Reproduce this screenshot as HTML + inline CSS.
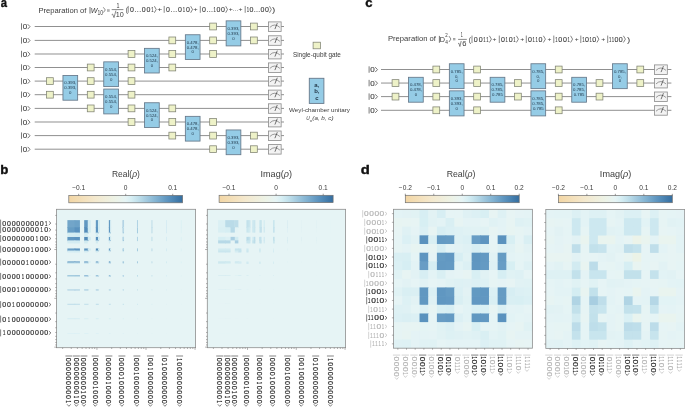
<!DOCTYPE html>
<html><head><meta charset="utf-8"><style>
html,body{margin:0;padding:0;background:#fff;}
body{width:685px;height:407px;overflow:hidden;}
svg{display:block;font-family:"Liberation Sans", sans-serif;will-change:transform;}
</style></head><body>
<svg width="685" height="407" viewBox="0 0 685 407">
<rect width="685" height="407" fill="#fff"/>
<text x="0.67" y="6.90" font-size="12.6" fill="#111" font-weight="bold" textLength="6.26" lengthAdjust="spacingAndGlyphs" stroke="#111" stroke-width="0.35">a</text>
<text x="38.47" y="12.55" font-size="7.4" fill="#3a3a3a" textLength="47.91" lengthAdjust="spacingAndGlyphs" >Preparation of</text>
<line x1="90.00" y1="7.00" x2="90.00" y2="13.60" stroke="#3a3a3a" stroke-width="0.70"/>
<text x="90.68" y="12.80" font-size="7.6" fill="#3a3a3a" font-style="italic" textLength="6.76" lengthAdjust="spacingAndGlyphs" >W</text>
<text x="97.52" y="15.40" font-size="6.3" fill="#3a3a3a" textLength="5.58" lengthAdjust="spacingAndGlyphs" >10</text>
<polyline points="103.30,7.30 105.30,9.95 103.30,12.60" fill="none" stroke="#3a3a3a" stroke-width="0.60" stroke-linejoin="miter"/>
<line x1="107.0" y1="9.9" x2="109.7" y2="9.9" stroke="#3a3a3a" stroke-width="0.55"/>
<line x1="107.0" y1="11.1" x2="109.7" y2="11.1" stroke="#3a3a3a" stroke-width="0.55"/>
<text x="116.59" y="7.80" font-size="6.9" fill="#3a3a3a" textLength="2.97" lengthAdjust="spacingAndGlyphs" >1</text>
<line x1="111.7" y1="9.6" x2="123.4" y2="9.6" stroke="#3a3a3a" stroke-width="0.6"/>
<polyline points="111.7,14.6 112.6,14.1 114.0,17.6 115.9,10.6" fill="none" stroke="#3a3a3a" stroke-width="0.6"/>
<text x="115.65" y="16.90" font-size="7.6" fill="#3a3a3a" textLength="8.03" lengthAdjust="spacingAndGlyphs" >10</text>
<text x="125.80" y="12.40" font-size="7.2" fill="#3a3a3a" textLength="2.14" lengthAdjust="spacingAndGlyphs" >(</text>
<line x1="128.20" y1="5.95" x2="128.20" y2="12.81" stroke="#3a3a3a" stroke-width="0.60"/>
<polyline points="154.40,6.19 156.20,9.48 154.40,12.77" fill="none" stroke="#3a3a3a" stroke-width="0.63" stroke-linejoin="miter"/>
<text x="129.93" y="11.90" font-size="7.0" fill="#3a3a3a"  stroke="#3a3a3a" stroke-width="0.12">0</text>
<text x="134.47" y="11.90" font-size="7.0" fill="#3a3a3a"  stroke="#3a3a3a" stroke-width="0.12">.</text>
<text x="136.85" y="11.90" font-size="7.0" fill="#3a3a3a"  stroke="#3a3a3a" stroke-width="0.12">.</text>
<text x="139.23" y="11.90" font-size="7.0" fill="#3a3a3a"  stroke="#3a3a3a" stroke-width="0.12">.</text>
<text x="141.83" y="11.90" font-size="7.0" fill="#3a3a3a"  stroke="#3a3a3a" stroke-width="0.12">0</text>
<text x="146.58" y="11.90" font-size="7.0" fill="#3a3a3a"  stroke="#3a3a3a" stroke-width="0.12">0</text>
<text transform="translate(152.45,11.90) scale(0.6,1)" x="-2.04" y="0" font-size="7.0" fill="#3a3a3a" stroke="#3a3a3a" stroke-width="0.12">1</text>
<line x1="164.20" y1="5.95" x2="164.20" y2="12.81" stroke="#3a3a3a" stroke-width="0.60"/>
<polyline points="190.70,6.19 192.50,9.48 190.70,12.77" fill="none" stroke="#3a3a3a" stroke-width="0.63" stroke-linejoin="miter"/>
<text x="165.96" y="11.90" font-size="7.0" fill="#3a3a3a"  stroke="#3a3a3a" stroke-width="0.12">0</text>
<text x="170.55" y="11.90" font-size="7.0" fill="#3a3a3a"  stroke="#3a3a3a" stroke-width="0.12">.</text>
<text x="172.95" y="11.90" font-size="7.0" fill="#3a3a3a"  stroke="#3a3a3a" stroke-width="0.12">.</text>
<text x="175.36" y="11.90" font-size="7.0" fill="#3a3a3a"  stroke="#3a3a3a" stroke-width="0.12">.</text>
<text x="178.00" y="11.90" font-size="7.0" fill="#3a3a3a"  stroke="#3a3a3a" stroke-width="0.12">0</text>
<text transform="translate(183.92,11.90) scale(0.6,1)" x="-2.04" y="0" font-size="7.0" fill="#3a3a3a" stroke="#3a3a3a" stroke-width="0.12">1</text>
<text x="185.95" y="11.90" font-size="7.0" fill="#3a3a3a"  stroke="#3a3a3a" stroke-width="0.12">0</text>
<line x1="200.30" y1="5.95" x2="200.30" y2="12.81" stroke="#3a3a3a" stroke-width="0.60"/>
<polyline points="225.70,6.19 227.50,9.48 225.70,12.77" fill="none" stroke="#3a3a3a" stroke-width="0.63" stroke-linejoin="miter"/>
<text x="201.95" y="11.90" font-size="7.0" fill="#3a3a3a"  stroke="#3a3a3a" stroke-width="0.12">0</text>
<text x="206.38" y="11.90" font-size="7.0" fill="#3a3a3a"  stroke="#3a3a3a" stroke-width="0.12">.</text>
<text x="208.68" y="11.90" font-size="7.0" fill="#3a3a3a"  stroke="#3a3a3a" stroke-width="0.12">.</text>
<text x="210.98" y="11.90" font-size="7.0" fill="#3a3a3a"  stroke="#3a3a3a" stroke-width="0.12">.</text>
<text transform="translate(214.60,11.90) scale(0.6,1)" x="-2.04" y="0" font-size="7.0" fill="#3a3a3a" stroke="#3a3a3a" stroke-width="0.12">1</text>
<text x="216.45" y="11.90" font-size="7.0" fill="#3a3a3a"  stroke="#3a3a3a" stroke-width="0.12">0</text>
<text x="221.05" y="11.90" font-size="7.0" fill="#3a3a3a"  stroke="#3a3a3a" stroke-width="0.12">0</text>
<line x1="245.20" y1="5.95" x2="245.20" y2="12.81" stroke="#3a3a3a" stroke-width="0.60"/>
<polyline points="269.50,6.19 271.30,9.48 269.50,12.77" fill="none" stroke="#3a3a3a" stroke-width="0.63" stroke-linejoin="miter"/>
<text transform="translate(247.93,11.90) scale(0.6,1)" x="-2.04" y="0" font-size="7.0" fill="#3a3a3a" stroke="#3a3a3a" stroke-width="0.12">1</text>
<text x="249.60" y="11.90" font-size="7.0" fill="#3a3a3a"  stroke="#3a3a3a" stroke-width="0.12">0</text>
<text x="253.87" y="11.90" font-size="7.0" fill="#3a3a3a"  stroke="#3a3a3a" stroke-width="0.12">.</text>
<text x="256.06" y="11.90" font-size="7.0" fill="#3a3a3a"  stroke="#3a3a3a" stroke-width="0.12">.</text>
<text x="258.25" y="11.90" font-size="7.0" fill="#3a3a3a"  stroke="#3a3a3a" stroke-width="0.12">.</text>
<text x="260.57" y="11.90" font-size="7.0" fill="#3a3a3a"  stroke="#3a3a3a" stroke-width="0.12">0</text>
<text x="264.96" y="11.90" font-size="7.0" fill="#3a3a3a"  stroke="#3a3a3a" stroke-width="0.12">0</text>
<text x="157.39" y="10.80" font-size="6.0" fill="#3a3a3a" textLength="4.93" lengthAdjust="spacingAndGlyphs" >+</text>
<text x="193.23" y="10.80" font-size="6.0" fill="#3a3a3a" textLength="4.45" lengthAdjust="spacingAndGlyphs" >+</text>
<text x="228.76" y="10.90" font-size="6.2" fill="#3a3a3a" textLength="13.78" lengthAdjust="spacingAndGlyphs" >+...+</text>
<text x="271.94" y="12.40" font-size="7.2" fill="#3a3a3a" textLength="3.27" lengthAdjust="spacingAndGlyphs" >)</text>
<line x1="34.70" y1="26.50" x2="284.00" y2="26.50" stroke="#8a8a8a" stroke-width="0.95"/>
<line x1="21.50" y1="23.31" x2="21.50" y2="29.75" stroke="#444" stroke-width="0.70"/>
<polyline points="27.70,24.19 30.00,26.64 27.70,29.09" fill="none" stroke="#444" stroke-width="0.73" stroke-linejoin="miter"/>
<text transform="translate(24.97,29.05) scale(1.15,1)" x="-1.95" y="0" font-size="7.0" fill="#444" stroke="#444" stroke-width="0.12">0</text>
<line x1="34.70" y1="40.40" x2="284.00" y2="40.40" stroke="#8a8a8a" stroke-width="0.95"/>
<line x1="21.50" y1="37.21" x2="21.50" y2="43.65" stroke="#444" stroke-width="0.70"/>
<polyline points="27.70,38.08 30.00,40.53 27.70,42.98" fill="none" stroke="#444" stroke-width="0.73" stroke-linejoin="miter"/>
<text transform="translate(24.97,42.95) scale(1.15,1)" x="-1.95" y="0" font-size="7.0" fill="#444" stroke="#444" stroke-width="0.12">0</text>
<line x1="34.70" y1="54.00" x2="284.00" y2="54.00" stroke="#8a8a8a" stroke-width="0.95"/>
<line x1="21.50" y1="50.81" x2="21.50" y2="57.25" stroke="#444" stroke-width="0.70"/>
<polyline points="27.70,51.68 30.00,54.13 27.70,56.59" fill="none" stroke="#444" stroke-width="0.73" stroke-linejoin="miter"/>
<text transform="translate(24.97,56.55) scale(1.15,1)" x="-1.95" y="0" font-size="7.0" fill="#444" stroke="#444" stroke-width="0.12">0</text>
<line x1="34.70" y1="67.50" x2="284.00" y2="67.50" stroke="#8a8a8a" stroke-width="0.95"/>
<line x1="21.50" y1="64.31" x2="21.50" y2="70.75" stroke="#444" stroke-width="0.70"/>
<polyline points="27.70,65.18 30.00,67.63 27.70,70.08" fill="none" stroke="#444" stroke-width="0.73" stroke-linejoin="miter"/>
<text transform="translate(24.97,70.05) scale(1.15,1)" x="-1.95" y="0" font-size="7.0" fill="#444" stroke="#444" stroke-width="0.12">0</text>
<line x1="34.70" y1="81.10" x2="284.00" y2="81.10" stroke="#8a8a8a" stroke-width="0.95"/>
<line x1="21.50" y1="77.91" x2="21.50" y2="84.35" stroke="#444" stroke-width="0.70"/>
<polyline points="27.70,78.78 30.00,81.23 27.70,83.68" fill="none" stroke="#444" stroke-width="0.73" stroke-linejoin="miter"/>
<text transform="translate(24.97,83.65) scale(1.15,1)" x="-1.95" y="0" font-size="7.0" fill="#444" stroke="#444" stroke-width="0.12">0</text>
<line x1="34.70" y1="94.70" x2="284.00" y2="94.70" stroke="#8a8a8a" stroke-width="0.95"/>
<line x1="21.50" y1="91.51" x2="21.50" y2="97.95" stroke="#444" stroke-width="0.70"/>
<polyline points="27.70,92.38 30.00,94.83 27.70,97.28" fill="none" stroke="#444" stroke-width="0.73" stroke-linejoin="miter"/>
<text transform="translate(24.97,97.25) scale(1.15,1)" x="-1.95" y="0" font-size="7.0" fill="#444" stroke="#444" stroke-width="0.12">0</text>
<line x1="34.70" y1="108.40" x2="284.00" y2="108.40" stroke="#8a8a8a" stroke-width="0.95"/>
<line x1="21.50" y1="105.21" x2="21.50" y2="111.65" stroke="#444" stroke-width="0.70"/>
<polyline points="27.70,106.08 30.00,108.53 27.70,110.98" fill="none" stroke="#444" stroke-width="0.73" stroke-linejoin="miter"/>
<text transform="translate(24.97,110.95) scale(1.15,1)" x="-1.95" y="0" font-size="7.0" fill="#444" stroke="#444" stroke-width="0.12">0</text>
<line x1="34.70" y1="122.00" x2="284.00" y2="122.00" stroke="#8a8a8a" stroke-width="0.95"/>
<line x1="21.50" y1="118.81" x2="21.50" y2="125.25" stroke="#444" stroke-width="0.70"/>
<polyline points="27.70,119.68 30.00,122.13 27.70,124.58" fill="none" stroke="#444" stroke-width="0.73" stroke-linejoin="miter"/>
<text transform="translate(24.97,124.55) scale(1.15,1)" x="-1.95" y="0" font-size="7.0" fill="#444" stroke="#444" stroke-width="0.12">0</text>
<line x1="34.70" y1="135.60" x2="284.00" y2="135.60" stroke="#8a8a8a" stroke-width="0.95"/>
<line x1="21.50" y1="132.41" x2="21.50" y2="138.85" stroke="#444" stroke-width="0.70"/>
<polyline points="27.70,133.29 30.00,135.74 27.70,138.19" fill="none" stroke="#444" stroke-width="0.73" stroke-linejoin="miter"/>
<text transform="translate(24.97,138.15) scale(1.15,1)" x="-1.95" y="0" font-size="7.0" fill="#444" stroke="#444" stroke-width="0.12">0</text>
<line x1="34.70" y1="149.20" x2="284.00" y2="149.20" stroke="#8a8a8a" stroke-width="0.95"/>
<line x1="21.50" y1="146.01" x2="21.50" y2="152.45" stroke="#444" stroke-width="0.70"/>
<polyline points="27.70,146.89 30.00,149.34 27.70,151.78" fill="none" stroke="#444" stroke-width="0.73" stroke-linejoin="miter"/>
<text transform="translate(24.97,151.75) scale(1.15,1)" x="-1.95" y="0" font-size="7.0" fill="#444" stroke="#444" stroke-width="0.12">0</text>
<rect x="46.50" y="77.70" width="6.80" height="6.80" fill="#eef2c8" stroke="#7f8272" stroke-width="0.75"/>
<rect x="46.50" y="91.30" width="6.80" height="6.80" fill="#eef2c8" stroke="#7f8272" stroke-width="0.75"/>
<rect x="87.30" y="64.10" width="6.80" height="6.80" fill="#eef2c8" stroke="#7f8272" stroke-width="0.75"/>
<rect x="87.30" y="77.70" width="6.80" height="6.80" fill="#eef2c8" stroke="#7f8272" stroke-width="0.75"/>
<rect x="87.30" y="91.30" width="6.80" height="6.80" fill="#eef2c8" stroke="#7f8272" stroke-width="0.75"/>
<rect x="87.30" y="105.00" width="6.80" height="6.80" fill="#eef2c8" stroke="#7f8272" stroke-width="0.75"/>
<rect x="128.10" y="50.60" width="6.80" height="6.80" fill="#eef2c8" stroke="#7f8272" stroke-width="0.75"/>
<rect x="128.10" y="64.10" width="6.80" height="6.80" fill="#eef2c8" stroke="#7f8272" stroke-width="0.75"/>
<rect x="128.10" y="77.70" width="6.80" height="6.80" fill="#eef2c8" stroke="#7f8272" stroke-width="0.75"/>
<rect x="128.10" y="91.30" width="6.80" height="6.80" fill="#eef2c8" stroke="#7f8272" stroke-width="0.75"/>
<rect x="128.10" y="105.00" width="6.80" height="6.80" fill="#eef2c8" stroke="#7f8272" stroke-width="0.75"/>
<rect x="128.10" y="118.60" width="6.80" height="6.80" fill="#eef2c8" stroke="#7f8272" stroke-width="0.75"/>
<rect x="168.90" y="37.00" width="6.80" height="6.80" fill="#eef2c8" stroke="#7f8272" stroke-width="0.75"/>
<rect x="168.90" y="50.60" width="6.80" height="6.80" fill="#eef2c8" stroke="#7f8272" stroke-width="0.75"/>
<rect x="168.90" y="64.10" width="6.80" height="6.80" fill="#eef2c8" stroke="#7f8272" stroke-width="0.75"/>
<rect x="168.90" y="105.00" width="6.80" height="6.80" fill="#eef2c8" stroke="#7f8272" stroke-width="0.75"/>
<rect x="168.90" y="118.60" width="6.80" height="6.80" fill="#eef2c8" stroke="#7f8272" stroke-width="0.75"/>
<rect x="168.90" y="132.20" width="6.80" height="6.80" fill="#eef2c8" stroke="#7f8272" stroke-width="0.75"/>
<rect x="209.70" y="23.10" width="6.80" height="6.80" fill="#eef2c8" stroke="#7f8272" stroke-width="0.75"/>
<rect x="209.70" y="37.00" width="6.80" height="6.80" fill="#eef2c8" stroke="#7f8272" stroke-width="0.75"/>
<rect x="209.70" y="50.60" width="6.80" height="6.80" fill="#eef2c8" stroke="#7f8272" stroke-width="0.75"/>
<rect x="209.70" y="118.60" width="6.80" height="6.80" fill="#eef2c8" stroke="#7f8272" stroke-width="0.75"/>
<rect x="209.70" y="132.20" width="6.80" height="6.80" fill="#eef2c8" stroke="#7f8272" stroke-width="0.75"/>
<rect x="209.70" y="145.80" width="6.80" height="6.80" fill="#eef2c8" stroke="#7f8272" stroke-width="0.75"/>
<rect x="250.50" y="23.10" width="6.80" height="6.80" fill="#eef2c8" stroke="#7f8272" stroke-width="0.75"/>
<rect x="250.50" y="37.00" width="6.80" height="6.80" fill="#eef2c8" stroke="#7f8272" stroke-width="0.75"/>
<rect x="250.50" y="132.20" width="6.80" height="6.80" fill="#eef2c8" stroke="#7f8272" stroke-width="0.75"/>
<rect x="250.50" y="145.80" width="6.80" height="6.80" fill="#eef2c8" stroke="#7f8272" stroke-width="0.75"/>
<rect x="62.95" y="75.45" width="14.70" height="24.75" fill="#95cce6" stroke="#66788a" stroke-width="0.85"/>
<text x="70.30" y="84.45" font-size="4.3" fill="#1e3447" text-anchor="middle" >0.393,</text>
<text x="70.30" y="89.30" font-size="4.3" fill="#1e3447" text-anchor="middle" >0.393,</text>
<text x="70.30" y="94.15" font-size="4.3" fill="#1e3447" text-anchor="middle" >0</text>
<rect x="103.75" y="61.85" width="14.70" height="24.75" fill="#95cce6" stroke="#66788a" stroke-width="0.85"/>
<text x="111.10" y="70.85" font-size="4.3" fill="#1e3447" text-anchor="middle" >0.554,</text>
<text x="111.10" y="75.70" font-size="4.3" fill="#1e3447" text-anchor="middle" >0.554,</text>
<text x="111.10" y="80.55" font-size="4.3" fill="#1e3447" text-anchor="middle" >0</text>
<rect x="103.75" y="89.05" width="14.70" height="24.85" fill="#95cce6" stroke="#66788a" stroke-width="0.85"/>
<text x="111.10" y="98.05" font-size="4.3" fill="#1e3447" text-anchor="middle" >0.554,</text>
<text x="111.10" y="102.90" font-size="4.3" fill="#1e3447" text-anchor="middle" >0.554,</text>
<text x="111.10" y="107.75" font-size="4.3" fill="#1e3447" text-anchor="middle" >0</text>
<rect x="144.55" y="48.35" width="14.70" height="24.65" fill="#95cce6" stroke="#66788a" stroke-width="0.85"/>
<text x="151.90" y="57.35" font-size="4.3" fill="#1e3447" text-anchor="middle" >0.524,</text>
<text x="151.90" y="62.20" font-size="4.3" fill="#1e3447" text-anchor="middle" >0.524,</text>
<text x="151.90" y="67.05" font-size="4.3" fill="#1e3447" text-anchor="middle" >0</text>
<rect x="144.55" y="102.75" width="14.70" height="24.75" fill="#95cce6" stroke="#66788a" stroke-width="0.85"/>
<text x="151.90" y="111.75" font-size="4.3" fill="#1e3447" text-anchor="middle" >0.524,</text>
<text x="151.90" y="116.60" font-size="4.3" fill="#1e3447" text-anchor="middle" >0.524,</text>
<text x="151.90" y="121.45" font-size="4.3" fill="#1e3447" text-anchor="middle" >0</text>
<rect x="185.35" y="34.75" width="14.70" height="24.75" fill="#95cce6" stroke="#66788a" stroke-width="0.85"/>
<text x="192.70" y="43.75" font-size="4.3" fill="#1e3447" text-anchor="middle" >0.478,</text>
<text x="192.70" y="48.60" font-size="4.3" fill="#1e3447" text-anchor="middle" >0.478,</text>
<text x="192.70" y="53.45" font-size="4.3" fill="#1e3447" text-anchor="middle" >0</text>
<rect x="185.35" y="116.35" width="14.70" height="24.75" fill="#95cce6" stroke="#66788a" stroke-width="0.85"/>
<text x="192.70" y="125.35" font-size="4.3" fill="#1e3447" text-anchor="middle" >0.478,</text>
<text x="192.70" y="130.20" font-size="4.3" fill="#1e3447" text-anchor="middle" >0.478,</text>
<text x="192.70" y="135.05" font-size="4.3" fill="#1e3447" text-anchor="middle" >0</text>
<rect x="226.15" y="20.85" width="14.70" height="25.05" fill="#95cce6" stroke="#66788a" stroke-width="0.85"/>
<text x="233.50" y="29.85" font-size="4.3" fill="#1e3447" text-anchor="middle" >0.393,</text>
<text x="233.50" y="34.70" font-size="4.3" fill="#1e3447" text-anchor="middle" >0.393,</text>
<text x="233.50" y="39.55" font-size="4.3" fill="#1e3447" text-anchor="middle" >0</text>
<rect x="226.15" y="129.95" width="14.70" height="24.75" fill="#95cce6" stroke="#66788a" stroke-width="0.85"/>
<text x="233.50" y="138.95" font-size="4.3" fill="#1e3447" text-anchor="middle" >0.393,</text>
<text x="233.50" y="143.80" font-size="4.3" fill="#1e3447" text-anchor="middle" >0.393,</text>
<text x="233.50" y="148.65" font-size="4.3" fill="#1e3447" text-anchor="middle" >0</text>
<rect x="268.45" y="21.90" width="12.70" height="9.50" fill="#f3f3f3" stroke="#8a8a8a" stroke-width="0.8"/>
<path d="M269.85,27.40 Q274.50,22.60 279.90,27.40" fill="none" stroke="#5a5a5a" stroke-width="0.6"/>
<path d="M274.90,29.10 L277.30,23.10" fill="none" stroke="#3a3a3a" stroke-width="0.7"/>
<rect x="268.45" y="35.80" width="12.70" height="9.50" fill="#f3f3f3" stroke="#8a8a8a" stroke-width="0.8"/>
<path d="M269.85,41.30 Q274.50,36.50 279.90,41.30" fill="none" stroke="#5a5a5a" stroke-width="0.6"/>
<path d="M274.90,43.00 L277.30,37.00" fill="none" stroke="#3a3a3a" stroke-width="0.7"/>
<rect x="268.45" y="49.40" width="12.70" height="9.50" fill="#f3f3f3" stroke="#8a8a8a" stroke-width="0.8"/>
<path d="M269.85,54.90 Q274.50,50.10 279.90,54.90" fill="none" stroke="#5a5a5a" stroke-width="0.6"/>
<path d="M274.90,56.60 L277.30,50.60" fill="none" stroke="#3a3a3a" stroke-width="0.7"/>
<rect x="268.45" y="62.90" width="12.70" height="9.50" fill="#f3f3f3" stroke="#8a8a8a" stroke-width="0.8"/>
<path d="M269.85,68.40 Q274.50,63.60 279.90,68.40" fill="none" stroke="#5a5a5a" stroke-width="0.6"/>
<path d="M274.90,70.10 L277.30,64.10" fill="none" stroke="#3a3a3a" stroke-width="0.7"/>
<rect x="268.45" y="76.50" width="12.70" height="9.50" fill="#f3f3f3" stroke="#8a8a8a" stroke-width="0.8"/>
<path d="M269.85,82.00 Q274.50,77.20 279.90,82.00" fill="none" stroke="#5a5a5a" stroke-width="0.6"/>
<path d="M274.90,83.70 L277.30,77.70" fill="none" stroke="#3a3a3a" stroke-width="0.7"/>
<rect x="268.45" y="90.10" width="12.70" height="9.50" fill="#f3f3f3" stroke="#8a8a8a" stroke-width="0.8"/>
<path d="M269.85,95.60 Q274.50,90.80 279.90,95.60" fill="none" stroke="#5a5a5a" stroke-width="0.6"/>
<path d="M274.90,97.30 L277.30,91.30" fill="none" stroke="#3a3a3a" stroke-width="0.7"/>
<rect x="268.45" y="103.80" width="12.70" height="9.50" fill="#f3f3f3" stroke="#8a8a8a" stroke-width="0.8"/>
<path d="M269.85,109.30 Q274.50,104.50 279.90,109.30" fill="none" stroke="#5a5a5a" stroke-width="0.6"/>
<path d="M274.90,111.00 L277.30,105.00" fill="none" stroke="#3a3a3a" stroke-width="0.7"/>
<rect x="268.45" y="117.40" width="12.70" height="9.50" fill="#f3f3f3" stroke="#8a8a8a" stroke-width="0.8"/>
<path d="M269.85,122.90 Q274.50,118.10 279.90,122.90" fill="none" stroke="#5a5a5a" stroke-width="0.6"/>
<path d="M274.90,124.60 L277.30,118.60" fill="none" stroke="#3a3a3a" stroke-width="0.7"/>
<rect x="268.45" y="131.00" width="12.70" height="9.50" fill="#f3f3f3" stroke="#8a8a8a" stroke-width="0.8"/>
<path d="M269.85,136.50 Q274.50,131.70 279.90,136.50" fill="none" stroke="#5a5a5a" stroke-width="0.6"/>
<path d="M274.90,138.20 L277.30,132.20" fill="none" stroke="#3a3a3a" stroke-width="0.7"/>
<rect x="268.45" y="144.60" width="12.70" height="9.50" fill="#f3f3f3" stroke="#8a8a8a" stroke-width="0.8"/>
<path d="M269.85,150.10 Q274.50,145.30 279.90,150.10" fill="none" stroke="#5a5a5a" stroke-width="0.6"/>
<path d="M274.90,151.80 L277.30,145.80" fill="none" stroke="#3a3a3a" stroke-width="0.7"/>
<rect x="313.1" y="42.2" width="7.3" height="6.6" fill="#eef2c8" stroke="#7f8272" stroke-width="0.75"/>
<text x="292.91" y="56.60" font-size="6.3" fill="#3a3a3a" textLength="47.97" lengthAdjust="spacingAndGlyphs" >Single-qubit gate</text>
<rect x="309.3" y="78.3" width="14.6" height="25.1" fill="#95cce6" stroke="#66788a" stroke-width="0.9"/>
<text x="316.80" y="86.60" font-size="6.0" fill="#24394a" text-anchor="middle" font-weight="bold" >a,</text>
<text x="316.80" y="93.40" font-size="6.0" fill="#24394a" text-anchor="middle" font-weight="bold" >b,</text>
<text x="316.80" y="100.20" font-size="6.0" fill="#24394a" text-anchor="middle" font-weight="bold" >c</text>
<text x="289.07" y="112.40" font-size="6.2" fill="#3a3a3a" textLength="60.84" lengthAdjust="spacingAndGlyphs" >Weyl-chamber unitary</text>
<text x="306.14" y="120.20" font-size="5.8" fill="#3a3a3a" font-style="italic" textLength="3.43" lengthAdjust="spacingAndGlyphs" >U</text>
<text x="309.85" y="121.50" font-size="3.6" fill="#3a3a3a" font-style="italic" textLength="2.19" lengthAdjust="spacingAndGlyphs" >w</text>
<text x="312.31" y="120.00" font-size="6.2" fill="#3a3a3a" font-style="italic" textLength="21.27" lengthAdjust="spacingAndGlyphs" >(a, b, c)</text>
<text x="365.29" y="6.80" font-size="12.6" fill="#111" font-weight="bold" textLength="7.30" lengthAdjust="spacingAndGlyphs" stroke="#111" stroke-width="0.35">c</text>
<text x="387.97" y="41.45" font-size="7.4" fill="#3a3a3a" textLength="48.02" lengthAdjust="spacingAndGlyphs" >Preparation of</text>
<line x1="439.40" y1="35.90" x2="439.40" y2="42.80" stroke="#3a3a3a" stroke-width="0.70"/>
<text x="439.70" y="42.00" font-size="7.2" fill="#3a3a3a" textLength="5.24" lengthAdjust="spacingAndGlyphs" >D</text>
<text x="445.18" y="36.90" font-size="4.6" fill="#3a3a3a" textLength="2.44" lengthAdjust="spacingAndGlyphs" >2</text>
<text x="445.29" y="43.60" font-size="4.6" fill="#3a3a3a" textLength="2.65" lengthAdjust="spacingAndGlyphs" >4</text>
<polyline points="449.00,36.10 450.90,39.05 449.00,42.00" fill="none" stroke="#3a3a3a" stroke-width="0.60" stroke-linejoin="miter"/>
<line x1="453.0" y1="38.6" x2="455.4" y2="38.6" stroke="#3a3a3a" stroke-width="0.55"/>
<line x1="453.0" y1="39.8" x2="455.4" y2="39.8" stroke="#3a3a3a" stroke-width="0.55"/>
<text x="460.82" y="36.60" font-size="7.1" fill="#3a3a3a" textLength="2.06" lengthAdjust="spacingAndGlyphs" >1</text>
<line x1="458.1" y1="39.4" x2="466.8" y2="39.4" stroke="#3a3a3a" stroke-width="0.6"/>
<polyline points="458.1,43.6 458.9,43.2 459.9,46.5 461.2,41.0" fill="none" stroke="#3a3a3a" stroke-width="0.6"/>
<text x="462.31" y="46.10" font-size="6.9" fill="#3a3a3a" textLength="4.22" lengthAdjust="spacingAndGlyphs" >6</text>
<text x="468.78" y="42.10" font-size="7.0" fill="#3a3a3a" textLength="2.26" lengthAdjust="spacingAndGlyphs" >(</text>
<line x1="472.00" y1="35.57" x2="472.00" y2="43.02" stroke="#3a3a3a" stroke-width="0.60"/>
<polyline points="489.40,35.78 491.40,39.15 489.40,42.52" fill="none" stroke="#3a3a3a" stroke-width="0.63" stroke-linejoin="miter"/>
<text x="473.78" y="41.60" font-size="7.1" fill="#3a3a3a"  stroke="#3a3a3a" stroke-width="0.12">0</text>
<text x="478.69" y="41.60" font-size="7.1" fill="#3a3a3a"  stroke="#3a3a3a" stroke-width="0.12">0</text>
<text transform="translate(484.58,41.60) scale(0.6,1)" x="-2.07" y="0" font-size="7.1" fill="#3a3a3a" stroke="#3a3a3a" stroke-width="0.12">1</text>
<text transform="translate(487.53,41.60) scale(0.6,1)" x="-2.07" y="0" font-size="7.1" fill="#3a3a3a" stroke="#3a3a3a" stroke-width="0.12">1</text>
<line x1="499.30" y1="35.57" x2="499.30" y2="43.02" stroke="#3a3a3a" stroke-width="0.60"/>
<polyline points="516.40,35.78 518.40,39.15 516.40,42.52" fill="none" stroke="#3a3a3a" stroke-width="0.63" stroke-linejoin="miter"/>
<text x="501.03" y="41.60" font-size="7.1" fill="#3a3a3a"  stroke="#3a3a3a" stroke-width="0.12">0</text>
<text transform="translate(506.86,41.60) scale(0.6,1)" x="-2.07" y="0" font-size="7.1" fill="#3a3a3a" stroke="#3a3a3a" stroke-width="0.12">1</text>
<text x="508.73" y="41.60" font-size="7.1" fill="#3a3a3a"  stroke="#3a3a3a" stroke-width="0.12">0</text>
<text transform="translate(514.56,41.60) scale(0.6,1)" x="-2.07" y="0" font-size="7.1" fill="#3a3a3a" stroke="#3a3a3a" stroke-width="0.12">1</text>
<line x1="526.30" y1="35.57" x2="526.30" y2="43.02" stroke="#3a3a3a" stroke-width="0.60"/>
<polyline points="543.40,35.78 545.40,39.15 543.40,42.52" fill="none" stroke="#3a3a3a" stroke-width="0.63" stroke-linejoin="miter"/>
<text x="528.03" y="41.60" font-size="7.1" fill="#3a3a3a"  stroke="#3a3a3a" stroke-width="0.12">0</text>
<text transform="translate(533.86,41.60) scale(0.6,1)" x="-2.07" y="0" font-size="7.1" fill="#3a3a3a" stroke="#3a3a3a" stroke-width="0.12">1</text>
<text transform="translate(536.74,41.60) scale(0.6,1)" x="-2.07" y="0" font-size="7.1" fill="#3a3a3a" stroke="#3a3a3a" stroke-width="0.12">1</text>
<text x="538.62" y="41.60" font-size="7.1" fill="#3a3a3a"  stroke="#3a3a3a" stroke-width="0.12">0</text>
<line x1="553.80" y1="35.57" x2="553.80" y2="43.02" stroke="#3a3a3a" stroke-width="0.60"/>
<polyline points="570.60,35.78 572.60,39.15 570.60,42.52" fill="none" stroke="#3a3a3a" stroke-width="0.63" stroke-linejoin="miter"/>
<text transform="translate(556.52,41.60) scale(0.6,1)" x="-2.07" y="0" font-size="7.1" fill="#3a3a3a" stroke="#3a3a3a" stroke-width="0.12">1</text>
<text x="558.32" y="41.60" font-size="7.1" fill="#3a3a3a"  stroke="#3a3a3a" stroke-width="0.12">0</text>
<text x="563.04" y="41.60" font-size="7.1" fill="#3a3a3a"  stroke="#3a3a3a" stroke-width="0.12">0</text>
<text transform="translate(568.78,41.60) scale(0.6,1)" x="-2.07" y="0" font-size="7.1" fill="#3a3a3a" stroke="#3a3a3a" stroke-width="0.12">1</text>
<line x1="580.80" y1="35.57" x2="580.80" y2="43.02" stroke="#3a3a3a" stroke-width="0.60"/>
<polyline points="596.90,35.78 598.90,39.15 596.90,42.52" fill="none" stroke="#3a3a3a" stroke-width="0.63" stroke-linejoin="miter"/>
<text transform="translate(583.45,41.60) scale(0.6,1)" x="-2.07" y="0" font-size="7.1" fill="#3a3a3a" stroke="#3a3a3a" stroke-width="0.12">1</text>
<text x="585.08" y="41.60" font-size="7.1" fill="#3a3a3a"  stroke="#3a3a3a" stroke-width="0.12">0</text>
<text transform="translate(590.65,41.60) scale(0.6,1)" x="-2.07" y="0" font-size="7.1" fill="#3a3a3a" stroke="#3a3a3a" stroke-width="0.12">1</text>
<text x="592.28" y="41.60" font-size="7.1" fill="#3a3a3a"  stroke="#3a3a3a" stroke-width="0.12">0</text>
<line x1="607.70" y1="35.57" x2="607.70" y2="43.02" stroke="#3a3a3a" stroke-width="0.60"/>
<polyline points="623.40,35.78 625.40,39.15 623.40,42.52" fill="none" stroke="#3a3a3a" stroke-width="0.63" stroke-linejoin="miter"/>
<text transform="translate(610.31,41.60) scale(0.6,1)" x="-2.07" y="0" font-size="7.1" fill="#3a3a3a" stroke="#3a3a3a" stroke-width="0.12">1</text>
<text transform="translate(612.94,41.60) scale(0.6,1)" x="-2.07" y="0" font-size="7.1" fill="#3a3a3a" stroke="#3a3a3a" stroke-width="0.12">1</text>
<text x="614.46" y="41.60" font-size="7.1" fill="#3a3a3a"  stroke="#3a3a3a" stroke-width="0.12">0</text>
<text x="618.84" y="41.60" font-size="7.1" fill="#3a3a3a"  stroke="#3a3a3a" stroke-width="0.12">0</text>
<text x="492.57" y="41.00" font-size="6.0" fill="#3a3a3a" textLength="3.97" lengthAdjust="spacingAndGlyphs" >+</text>
<text x="520.37" y="41.00" font-size="6.0" fill="#3a3a3a" textLength="3.97" lengthAdjust="spacingAndGlyphs" >+</text>
<text x="547.47" y="41.00" font-size="6.0" fill="#3a3a3a" textLength="3.97" lengthAdjust="spacingAndGlyphs" >+</text>
<text x="574.67" y="41.00" font-size="6.0" fill="#3a3a3a" textLength="3.97" lengthAdjust="spacingAndGlyphs" >+</text>
<text x="601.27" y="41.00" font-size="6.0" fill="#3a3a3a" textLength="3.97" lengthAdjust="spacingAndGlyphs" >+</text>
<text x="627.14" y="42.10" font-size="7.0" fill="#3a3a3a" textLength="3.27" lengthAdjust="spacingAndGlyphs" >)</text>
<line x1="381.00" y1="69.50" x2="671.40" y2="69.50" stroke="#8a8a8a" stroke-width="0.95"/>
<line x1="369.10" y1="66.31" x2="369.10" y2="72.75" stroke="#444" stroke-width="0.70"/>
<polyline points="375.20,67.18 377.50,69.63 375.20,72.08" fill="none" stroke="#444" stroke-width="0.73" stroke-linejoin="miter"/>
<text transform="translate(372.52,72.05) scale(1.15,1)" x="-1.95" y="0" font-size="7.0" fill="#444" stroke="#444" stroke-width="0.12">0</text>
<line x1="381.00" y1="83.05" x2="671.40" y2="83.05" stroke="#8a8a8a" stroke-width="0.95"/>
<line x1="369.10" y1="79.86" x2="369.10" y2="86.30" stroke="#444" stroke-width="0.70"/>
<polyline points="375.20,80.73 377.50,83.18 375.20,85.63" fill="none" stroke="#444" stroke-width="0.73" stroke-linejoin="miter"/>
<text transform="translate(372.52,85.60) scale(1.15,1)" x="-1.95" y="0" font-size="7.0" fill="#444" stroke="#444" stroke-width="0.12">0</text>
<line x1="381.00" y1="96.60" x2="671.40" y2="96.60" stroke="#8a8a8a" stroke-width="0.95"/>
<line x1="369.10" y1="93.41" x2="369.10" y2="99.85" stroke="#444" stroke-width="0.70"/>
<polyline points="375.20,94.28 377.50,96.73 375.20,99.18" fill="none" stroke="#444" stroke-width="0.73" stroke-linejoin="miter"/>
<text transform="translate(372.52,99.15) scale(1.15,1)" x="-1.95" y="0" font-size="7.0" fill="#444" stroke="#444" stroke-width="0.12">0</text>
<line x1="381.00" y1="110.30" x2="671.40" y2="110.30" stroke="#8a8a8a" stroke-width="0.95"/>
<line x1="369.10" y1="107.11" x2="369.10" y2="113.55" stroke="#444" stroke-width="0.70"/>
<polyline points="375.20,107.98 377.50,110.43 375.20,112.88" fill="none" stroke="#444" stroke-width="0.73" stroke-linejoin="miter"/>
<text transform="translate(372.52,112.85) scale(1.15,1)" x="-1.95" y="0" font-size="7.0" fill="#444" stroke="#444" stroke-width="0.12">0</text>
<rect x="392.10" y="79.65" width="6.80" height="6.80" fill="#eef2c8" stroke="#7f8272" stroke-width="0.75"/>
<rect x="392.10" y="93.20" width="6.80" height="6.80" fill="#eef2c8" stroke="#7f8272" stroke-width="0.75"/>
<rect x="432.90" y="66.10" width="6.80" height="6.80" fill="#eef2c8" stroke="#7f8272" stroke-width="0.75"/>
<rect x="432.90" y="79.65" width="6.80" height="6.80" fill="#eef2c8" stroke="#7f8272" stroke-width="0.75"/>
<rect x="432.90" y="93.20" width="6.80" height="6.80" fill="#eef2c8" stroke="#7f8272" stroke-width="0.75"/>
<rect x="432.90" y="106.90" width="6.80" height="6.80" fill="#eef2c8" stroke="#7f8272" stroke-width="0.75"/>
<rect x="473.70" y="66.10" width="6.80" height="6.80" fill="#eef2c8" stroke="#7f8272" stroke-width="0.75"/>
<rect x="473.70" y="79.65" width="6.80" height="6.80" fill="#eef2c8" stroke="#7f8272" stroke-width="0.75"/>
<rect x="473.70" y="93.20" width="6.80" height="6.80" fill="#eef2c8" stroke="#7f8272" stroke-width="0.75"/>
<rect x="473.70" y="106.90" width="6.80" height="6.80" fill="#eef2c8" stroke="#7f8272" stroke-width="0.75"/>
<rect x="514.50" y="79.65" width="6.80" height="6.80" fill="#eef2c8" stroke="#7f8272" stroke-width="0.75"/>
<rect x="514.50" y="93.20" width="6.80" height="6.80" fill="#eef2c8" stroke="#7f8272" stroke-width="0.75"/>
<rect x="555.30" y="66.10" width="6.80" height="6.80" fill="#eef2c8" stroke="#7f8272" stroke-width="0.75"/>
<rect x="555.30" y="79.65" width="6.80" height="6.80" fill="#eef2c8" stroke="#7f8272" stroke-width="0.75"/>
<rect x="555.30" y="93.20" width="6.80" height="6.80" fill="#eef2c8" stroke="#7f8272" stroke-width="0.75"/>
<rect x="555.30" y="106.90" width="6.80" height="6.80" fill="#eef2c8" stroke="#7f8272" stroke-width="0.75"/>
<rect x="596.10" y="79.65" width="6.80" height="6.80" fill="#eef2c8" stroke="#7f8272" stroke-width="0.75"/>
<rect x="596.10" y="93.20" width="6.80" height="6.80" fill="#eef2c8" stroke="#7f8272" stroke-width="0.75"/>
<rect x="636.90" y="66.10" width="6.80" height="6.80" fill="#eef2c8" stroke="#7f8272" stroke-width="0.75"/>
<rect x="636.90" y="79.65" width="6.80" height="6.80" fill="#eef2c8" stroke="#7f8272" stroke-width="0.75"/>
<rect x="408.55" y="77.30" width="14.70" height="24.90" fill="#95cce6" stroke="#66788a" stroke-width="0.85"/>
<text x="415.90" y="86.30" font-size="4.3" fill="#1e3447" text-anchor="middle" >0.478,</text>
<text x="415.90" y="91.15" font-size="4.3" fill="#1e3447" text-anchor="middle" >0.478,</text>
<text x="415.90" y="96.00" font-size="4.3" fill="#1e3447" text-anchor="middle" >0</text>
<rect x="449.35" y="63.75" width="14.70" height="24.90" fill="#95cce6" stroke="#66788a" stroke-width="0.85"/>
<text x="456.70" y="72.75" font-size="4.3" fill="#1e3447" text-anchor="middle" >0.785,</text>
<text x="456.70" y="77.60" font-size="4.3" fill="#1e3447" text-anchor="middle" >0,</text>
<text x="456.70" y="82.45" font-size="4.3" fill="#1e3447" text-anchor="middle" >0</text>
<rect x="449.35" y="90.85" width="14.70" height="25.05" fill="#95cce6" stroke="#66788a" stroke-width="0.85"/>
<text x="456.70" y="99.85" font-size="4.3" fill="#1e3447" text-anchor="middle" >0.393,</text>
<text x="456.70" y="104.70" font-size="4.3" fill="#1e3447" text-anchor="middle" >0.393,</text>
<text x="456.70" y="109.55" font-size="4.3" fill="#1e3447" text-anchor="middle" >0</text>
<rect x="490.15" y="77.30" width="14.70" height="24.90" fill="#95cce6" stroke="#66788a" stroke-width="0.85"/>
<text x="497.50" y="86.30" font-size="4.3" fill="#1e3447" text-anchor="middle" >0.785,</text>
<text x="497.50" y="91.15" font-size="4.3" fill="#1e3447" text-anchor="middle" >0.785,</text>
<text x="497.50" y="96.00" font-size="4.3" fill="#1e3447" text-anchor="middle" >0.785</text>
<rect x="530.95" y="63.75" width="14.70" height="24.90" fill="#95cce6" stroke="#66788a" stroke-width="0.85"/>
<text x="538.30" y="72.75" font-size="4.3" fill="#1e3447" text-anchor="middle" >0.785,</text>
<text x="538.30" y="77.60" font-size="4.3" fill="#1e3447" text-anchor="middle" >0,</text>
<text x="538.30" y="82.45" font-size="4.3" fill="#1e3447" text-anchor="middle" >0</text>
<rect x="530.95" y="90.85" width="14.70" height="25.05" fill="#95cce6" stroke="#66788a" stroke-width="0.85"/>
<text x="538.30" y="99.85" font-size="4.3" fill="#1e3447" text-anchor="middle" >0.785,</text>
<text x="538.30" y="104.70" font-size="4.3" fill="#1e3447" text-anchor="middle" >0.785,</text>
<text x="538.30" y="109.55" font-size="4.3" fill="#1e3447" text-anchor="middle" >0.785</text>
<rect x="571.75" y="77.30" width="14.70" height="24.90" fill="#95cce6" stroke="#66788a" stroke-width="0.85"/>
<text x="579.10" y="86.30" font-size="4.3" fill="#1e3447" text-anchor="middle" >0.785,</text>
<text x="579.10" y="91.15" font-size="4.3" fill="#1e3447" text-anchor="middle" >0.785,</text>
<text x="579.10" y="96.00" font-size="4.3" fill="#1e3447" text-anchor="middle" >0.785</text>
<rect x="612.55" y="63.75" width="14.70" height="24.90" fill="#95cce6" stroke="#66788a" stroke-width="0.85"/>
<text x="619.90" y="72.75" font-size="4.3" fill="#1e3447" text-anchor="middle" >0.785,</text>
<text x="619.90" y="77.60" font-size="4.3" fill="#1e3447" text-anchor="middle" >0,</text>
<text x="619.90" y="82.45" font-size="4.3" fill="#1e3447" text-anchor="middle" >0</text>
<rect x="654.60" y="64.90" width="12.70" height="9.50" fill="#f3f3f3" stroke="#8a8a8a" stroke-width="0.8"/>
<path d="M656.00,70.40 Q660.65,65.60 666.05,70.40" fill="none" stroke="#5a5a5a" stroke-width="0.6"/>
<path d="M661.05,72.10 L663.45,66.10" fill="none" stroke="#3a3a3a" stroke-width="0.7"/>
<rect x="654.60" y="78.45" width="12.70" height="9.50" fill="#f3f3f3" stroke="#8a8a8a" stroke-width="0.8"/>
<path d="M656.00,83.95 Q660.65,79.15 666.05,83.95" fill="none" stroke="#5a5a5a" stroke-width="0.6"/>
<path d="M661.05,85.65 L663.45,79.65" fill="none" stroke="#3a3a3a" stroke-width="0.7"/>
<rect x="654.60" y="92.00" width="12.70" height="9.50" fill="#f3f3f3" stroke="#8a8a8a" stroke-width="0.8"/>
<path d="M656.00,97.50 Q660.65,92.70 666.05,97.50" fill="none" stroke="#5a5a5a" stroke-width="0.6"/>
<path d="M661.05,99.20 L663.45,93.20" fill="none" stroke="#3a3a3a" stroke-width="0.7"/>
<rect x="654.60" y="105.70" width="12.70" height="9.50" fill="#f3f3f3" stroke="#8a8a8a" stroke-width="0.8"/>
<path d="M656.00,111.20 Q660.65,106.40 666.05,111.20" fill="none" stroke="#5a5a5a" stroke-width="0.6"/>
<path d="M661.05,112.90 L663.45,106.90" fill="none" stroke="#3a3a3a" stroke-width="0.7"/>
<text x="360.79" y="173.60" font-size="12.4" fill="#111" font-weight="bold" textLength="9.09" lengthAdjust="spacingAndGlyphs" stroke="#111" stroke-width="0.35">d</text>
<rect x="393.50" y="209.30" width="138.88" height="138.88" fill="#e6f4f5"/>
<rect x="393.50" y="209.30" width="9.38" height="9.38" fill="#e3f3f5"/>
<rect x="402.18" y="209.30" width="9.38" height="9.38" fill="#e2f2f4"/>
<rect x="410.86" y="209.30" width="9.38" height="9.38" fill="#e1f2f4"/>
<rect x="419.54" y="209.30" width="9.38" height="9.38" fill="#d7eef3"/>
<rect x="428.22" y="209.30" width="9.38" height="9.38" fill="#e2f2f4"/>
<rect x="436.90" y="209.30" width="9.38" height="9.38" fill="#d7eef3"/>
<rect x="445.58" y="209.30" width="9.38" height="9.38" fill="#e6f4f5"/>
<rect x="454.26" y="209.30" width="9.38" height="9.38" fill="#e6f4f5"/>
<rect x="462.94" y="209.30" width="9.38" height="9.38" fill="#dff1f4"/>
<rect x="471.62" y="209.30" width="9.38" height="9.38" fill="#dcf0f4"/>
<rect x="480.30" y="209.30" width="9.38" height="9.38" fill="#d8eff3"/>
<rect x="488.98" y="209.30" width="9.38" height="9.38" fill="#e7f4f3"/>
<rect x="497.66" y="209.30" width="9.38" height="9.38" fill="#def1f4"/>
<rect x="506.34" y="209.30" width="9.38" height="9.38" fill="#e7f4f4"/>
<rect x="515.02" y="209.30" width="9.38" height="9.38" fill="#e5f3f5"/>
<rect x="523.70" y="209.30" width="8.68" height="9.38" fill="#e4f3f5"/>
<rect x="393.50" y="217.98" width="9.38" height="9.38" fill="#e7f4f2"/>
<rect x="402.18" y="217.98" width="9.38" height="9.38" fill="#e7f4f3"/>
<rect x="410.86" y="217.98" width="9.38" height="9.38" fill="#e7f4f4"/>
<rect x="419.54" y="217.98" width="9.38" height="9.38" fill="#d7eff3"/>
<rect x="428.22" y="217.98" width="9.38" height="9.38" fill="#e1f2f4"/>
<rect x="436.90" y="217.98" width="9.38" height="9.38" fill="#e3f3f5"/>
<rect x="445.58" y="217.98" width="9.38" height="9.38" fill="#d9eff3"/>
<rect x="454.26" y="217.98" width="9.38" height="9.38" fill="#e7f4f3"/>
<rect x="462.94" y="217.98" width="9.38" height="9.38" fill="#e4f3f5"/>
<rect x="471.62" y="217.98" width="9.38" height="9.38" fill="#e4f3f5"/>
<rect x="480.30" y="217.98" width="9.38" height="9.38" fill="#e6f4f5"/>
<rect x="488.98" y="217.98" width="9.38" height="9.38" fill="#e0f2f4"/>
<rect x="497.66" y="217.98" width="9.38" height="9.38" fill="#e3f3f5"/>
<rect x="506.34" y="217.98" width="9.38" height="9.38" fill="#e7f4f3"/>
<rect x="515.02" y="217.98" width="9.38" height="9.38" fill="#def1f4"/>
<rect x="523.70" y="217.98" width="8.68" height="9.38" fill="#e0f2f4"/>
<rect x="393.50" y="226.66" width="9.38" height="9.38" fill="#e7f4f4"/>
<rect x="402.18" y="226.66" width="9.38" height="9.38" fill="#dff1f4"/>
<rect x="410.86" y="226.66" width="9.38" height="9.38" fill="#e5f3f5"/>
<rect x="419.54" y="226.66" width="9.38" height="9.38" fill="#dbf0f4"/>
<rect x="428.22" y="226.66" width="9.38" height="9.38" fill="#e7f4f3"/>
<rect x="436.90" y="226.66" width="9.38" height="9.38" fill="#d7eef3"/>
<rect x="445.58" y="226.66" width="9.38" height="9.38" fill="#dbf0f4"/>
<rect x="454.26" y="226.66" width="9.38" height="9.38" fill="#def1f4"/>
<rect x="462.94" y="226.66" width="9.38" height="9.38" fill="#e0f2f4"/>
<rect x="471.62" y="226.66" width="9.38" height="9.38" fill="#e1f2f4"/>
<rect x="480.30" y="226.66" width="9.38" height="9.38" fill="#e0f2f4"/>
<rect x="488.98" y="226.66" width="9.38" height="9.38" fill="#e7f4f3"/>
<rect x="497.66" y="226.66" width="9.38" height="9.38" fill="#e4f3f5"/>
<rect x="506.34" y="226.66" width="9.38" height="9.38" fill="#e7f4f2"/>
<rect x="515.02" y="226.66" width="9.38" height="9.38" fill="#e6f4f4"/>
<rect x="523.70" y="226.66" width="8.68" height="9.38" fill="#e4f3f5"/>
<rect x="393.50" y="235.34" width="9.38" height="9.38" fill="#e6f4f5"/>
<rect x="402.18" y="235.34" width="9.38" height="9.38" fill="#dbf0f4"/>
<rect x="410.86" y="235.34" width="9.38" height="9.38" fill="#e1f2f4"/>
<rect x="419.54" y="235.34" width="9.38" height="9.38" fill="#5a92be"/>
<rect x="428.22" y="235.34" width="9.38" height="9.38" fill="#d9eff3"/>
<rect x="436.90" y="235.34" width="9.38" height="9.38" fill="#639ac3"/>
<rect x="445.58" y="235.34" width="9.38" height="9.38" fill="#659bc3"/>
<rect x="454.26" y="235.34" width="9.38" height="9.38" fill="#def1f4"/>
<rect x="462.94" y="235.34" width="9.38" height="9.38" fill="#dbf0f4"/>
<rect x="471.62" y="235.34" width="9.38" height="9.38" fill="#689dc5"/>
<rect x="480.30" y="235.34" width="9.38" height="9.38" fill="#5e95c0"/>
<rect x="488.98" y="235.34" width="9.38" height="9.38" fill="#e6f4f5"/>
<rect x="497.66" y="235.34" width="9.38" height="9.38" fill="#5a92be"/>
<rect x="506.34" y="235.34" width="9.38" height="9.38" fill="#d8eff3"/>
<rect x="515.02" y="235.34" width="9.38" height="9.38" fill="#e6f4f5"/>
<rect x="523.70" y="235.34" width="8.68" height="9.38" fill="#d9eff3"/>
<rect x="393.50" y="244.02" width="9.38" height="9.38" fill="#e6f4f4"/>
<rect x="402.18" y="244.02" width="9.38" height="9.38" fill="#e4f3f5"/>
<rect x="410.86" y="244.02" width="9.38" height="9.38" fill="#e7f4f2"/>
<rect x="419.54" y="244.02" width="9.38" height="9.38" fill="#e5f4f5"/>
<rect x="428.22" y="244.02" width="9.38" height="9.38" fill="#e7f4f3"/>
<rect x="436.90" y="244.02" width="9.38" height="9.38" fill="#d7eef3"/>
<rect x="445.58" y="244.02" width="9.38" height="9.38" fill="#e3f3f5"/>
<rect x="454.26" y="244.02" width="9.38" height="9.38" fill="#e2f2f4"/>
<rect x="462.94" y="244.02" width="9.38" height="9.38" fill="#dff1f4"/>
<rect x="471.62" y="244.02" width="9.38" height="9.38" fill="#d7eef3"/>
<rect x="480.30" y="244.02" width="9.38" height="9.38" fill="#e0f2f4"/>
<rect x="488.98" y="244.02" width="9.38" height="9.38" fill="#e6f4f4"/>
<rect x="497.66" y="244.02" width="9.38" height="9.38" fill="#def1f4"/>
<rect x="506.34" y="244.02" width="9.38" height="9.38" fill="#e1f2f4"/>
<rect x="515.02" y="244.02" width="9.38" height="9.38" fill="#e7f4f3"/>
<rect x="523.70" y="244.02" width="8.68" height="9.38" fill="#e2f2f4"/>
<rect x="393.50" y="252.70" width="9.38" height="9.38" fill="#d9eff3"/>
<rect x="402.18" y="252.70" width="9.38" height="9.38" fill="#d8eff3"/>
<rect x="410.86" y="252.70" width="9.38" height="9.38" fill="#e5f4f5"/>
<rect x="419.54" y="252.70" width="9.38" height="9.38" fill="#5e95c0"/>
<rect x="428.22" y="252.70" width="9.38" height="9.38" fill="#e5f3f5"/>
<rect x="436.90" y="252.70" width="9.38" height="9.38" fill="#659bc3"/>
<rect x="445.58" y="252.70" width="9.38" height="9.38" fill="#6298c2"/>
<rect x="454.26" y="252.70" width="9.38" height="9.38" fill="#d7eef3"/>
<rect x="462.94" y="252.70" width="9.38" height="9.38" fill="#e1f2f4"/>
<rect x="471.62" y="252.70" width="9.38" height="9.38" fill="#5f96c0"/>
<rect x="480.30" y="252.70" width="9.38" height="9.38" fill="#6399c2"/>
<rect x="488.98" y="252.70" width="9.38" height="9.38" fill="#e1f2f4"/>
<rect x="497.66" y="252.70" width="9.38" height="9.38" fill="#659bc3"/>
<rect x="506.34" y="252.70" width="9.38" height="9.38" fill="#e3f3f5"/>
<rect x="515.02" y="252.70" width="9.38" height="9.38" fill="#e5f4f5"/>
<rect x="523.70" y="252.70" width="8.68" height="9.38" fill="#e4f3f5"/>
<rect x="393.50" y="261.38" width="9.38" height="9.38" fill="#dbf0f4"/>
<rect x="402.18" y="261.38" width="9.38" height="9.38" fill="#d6eef3"/>
<rect x="410.86" y="261.38" width="9.38" height="9.38" fill="#e3f3f5"/>
<rect x="419.54" y="261.38" width="9.38" height="9.38" fill="#689dc5"/>
<rect x="428.22" y="261.38" width="9.38" height="9.38" fill="#d6eef3"/>
<rect x="436.90" y="261.38" width="9.38" height="9.38" fill="#6399c2"/>
<rect x="445.58" y="261.38" width="9.38" height="9.38" fill="#649ac3"/>
<rect x="454.26" y="261.38" width="9.38" height="9.38" fill="#e2f3f5"/>
<rect x="462.94" y="261.38" width="9.38" height="9.38" fill="#dcf0f4"/>
<rect x="471.62" y="261.38" width="9.38" height="9.38" fill="#6097c1"/>
<rect x="480.30" y="261.38" width="9.38" height="9.38" fill="#649ac3"/>
<rect x="488.98" y="261.38" width="9.38" height="9.38" fill="#dff1f4"/>
<rect x="497.66" y="261.38" width="9.38" height="9.38" fill="#689dc5"/>
<rect x="506.34" y="261.38" width="9.38" height="9.38" fill="#d7eff3"/>
<rect x="515.02" y="261.38" width="9.38" height="9.38" fill="#e5f4f5"/>
<rect x="523.70" y="261.38" width="8.68" height="9.38" fill="#def1f4"/>
<rect x="393.50" y="270.06" width="9.38" height="9.38" fill="#e0f2f4"/>
<rect x="402.18" y="270.06" width="9.38" height="9.38" fill="#e7f4f3"/>
<rect x="410.86" y="270.06" width="9.38" height="9.38" fill="#e2f2f4"/>
<rect x="419.54" y="270.06" width="9.38" height="9.38" fill="#d7eef3"/>
<rect x="428.22" y="270.06" width="9.38" height="9.38" fill="#e3f3f5"/>
<rect x="436.90" y="270.06" width="9.38" height="9.38" fill="#d9eff3"/>
<rect x="445.58" y="270.06" width="9.38" height="9.38" fill="#e4f3f5"/>
<rect x="454.26" y="270.06" width="9.38" height="9.38" fill="#e6f4f5"/>
<rect x="462.94" y="270.06" width="9.38" height="9.38" fill="#e7f4f3"/>
<rect x="471.62" y="270.06" width="9.38" height="9.38" fill="#d8eff3"/>
<rect x="480.30" y="270.06" width="9.38" height="9.38" fill="#e1f2f4"/>
<rect x="488.98" y="270.06" width="9.38" height="9.38" fill="#e6f4f5"/>
<rect x="497.66" y="270.06" width="9.38" height="9.38" fill="#d6eef3"/>
<rect x="506.34" y="270.06" width="9.38" height="9.38" fill="#e0f2f4"/>
<rect x="515.02" y="270.06" width="9.38" height="9.38" fill="#def1f4"/>
<rect x="523.70" y="270.06" width="8.68" height="9.38" fill="#e6f4f5"/>
<rect x="393.50" y="278.74" width="9.38" height="9.38" fill="#e5f4f5"/>
<rect x="402.18" y="278.74" width="9.38" height="9.38" fill="#e2f2f4"/>
<rect x="410.86" y="278.74" width="9.38" height="9.38" fill="#e6f4f5"/>
<rect x="419.54" y="278.74" width="9.38" height="9.38" fill="#e1f2f4"/>
<rect x="428.22" y="278.74" width="9.38" height="9.38" fill="#e6f4f5"/>
<rect x="436.90" y="278.74" width="9.38" height="9.38" fill="#e4f3f5"/>
<rect x="445.58" y="278.74" width="9.38" height="9.38" fill="#e0f2f4"/>
<rect x="454.26" y="278.74" width="9.38" height="9.38" fill="#def1f4"/>
<rect x="462.94" y="278.74" width="9.38" height="9.38" fill="#dff1f4"/>
<rect x="471.62" y="278.74" width="9.38" height="9.38" fill="#dcf0f4"/>
<rect x="480.30" y="278.74" width="9.38" height="9.38" fill="#def1f4"/>
<rect x="488.98" y="278.74" width="9.38" height="9.38" fill="#e6f4f4"/>
<rect x="497.66" y="278.74" width="9.38" height="9.38" fill="#e5f3f5"/>
<rect x="506.34" y="278.74" width="9.38" height="9.38" fill="#e7f4f4"/>
<rect x="515.02" y="278.74" width="9.38" height="9.38" fill="#e1f2f4"/>
<rect x="523.70" y="278.74" width="8.68" height="9.38" fill="#e0f2f4"/>
<rect x="393.50" y="287.42" width="9.38" height="9.38" fill="#e0f2f4"/>
<rect x="402.18" y="287.42" width="9.38" height="9.38" fill="#d9eff3"/>
<rect x="410.86" y="287.42" width="9.38" height="9.38" fill="#daeff3"/>
<rect x="419.54" y="287.42" width="9.38" height="9.38" fill="#6198c1"/>
<rect x="428.22" y="287.42" width="9.38" height="9.38" fill="#dbf0f4"/>
<rect x="436.90" y="287.42" width="9.38" height="9.38" fill="#6097c1"/>
<rect x="445.58" y="287.42" width="9.38" height="9.38" fill="#659bc3"/>
<rect x="454.26" y="287.42" width="9.38" height="9.38" fill="#dbf0f4"/>
<rect x="462.94" y="287.42" width="9.38" height="9.38" fill="#e2f2f4"/>
<rect x="471.62" y="287.42" width="9.38" height="9.38" fill="#639ac2"/>
<rect x="480.30" y="287.42" width="9.38" height="9.38" fill="#6097c1"/>
<rect x="488.98" y="287.42" width="9.38" height="9.38" fill="#dbf0f4"/>
<rect x="497.66" y="287.42" width="9.38" height="9.38" fill="#659bc3"/>
<rect x="506.34" y="287.42" width="9.38" height="9.38" fill="#d7eef3"/>
<rect x="515.02" y="287.42" width="9.38" height="9.38" fill="#dcf0f4"/>
<rect x="523.70" y="287.42" width="8.68" height="9.38" fill="#ddf1f4"/>
<rect x="393.50" y="296.10" width="9.38" height="9.38" fill="#e6f4f5"/>
<rect x="402.18" y="296.10" width="9.38" height="9.38" fill="#ddf1f4"/>
<rect x="410.86" y="296.10" width="9.38" height="9.38" fill="#e2f2f4"/>
<rect x="419.54" y="296.10" width="9.38" height="9.38" fill="#6198c1"/>
<rect x="428.22" y="296.10" width="9.38" height="9.38" fill="#dff1f4"/>
<rect x="436.90" y="296.10" width="9.38" height="9.38" fill="#6097c1"/>
<rect x="445.58" y="296.10" width="9.38" height="9.38" fill="#6298c2"/>
<rect x="454.26" y="296.10" width="9.38" height="9.38" fill="#d9eff3"/>
<rect x="462.94" y="296.10" width="9.38" height="9.38" fill="#e0f2f4"/>
<rect x="471.62" y="296.10" width="9.38" height="9.38" fill="#6298c2"/>
<rect x="480.30" y="296.10" width="9.38" height="9.38" fill="#6197c1"/>
<rect x="488.98" y="296.10" width="9.38" height="9.38" fill="#d9eff3"/>
<rect x="497.66" y="296.10" width="9.38" height="9.38" fill="#659bc3"/>
<rect x="506.34" y="296.10" width="9.38" height="9.38" fill="#d9eff3"/>
<rect x="515.02" y="296.10" width="9.38" height="9.38" fill="#d8eff3"/>
<rect x="523.70" y="296.10" width="8.68" height="9.38" fill="#dbf0f4"/>
<rect x="393.50" y="304.78" width="9.38" height="9.38" fill="#def1f4"/>
<rect x="402.18" y="304.78" width="9.38" height="9.38" fill="#dff1f4"/>
<rect x="410.86" y="304.78" width="9.38" height="9.38" fill="#e5f4f5"/>
<rect x="419.54" y="304.78" width="9.38" height="9.38" fill="#def1f4"/>
<rect x="428.22" y="304.78" width="9.38" height="9.38" fill="#e7f4f3"/>
<rect x="436.90" y="304.78" width="9.38" height="9.38" fill="#d9eff3"/>
<rect x="445.58" y="304.78" width="9.38" height="9.38" fill="#d7eef3"/>
<rect x="454.26" y="304.78" width="9.38" height="9.38" fill="#e6f4f5"/>
<rect x="462.94" y="304.78" width="9.38" height="9.38" fill="#e2f3f5"/>
<rect x="471.62" y="304.78" width="9.38" height="9.38" fill="#daf0f4"/>
<rect x="480.30" y="304.78" width="9.38" height="9.38" fill="#daf0f4"/>
<rect x="488.98" y="304.78" width="9.38" height="9.38" fill="#e7f4f3"/>
<rect x="497.66" y="304.78" width="9.38" height="9.38" fill="#daeff3"/>
<rect x="506.34" y="304.78" width="9.38" height="9.38" fill="#e4f3f5"/>
<rect x="515.02" y="304.78" width="9.38" height="9.38" fill="#e3f3f5"/>
<rect x="523.70" y="304.78" width="8.68" height="9.38" fill="#e6f4f5"/>
<rect x="393.50" y="313.46" width="9.38" height="9.38" fill="#dcf0f4"/>
<rect x="402.18" y="313.46" width="9.38" height="9.38" fill="#daeff3"/>
<rect x="410.86" y="313.46" width="9.38" height="9.38" fill="#dcf0f4"/>
<rect x="419.54" y="313.46" width="9.38" height="9.38" fill="#5a92be"/>
<rect x="428.22" y="313.46" width="9.38" height="9.38" fill="#e6f4f5"/>
<rect x="436.90" y="313.46" width="9.38" height="9.38" fill="#679cc4"/>
<rect x="445.58" y="313.46" width="9.38" height="9.38" fill="#649ac3"/>
<rect x="454.26" y="313.46" width="9.38" height="9.38" fill="#dcf0f4"/>
<rect x="462.94" y="313.46" width="9.38" height="9.38" fill="#e2f3f5"/>
<rect x="471.62" y="313.46" width="9.38" height="9.38" fill="#6198c1"/>
<rect x="480.30" y="313.46" width="9.38" height="9.38" fill="#6298c2"/>
<rect x="488.98" y="313.46" width="9.38" height="9.38" fill="#e5f4f5"/>
<rect x="497.66" y="313.46" width="9.38" height="9.38" fill="#5a92be"/>
<rect x="506.34" y="313.46" width="9.38" height="9.38" fill="#e2f3f5"/>
<rect x="515.02" y="313.46" width="9.38" height="9.38" fill="#e5f4f5"/>
<rect x="523.70" y="313.46" width="8.68" height="9.38" fill="#e4f3f5"/>
<rect x="393.50" y="322.14" width="9.38" height="9.38" fill="#e6f4f4"/>
<rect x="402.18" y="322.14" width="9.38" height="9.38" fill="#e7f4f3"/>
<rect x="410.86" y="322.14" width="9.38" height="9.38" fill="#e7f4f3"/>
<rect x="419.54" y="322.14" width="9.38" height="9.38" fill="#e5f4f5"/>
<rect x="428.22" y="322.14" width="9.38" height="9.38" fill="#e6f4f5"/>
<rect x="436.90" y="322.14" width="9.38" height="9.38" fill="#e0f2f4"/>
<rect x="445.58" y="322.14" width="9.38" height="9.38" fill="#dcf0f4"/>
<rect x="454.26" y="322.14" width="9.38" height="9.38" fill="#e4f3f5"/>
<rect x="462.94" y="322.14" width="9.38" height="9.38" fill="#e7f4f3"/>
<rect x="471.62" y="322.14" width="9.38" height="9.38" fill="#d8eff3"/>
<rect x="480.30" y="322.14" width="9.38" height="9.38" fill="#e6f4f5"/>
<rect x="488.98" y="322.14" width="9.38" height="9.38" fill="#e6f4f5"/>
<rect x="497.66" y="322.14" width="9.38" height="9.38" fill="#e2f2f4"/>
<rect x="506.34" y="322.14" width="9.38" height="9.38" fill="#e6f4f5"/>
<rect x="515.02" y="322.14" width="9.38" height="9.38" fill="#e7f4f3"/>
<rect x="523.70" y="322.14" width="8.68" height="9.38" fill="#e0f2f4"/>
<rect x="393.50" y="330.82" width="9.38" height="9.38" fill="#e6f4f4"/>
<rect x="402.18" y="330.82" width="9.38" height="9.38" fill="#e7f4f2"/>
<rect x="410.86" y="330.82" width="9.38" height="9.38" fill="#e4f3f5"/>
<rect x="419.54" y="330.82" width="9.38" height="9.38" fill="#e4f3f5"/>
<rect x="428.22" y="330.82" width="9.38" height="9.38" fill="#e5f3f5"/>
<rect x="436.90" y="330.82" width="9.38" height="9.38" fill="#e1f2f4"/>
<rect x="445.58" y="330.82" width="9.38" height="9.38" fill="#ddf1f4"/>
<rect x="454.26" y="330.82" width="9.38" height="9.38" fill="#dff1f4"/>
<rect x="462.94" y="330.82" width="9.38" height="9.38" fill="#e1f2f4"/>
<rect x="471.62" y="330.82" width="9.38" height="9.38" fill="#dff1f4"/>
<rect x="480.30" y="330.82" width="9.38" height="9.38" fill="#d9eff3"/>
<rect x="488.98" y="330.82" width="9.38" height="9.38" fill="#e3f3f5"/>
<rect x="497.66" y="330.82" width="9.38" height="9.38" fill="#e0f2f4"/>
<rect x="506.34" y="330.82" width="9.38" height="9.38" fill="#e7f4f3"/>
<rect x="515.02" y="330.82" width="9.38" height="9.38" fill="#e4f3f5"/>
<rect x="523.70" y="330.82" width="8.68" height="9.38" fill="#e4f3f5"/>
<rect x="393.50" y="339.50" width="9.38" height="8.68" fill="#dff1f4"/>
<rect x="402.18" y="339.50" width="9.38" height="8.68" fill="#def1f4"/>
<rect x="410.86" y="339.50" width="9.38" height="8.68" fill="#e4f3f5"/>
<rect x="419.54" y="339.50" width="9.38" height="8.68" fill="#e0f2f4"/>
<rect x="428.22" y="339.50" width="9.38" height="8.68" fill="#e0f2f4"/>
<rect x="436.90" y="339.50" width="9.38" height="8.68" fill="#e6f4f5"/>
<rect x="445.58" y="339.50" width="9.38" height="8.68" fill="#e4f3f5"/>
<rect x="454.26" y="339.50" width="9.38" height="8.68" fill="#e4f3f5"/>
<rect x="462.94" y="339.50" width="9.38" height="8.68" fill="#e4f3f5"/>
<rect x="471.62" y="339.50" width="9.38" height="8.68" fill="#e4f3f5"/>
<rect x="480.30" y="339.50" width="9.38" height="8.68" fill="#dcf0f4"/>
<rect x="488.98" y="339.50" width="9.38" height="8.68" fill="#e0f2f4"/>
<rect x="497.66" y="339.50" width="9.38" height="8.68" fill="#e0f2f4"/>
<rect x="506.34" y="339.50" width="9.38" height="8.68" fill="#e6f4f5"/>
<rect x="515.02" y="339.50" width="9.38" height="8.68" fill="#e7f4f3"/>
<rect x="523.70" y="339.50" width="8.68" height="8.68" fill="#e7f4f4"/>
<rect x="393.50" y="209.30" width="138.88" height="138.88" fill="none" stroke="#8e8e8e" stroke-width="0.8"/>
<line x1="391.90" y1="213.64" x2="393.50" y2="213.64" stroke="#666" stroke-width="0.5"/>
<line x1="397.84" y1="348.18" x2="397.84" y2="349.78" stroke="#666" stroke-width="0.5"/>
<line x1="391.90" y1="222.32" x2="393.50" y2="222.32" stroke="#666" stroke-width="0.5"/>
<line x1="406.52" y1="348.18" x2="406.52" y2="349.78" stroke="#666" stroke-width="0.5"/>
<line x1="391.90" y1="231.00" x2="393.50" y2="231.00" stroke="#666" stroke-width="0.5"/>
<line x1="415.20" y1="348.18" x2="415.20" y2="349.78" stroke="#666" stroke-width="0.5"/>
<line x1="391.90" y1="239.68" x2="393.50" y2="239.68" stroke="#666" stroke-width="0.5"/>
<line x1="423.88" y1="348.18" x2="423.88" y2="349.78" stroke="#666" stroke-width="0.5"/>
<line x1="391.90" y1="248.36" x2="393.50" y2="248.36" stroke="#666" stroke-width="0.5"/>
<line x1="432.56" y1="348.18" x2="432.56" y2="349.78" stroke="#666" stroke-width="0.5"/>
<line x1="391.90" y1="257.04" x2="393.50" y2="257.04" stroke="#666" stroke-width="0.5"/>
<line x1="441.24" y1="348.18" x2="441.24" y2="349.78" stroke="#666" stroke-width="0.5"/>
<line x1="391.90" y1="265.72" x2="393.50" y2="265.72" stroke="#666" stroke-width="0.5"/>
<line x1="449.92" y1="348.18" x2="449.92" y2="349.78" stroke="#666" stroke-width="0.5"/>
<line x1="391.90" y1="274.40" x2="393.50" y2="274.40" stroke="#666" stroke-width="0.5"/>
<line x1="458.60" y1="348.18" x2="458.60" y2="349.78" stroke="#666" stroke-width="0.5"/>
<line x1="391.90" y1="283.08" x2="393.50" y2="283.08" stroke="#666" stroke-width="0.5"/>
<line x1="467.28" y1="348.18" x2="467.28" y2="349.78" stroke="#666" stroke-width="0.5"/>
<line x1="391.90" y1="291.76" x2="393.50" y2="291.76" stroke="#666" stroke-width="0.5"/>
<line x1="475.96" y1="348.18" x2="475.96" y2="349.78" stroke="#666" stroke-width="0.5"/>
<line x1="391.90" y1="300.44" x2="393.50" y2="300.44" stroke="#666" stroke-width="0.5"/>
<line x1="484.64" y1="348.18" x2="484.64" y2="349.78" stroke="#666" stroke-width="0.5"/>
<line x1="391.90" y1="309.12" x2="393.50" y2="309.12" stroke="#666" stroke-width="0.5"/>
<line x1="493.32" y1="348.18" x2="493.32" y2="349.78" stroke="#666" stroke-width="0.5"/>
<line x1="391.90" y1="317.80" x2="393.50" y2="317.80" stroke="#666" stroke-width="0.5"/>
<line x1="502.00" y1="348.18" x2="502.00" y2="349.78" stroke="#666" stroke-width="0.5"/>
<line x1="391.90" y1="326.48" x2="393.50" y2="326.48" stroke="#666" stroke-width="0.5"/>
<line x1="510.68" y1="348.18" x2="510.68" y2="349.78" stroke="#666" stroke-width="0.5"/>
<line x1="391.90" y1="335.16" x2="393.50" y2="335.16" stroke="#666" stroke-width="0.5"/>
<line x1="519.36" y1="348.18" x2="519.36" y2="349.78" stroke="#666" stroke-width="0.5"/>
<line x1="391.90" y1="343.84" x2="393.50" y2="343.84" stroke="#666" stroke-width="0.5"/>
<line x1="528.04" y1="348.18" x2="528.04" y2="349.78" stroke="#666" stroke-width="0.5"/>
<rect x="545.80" y="209.50" width="138.88" height="138.88" fill="#e6f4f5"/>
<rect x="545.80" y="209.50" width="9.38" height="9.38" fill="#e4f3f5"/>
<rect x="554.48" y="209.50" width="9.38" height="9.38" fill="#e3f3f5"/>
<rect x="563.16" y="209.50" width="9.38" height="9.38" fill="#e3f3f5"/>
<rect x="571.84" y="209.50" width="9.38" height="9.38" fill="#dcf0f4"/>
<rect x="580.52" y="209.50" width="9.38" height="9.38" fill="#e3f3f5"/>
<rect x="589.20" y="209.50" width="9.38" height="9.38" fill="#def1f4"/>
<rect x="597.88" y="209.50" width="9.38" height="9.38" fill="#def1f4"/>
<rect x="606.56" y="209.50" width="9.38" height="9.38" fill="#e5f4f5"/>
<rect x="615.24" y="209.50" width="9.38" height="9.38" fill="#e2f2f4"/>
<rect x="623.92" y="209.50" width="9.38" height="9.38" fill="#dcf0f4"/>
<rect x="632.60" y="209.50" width="9.38" height="9.38" fill="#dcf0f4"/>
<rect x="641.28" y="209.50" width="9.38" height="9.38" fill="#e7f4f4"/>
<rect x="649.96" y="209.50" width="9.38" height="9.38" fill="#dcf0f4"/>
<rect x="658.64" y="209.50" width="9.38" height="9.38" fill="#e6f4f4"/>
<rect x="667.32" y="209.50" width="9.38" height="9.38" fill="#e5f4f5"/>
<rect x="676.00" y="209.50" width="8.68" height="9.38" fill="#e5f3f5"/>
<rect x="545.80" y="218.18" width="9.38" height="9.38" fill="#e7f4f3"/>
<rect x="554.48" y="218.18" width="9.38" height="9.38" fill="#e6f4f4"/>
<rect x="563.16" y="218.18" width="9.38" height="9.38" fill="#e6f4f5"/>
<rect x="571.84" y="218.18" width="9.38" height="9.38" fill="#cde8f0"/>
<rect x="580.52" y="218.18" width="9.38" height="9.38" fill="#e3f3f5"/>
<rect x="589.20" y="218.18" width="9.38" height="9.38" fill="#cde8f0"/>
<rect x="597.88" y="218.18" width="9.38" height="9.38" fill="#cde8f0"/>
<rect x="606.56" y="218.18" width="9.38" height="9.38" fill="#e6f4f4"/>
<rect x="615.24" y="218.18" width="9.38" height="9.38" fill="#e4f3f5"/>
<rect x="623.92" y="218.18" width="9.38" height="9.38" fill="#cde8f0"/>
<rect x="632.60" y="218.18" width="9.38" height="9.38" fill="#cde8f0"/>
<rect x="641.28" y="218.18" width="9.38" height="9.38" fill="#e2f3f5"/>
<rect x="649.96" y="218.18" width="9.38" height="9.38" fill="#cde8f0"/>
<rect x="658.64" y="218.18" width="9.38" height="9.38" fill="#e6f4f4"/>
<rect x="667.32" y="218.18" width="9.38" height="9.38" fill="#e1f2f4"/>
<rect x="676.00" y="218.18" width="8.68" height="9.38" fill="#e2f3f5"/>
<rect x="545.80" y="226.86" width="9.38" height="9.38" fill="#e6f4f5"/>
<rect x="554.48" y="226.86" width="9.38" height="9.38" fill="#e2f2f4"/>
<rect x="563.16" y="226.86" width="9.38" height="9.38" fill="#e5f4f5"/>
<rect x="571.84" y="226.86" width="9.38" height="9.38" fill="#cde8f0"/>
<rect x="580.52" y="226.86" width="9.38" height="9.38" fill="#e6f4f4"/>
<rect x="589.20" y="226.86" width="9.38" height="9.38" fill="#cde8f0"/>
<rect x="597.88" y="226.86" width="9.38" height="9.38" fill="#cde8f0"/>
<rect x="606.56" y="226.86" width="9.38" height="9.38" fill="#e1f2f4"/>
<rect x="615.24" y="226.86" width="9.38" height="9.38" fill="#e2f3f5"/>
<rect x="623.92" y="226.86" width="9.38" height="9.38" fill="#cde8f0"/>
<rect x="632.60" y="226.86" width="9.38" height="9.38" fill="#cde8f0"/>
<rect x="641.28" y="226.86" width="9.38" height="9.38" fill="#e6f4f4"/>
<rect x="649.96" y="226.86" width="9.38" height="9.38" fill="#cde8f0"/>
<rect x="658.64" y="226.86" width="9.38" height="9.38" fill="#e7f4f4"/>
<rect x="667.32" y="226.86" width="9.38" height="9.38" fill="#e6f4f5"/>
<rect x="676.00" y="226.86" width="8.68" height="9.38" fill="#e4f3f5"/>
<rect x="545.80" y="235.54" width="9.38" height="9.38" fill="#e7f4f3"/>
<rect x="554.48" y="235.54" width="9.38" height="9.38" fill="#e4f3f5"/>
<rect x="563.16" y="235.54" width="9.38" height="9.38" fill="#e6f4f5"/>
<rect x="571.84" y="235.54" width="9.38" height="9.38" fill="#e2f2f4"/>
<rect x="580.52" y="235.54" width="9.38" height="9.38" fill="#e9f4ef"/>
<rect x="589.20" y="235.54" width="9.38" height="9.38" fill="#cde8f0"/>
<rect x="597.88" y="235.54" width="9.38" height="9.38" fill="#e9f4ef"/>
<rect x="606.56" y="235.54" width="9.38" height="9.38" fill="#e9f4ef"/>
<rect x="615.24" y="235.54" width="9.38" height="9.38" fill="#e4f3f5"/>
<rect x="623.92" y="235.54" width="9.38" height="9.38" fill="#e7f4f4"/>
<rect x="632.60" y="235.54" width="9.38" height="9.38" fill="#ecf3e9"/>
<rect x="641.28" y="235.54" width="9.38" height="9.38" fill="#e9f4ef"/>
<rect x="649.96" y="235.54" width="9.38" height="9.38" fill="#e3f3f5"/>
<rect x="658.64" y="235.54" width="9.38" height="9.38" fill="#e9f4ef"/>
<rect x="667.32" y="235.54" width="9.38" height="9.38" fill="#e9f4ef"/>
<rect x="676.00" y="235.54" width="8.68" height="9.38" fill="#e3f3f5"/>
<rect x="545.80" y="244.22" width="9.38" height="9.38" fill="#e6f4f5"/>
<rect x="554.48" y="244.22" width="9.38" height="9.38" fill="#e5f3f5"/>
<rect x="563.16" y="244.22" width="9.38" height="9.38" fill="#e7f4f3"/>
<rect x="571.84" y="244.22" width="9.38" height="9.38" fill="#bfdeea"/>
<rect x="580.52" y="244.22" width="9.38" height="9.38" fill="#e6f4f4"/>
<rect x="589.20" y="244.22" width="9.38" height="9.38" fill="#c2e1eb"/>
<rect x="597.88" y="244.22" width="9.38" height="9.38" fill="#c6e3ed"/>
<rect x="606.56" y="244.22" width="9.38" height="9.38" fill="#e3f3f5"/>
<rect x="615.24" y="244.22" width="9.38" height="9.38" fill="#e2f2f4"/>
<rect x="623.92" y="244.22" width="9.38" height="9.38" fill="#bfdeea"/>
<rect x="632.60" y="244.22" width="9.38" height="9.38" fill="#c4e2ec"/>
<rect x="641.28" y="244.22" width="9.38" height="9.38" fill="#e6f4f5"/>
<rect x="649.96" y="244.22" width="9.38" height="9.38" fill="#bfdeea"/>
<rect x="658.64" y="244.22" width="9.38" height="9.38" fill="#e3f3f5"/>
<rect x="667.32" y="244.22" width="9.38" height="9.38" fill="#e7f4f4"/>
<rect x="676.00" y="244.22" width="8.68" height="9.38" fill="#e3f3f5"/>
<rect x="545.80" y="252.90" width="9.38" height="9.38" fill="#e8f4f2"/>
<rect x="554.48" y="252.90" width="9.38" height="9.38" fill="#e8f4f2"/>
<rect x="563.16" y="252.90" width="9.38" height="9.38" fill="#e8f4f2"/>
<rect x="571.84" y="252.90" width="9.38" height="9.38" fill="#e2f2f4"/>
<rect x="580.52" y="252.90" width="9.38" height="9.38" fill="#e7f4f4"/>
<rect x="589.20" y="252.90" width="9.38" height="9.38" fill="#e6f4f5"/>
<rect x="597.88" y="252.90" width="9.38" height="9.38" fill="#e4f3f5"/>
<rect x="606.56" y="252.90" width="9.38" height="9.38" fill="#e2f2f4"/>
<rect x="615.24" y="252.90" width="9.38" height="9.38" fill="#e6f4f5"/>
<rect x="623.92" y="252.90" width="9.38" height="9.38" fill="#e8f4f1"/>
<rect x="632.60" y="252.90" width="9.38" height="9.38" fill="#ecf3e7"/>
<rect x="641.28" y="252.90" width="9.38" height="9.38" fill="#e6f4f5"/>
<rect x="649.96" y="252.90" width="9.38" height="9.38" fill="#e6f4f5"/>
<rect x="658.64" y="252.90" width="9.38" height="9.38" fill="#e6f4f4"/>
<rect x="667.32" y="252.90" width="9.38" height="9.38" fill="#e7f4f4"/>
<rect x="676.00" y="252.90" width="8.68" height="9.38" fill="#e6f4f4"/>
<rect x="545.80" y="261.58" width="9.38" height="9.38" fill="#e4f3f5"/>
<rect x="554.48" y="261.58" width="9.38" height="9.38" fill="#e1f2f4"/>
<rect x="563.16" y="261.58" width="9.38" height="9.38" fill="#e6f4f4"/>
<rect x="571.84" y="261.58" width="9.38" height="9.38" fill="#d2ebf1"/>
<rect x="580.52" y="261.58" width="9.38" height="9.38" fill="#e8f4f1"/>
<rect x="589.20" y="261.58" width="9.38" height="9.38" fill="#bcdce9"/>
<rect x="597.88" y="261.58" width="9.38" height="9.38" fill="#e6f4f5"/>
<rect x="606.56" y="261.58" width="9.38" height="9.38" fill="#e6f4f4"/>
<rect x="615.24" y="261.58" width="9.38" height="9.38" fill="#e4f3f5"/>
<rect x="623.92" y="261.58" width="9.38" height="9.38" fill="#d6eef3"/>
<rect x="632.60" y="261.58" width="9.38" height="9.38" fill="#e8f4f1"/>
<rect x="641.28" y="261.58" width="9.38" height="9.38" fill="#e6f4f5"/>
<rect x="649.96" y="261.58" width="9.38" height="9.38" fill="#e7f4f4"/>
<rect x="658.64" y="261.58" width="9.38" height="9.38" fill="#e2f2f4"/>
<rect x="667.32" y="261.58" width="9.38" height="9.38" fill="#e7f4f4"/>
<rect x="676.00" y="261.58" width="8.68" height="9.38" fill="#e5f4f5"/>
<rect x="545.80" y="270.26" width="9.38" height="9.38" fill="#def1f4"/>
<rect x="554.48" y="270.26" width="9.38" height="9.38" fill="#def1f4"/>
<rect x="563.16" y="270.26" width="9.38" height="9.38" fill="#def1f4"/>
<rect x="571.84" y="270.26" width="9.38" height="9.38" fill="#c2e1eb"/>
<rect x="580.52" y="270.26" width="9.38" height="9.38" fill="#e4f3f5"/>
<rect x="589.20" y="270.26" width="9.38" height="9.38" fill="#c8e5ee"/>
<rect x="597.88" y="270.26" width="9.38" height="9.38" fill="#c8e5ee"/>
<rect x="606.56" y="270.26" width="9.38" height="9.38" fill="#e6f4f5"/>
<rect x="615.24" y="270.26" width="9.38" height="9.38" fill="#e6f4f4"/>
<rect x="623.92" y="270.26" width="9.38" height="9.38" fill="#c2e1eb"/>
<rect x="632.60" y="270.26" width="9.38" height="9.38" fill="#c2e1eb"/>
<rect x="641.28" y="270.26" width="9.38" height="9.38" fill="#e6f4f5"/>
<rect x="649.96" y="270.26" width="9.38" height="9.38" fill="#c4e2ec"/>
<rect x="658.64" y="270.26" width="9.38" height="9.38" fill="#e2f3f5"/>
<rect x="667.32" y="270.26" width="9.38" height="9.38" fill="#e1f2f4"/>
<rect x="676.00" y="270.26" width="8.68" height="9.38" fill="#e6f4f5"/>
<rect x="545.80" y="278.94" width="9.38" height="9.38" fill="#e5f4f5"/>
<rect x="554.48" y="278.94" width="9.38" height="9.38" fill="#e3f3f5"/>
<rect x="563.16" y="278.94" width="9.38" height="9.38" fill="#e5f4f5"/>
<rect x="571.84" y="278.94" width="9.38" height="9.38" fill="#e0f2f4"/>
<rect x="580.52" y="278.94" width="9.38" height="9.38" fill="#e6f4f5"/>
<rect x="589.20" y="278.94" width="9.38" height="9.38" fill="#e0f2f4"/>
<rect x="597.88" y="278.94" width="9.38" height="9.38" fill="#e6f4f5"/>
<rect x="606.56" y="278.94" width="9.38" height="9.38" fill="#e1f2f4"/>
<rect x="615.24" y="278.94" width="9.38" height="9.38" fill="#e2f2f4"/>
<rect x="623.92" y="278.94" width="9.38" height="9.38" fill="#e4f3f5"/>
<rect x="632.60" y="278.94" width="9.38" height="9.38" fill="#e5f4f5"/>
<rect x="641.28" y="278.94" width="9.38" height="9.38" fill="#e6f4f5"/>
<rect x="649.96" y="278.94" width="9.38" height="9.38" fill="#e7f4f4"/>
<rect x="658.64" y="278.94" width="9.38" height="9.38" fill="#e6f4f4"/>
<rect x="667.32" y="278.94" width="9.38" height="9.38" fill="#e3f3f5"/>
<rect x="676.00" y="278.94" width="8.68" height="9.38" fill="#e2f3f5"/>
<rect x="545.80" y="287.62" width="9.38" height="9.38" fill="#e6f4f5"/>
<rect x="554.48" y="287.62" width="9.38" height="9.38" fill="#e3f3f5"/>
<rect x="563.16" y="287.62" width="9.38" height="9.38" fill="#e3f3f5"/>
<rect x="571.84" y="287.62" width="9.38" height="9.38" fill="#d4edf2"/>
<rect x="580.52" y="287.62" width="9.38" height="9.38" fill="#e8f4f1"/>
<rect x="589.20" y="287.62" width="9.38" height="9.38" fill="#c2e1eb"/>
<rect x="597.88" y="287.62" width="9.38" height="9.38" fill="#e6f4f5"/>
<rect x="606.56" y="287.62" width="9.38" height="9.38" fill="#e4f3f5"/>
<rect x="615.24" y="287.62" width="9.38" height="9.38" fill="#e6f4f5"/>
<rect x="623.92" y="287.62" width="9.38" height="9.38" fill="#e5f4f5"/>
<rect x="632.60" y="287.62" width="9.38" height="9.38" fill="#e9f4ef"/>
<rect x="641.28" y="287.62" width="9.38" height="9.38" fill="#e4f3f5"/>
<rect x="649.96" y="287.62" width="9.38" height="9.38" fill="#e6f4f5"/>
<rect x="658.64" y="287.62" width="9.38" height="9.38" fill="#e9f4ef"/>
<rect x="667.32" y="287.62" width="9.38" height="9.38" fill="#e9f4ef"/>
<rect x="676.00" y="287.62" width="8.68" height="9.38" fill="#e5f3f5"/>
<rect x="545.80" y="296.30" width="9.38" height="9.38" fill="#e7f4f3"/>
<rect x="554.48" y="296.30" width="9.38" height="9.38" fill="#e5f4f5"/>
<rect x="563.16" y="296.30" width="9.38" height="9.38" fill="#e6f4f4"/>
<rect x="571.84" y="296.30" width="9.38" height="9.38" fill="#b0d4e4"/>
<rect x="580.52" y="296.30" width="9.38" height="9.38" fill="#e5f4f5"/>
<rect x="589.20" y="296.30" width="9.38" height="9.38" fill="#a8cee1"/>
<rect x="597.88" y="296.30" width="9.38" height="9.38" fill="#bfdeea"/>
<rect x="606.56" y="296.30" width="9.38" height="9.38" fill="#e3f3f5"/>
<rect x="615.24" y="296.30" width="9.38" height="9.38" fill="#e6f4f5"/>
<rect x="623.92" y="296.30" width="9.38" height="9.38" fill="#b0d4e4"/>
<rect x="632.60" y="296.30" width="9.38" height="9.38" fill="#e4f3f5"/>
<rect x="641.28" y="296.30" width="9.38" height="9.38" fill="#e3f3f5"/>
<rect x="649.96" y="296.30" width="9.38" height="9.38" fill="#b5d7e6"/>
<rect x="658.64" y="296.30" width="9.38" height="9.38" fill="#e2f3f5"/>
<rect x="667.32" y="296.30" width="9.38" height="9.38" fill="#e2f3f5"/>
<rect x="676.00" y="296.30" width="8.68" height="9.38" fill="#e4f3f5"/>
<rect x="545.80" y="304.98" width="9.38" height="9.38" fill="#e1f2f4"/>
<rect x="554.48" y="304.98" width="9.38" height="9.38" fill="#e2f2f4"/>
<rect x="563.16" y="304.98" width="9.38" height="9.38" fill="#e5f4f5"/>
<rect x="571.84" y="304.98" width="9.38" height="9.38" fill="#c2e1eb"/>
<rect x="580.52" y="304.98" width="9.38" height="9.38" fill="#e6f4f4"/>
<rect x="589.20" y="304.98" width="9.38" height="9.38" fill="#c4e2ec"/>
<rect x="597.88" y="304.98" width="9.38" height="9.38" fill="#c8e5ee"/>
<rect x="606.56" y="304.98" width="9.38" height="9.38" fill="#e5f4f5"/>
<rect x="615.24" y="304.98" width="9.38" height="9.38" fill="#e4f3f5"/>
<rect x="623.92" y="304.98" width="9.38" height="9.38" fill="#c2e1eb"/>
<rect x="632.60" y="304.98" width="9.38" height="9.38" fill="#c4e2ec"/>
<rect x="641.28" y="304.98" width="9.38" height="9.38" fill="#e6f4f4"/>
<rect x="649.96" y="304.98" width="9.38" height="9.38" fill="#c8e5ee"/>
<rect x="658.64" y="304.98" width="9.38" height="9.38" fill="#e5f3f5"/>
<rect x="667.32" y="304.98" width="9.38" height="9.38" fill="#e4f3f5"/>
<rect x="676.00" y="304.98" width="8.68" height="9.38" fill="#e6f4f5"/>
<rect x="545.80" y="313.66" width="9.38" height="9.38" fill="#e4f3f5"/>
<rect x="554.48" y="313.66" width="9.38" height="9.38" fill="#e3f3f5"/>
<rect x="563.16" y="313.66" width="9.38" height="9.38" fill="#e4f3f5"/>
<rect x="571.84" y="313.66" width="9.38" height="9.38" fill="#d2ebf1"/>
<rect x="580.52" y="313.66" width="9.38" height="9.38" fill="#e7f4f3"/>
<rect x="589.20" y="313.66" width="9.38" height="9.38" fill="#c2e1eb"/>
<rect x="597.88" y="313.66" width="9.38" height="9.38" fill="#e6f4f4"/>
<rect x="606.56" y="313.66" width="9.38" height="9.38" fill="#e4f3f5"/>
<rect x="615.24" y="313.66" width="9.38" height="9.38" fill="#e6f4f4"/>
<rect x="623.92" y="313.66" width="9.38" height="9.38" fill="#daf0f4"/>
<rect x="632.60" y="313.66" width="9.38" height="9.38" fill="#e9f4ef"/>
<rect x="641.28" y="313.66" width="9.38" height="9.38" fill="#e7f4f4"/>
<rect x="649.96" y="313.66" width="9.38" height="9.38" fill="#e5f4f5"/>
<rect x="658.64" y="313.66" width="9.38" height="9.38" fill="#e9f4ef"/>
<rect x="667.32" y="313.66" width="9.38" height="9.38" fill="#e9f4ef"/>
<rect x="676.00" y="313.66" width="8.68" height="9.38" fill="#e6f4f4"/>
<rect x="545.80" y="322.34" width="9.38" height="9.38" fill="#e6f4f5"/>
<rect x="554.48" y="322.34" width="9.38" height="9.38" fill="#e6f4f4"/>
<rect x="563.16" y="322.34" width="9.38" height="9.38" fill="#e6f4f4"/>
<rect x="571.84" y="322.34" width="9.38" height="9.38" fill="#bcdce9"/>
<rect x="580.52" y="322.34" width="9.38" height="9.38" fill="#e5f4f5"/>
<rect x="589.20" y="322.34" width="9.38" height="9.38" fill="#bedeea"/>
<rect x="597.88" y="322.34" width="9.38" height="9.38" fill="#c2e1eb"/>
<rect x="606.56" y="322.34" width="9.38" height="9.38" fill="#e4f3f5"/>
<rect x="615.24" y="322.34" width="9.38" height="9.38" fill="#e6f4f4"/>
<rect x="623.92" y="322.34" width="9.38" height="9.38" fill="#bcdce9"/>
<rect x="632.60" y="322.34" width="9.38" height="9.38" fill="#bedeea"/>
<rect x="641.28" y="322.34" width="9.38" height="9.38" fill="#e6f4f5"/>
<rect x="649.96" y="322.34" width="9.38" height="9.38" fill="#bcdce9"/>
<rect x="658.64" y="322.34" width="9.38" height="9.38" fill="#e6f4f5"/>
<rect x="667.32" y="322.34" width="9.38" height="9.38" fill="#e7f4f4"/>
<rect x="676.00" y="322.34" width="8.68" height="9.38" fill="#e3f3f5"/>
<rect x="545.80" y="331.02" width="9.38" height="9.38" fill="#e6f4f5"/>
<rect x="554.48" y="331.02" width="9.38" height="9.38" fill="#e7f4f4"/>
<rect x="563.16" y="331.02" width="9.38" height="9.38" fill="#e4f3f5"/>
<rect x="571.84" y="331.02" width="9.38" height="9.38" fill="#c4e2ec"/>
<rect x="580.52" y="331.02" width="9.38" height="9.38" fill="#e5f4f5"/>
<rect x="589.20" y="331.02" width="9.38" height="9.38" fill="#c8e5ee"/>
<rect x="597.88" y="331.02" width="9.38" height="9.38" fill="#c8e5ee"/>
<rect x="606.56" y="331.02" width="9.38" height="9.38" fill="#e2f2f4"/>
<rect x="615.24" y="331.02" width="9.38" height="9.38" fill="#e3f3f5"/>
<rect x="623.92" y="331.02" width="9.38" height="9.38" fill="#c4e2ec"/>
<rect x="632.60" y="331.02" width="9.38" height="9.38" fill="#c4e2ec"/>
<rect x="641.28" y="331.02" width="9.38" height="9.38" fill="#e4f3f5"/>
<rect x="649.96" y="331.02" width="9.38" height="9.38" fill="#c7e4ed"/>
<rect x="658.64" y="331.02" width="9.38" height="9.38" fill="#e6f4f4"/>
<rect x="667.32" y="331.02" width="9.38" height="9.38" fill="#e4f3f5"/>
<rect x="676.00" y="331.02" width="8.68" height="9.38" fill="#e5f4f5"/>
<rect x="545.80" y="339.70" width="9.38" height="8.68" fill="#e2f2f4"/>
<rect x="554.48" y="339.70" width="9.38" height="8.68" fill="#e1f2f4"/>
<rect x="563.16" y="339.70" width="9.38" height="8.68" fill="#e4f3f5"/>
<rect x="571.84" y="339.70" width="9.38" height="8.68" fill="#def1f4"/>
<rect x="580.52" y="339.70" width="9.38" height="8.68" fill="#e2f3f5"/>
<rect x="589.20" y="339.70" width="9.38" height="8.68" fill="#e0f2f4"/>
<rect x="597.88" y="339.70" width="9.38" height="8.68" fill="#e7f4f4"/>
<rect x="606.56" y="339.70" width="9.38" height="8.68" fill="#e5f4f5"/>
<rect x="615.24" y="339.70" width="9.38" height="8.68" fill="#e4f3f5"/>
<rect x="623.92" y="339.70" width="9.38" height="8.68" fill="#def1f4"/>
<rect x="632.60" y="339.70" width="9.38" height="8.68" fill="#e4f3f5"/>
<rect x="641.28" y="339.70" width="9.38" height="8.68" fill="#e2f3f5"/>
<rect x="649.96" y="339.70" width="9.38" height="8.68" fill="#def1f4"/>
<rect x="658.64" y="339.70" width="9.38" height="8.68" fill="#e6f4f5"/>
<rect x="667.32" y="339.70" width="9.38" height="8.68" fill="#e6f4f4"/>
<rect x="676.00" y="339.70" width="8.68" height="8.68" fill="#e6f4f5"/>
<rect x="545.80" y="209.50" width="138.88" height="138.88" fill="none" stroke="#8e8e8e" stroke-width="0.8"/>
<line x1="544.20" y1="213.84" x2="545.80" y2="213.84" stroke="#666" stroke-width="0.5"/>
<line x1="550.14" y1="348.38" x2="550.14" y2="349.98" stroke="#666" stroke-width="0.5"/>
<line x1="544.20" y1="222.52" x2="545.80" y2="222.52" stroke="#666" stroke-width="0.5"/>
<line x1="558.82" y1="348.38" x2="558.82" y2="349.98" stroke="#666" stroke-width="0.5"/>
<line x1="544.20" y1="231.20" x2="545.80" y2="231.20" stroke="#666" stroke-width="0.5"/>
<line x1="567.50" y1="348.38" x2="567.50" y2="349.98" stroke="#666" stroke-width="0.5"/>
<line x1="544.20" y1="239.88" x2="545.80" y2="239.88" stroke="#666" stroke-width="0.5"/>
<line x1="576.18" y1="348.38" x2="576.18" y2="349.98" stroke="#666" stroke-width="0.5"/>
<line x1="544.20" y1="248.56" x2="545.80" y2="248.56" stroke="#666" stroke-width="0.5"/>
<line x1="584.86" y1="348.38" x2="584.86" y2="349.98" stroke="#666" stroke-width="0.5"/>
<line x1="544.20" y1="257.24" x2="545.80" y2="257.24" stroke="#666" stroke-width="0.5"/>
<line x1="593.54" y1="348.38" x2="593.54" y2="349.98" stroke="#666" stroke-width="0.5"/>
<line x1="544.20" y1="265.92" x2="545.80" y2="265.92" stroke="#666" stroke-width="0.5"/>
<line x1="602.22" y1="348.38" x2="602.22" y2="349.98" stroke="#666" stroke-width="0.5"/>
<line x1="544.20" y1="274.60" x2="545.80" y2="274.60" stroke="#666" stroke-width="0.5"/>
<line x1="610.90" y1="348.38" x2="610.90" y2="349.98" stroke="#666" stroke-width="0.5"/>
<line x1="544.20" y1="283.28" x2="545.80" y2="283.28" stroke="#666" stroke-width="0.5"/>
<line x1="619.58" y1="348.38" x2="619.58" y2="349.98" stroke="#666" stroke-width="0.5"/>
<line x1="544.20" y1="291.96" x2="545.80" y2="291.96" stroke="#666" stroke-width="0.5"/>
<line x1="628.26" y1="348.38" x2="628.26" y2="349.98" stroke="#666" stroke-width="0.5"/>
<line x1="544.20" y1="300.64" x2="545.80" y2="300.64" stroke="#666" stroke-width="0.5"/>
<line x1="636.94" y1="348.38" x2="636.94" y2="349.98" stroke="#666" stroke-width="0.5"/>
<line x1="544.20" y1="309.32" x2="545.80" y2="309.32" stroke="#666" stroke-width="0.5"/>
<line x1="645.62" y1="348.38" x2="645.62" y2="349.98" stroke="#666" stroke-width="0.5"/>
<line x1="544.20" y1="318.00" x2="545.80" y2="318.00" stroke="#666" stroke-width="0.5"/>
<line x1="654.30" y1="348.38" x2="654.30" y2="349.98" stroke="#666" stroke-width="0.5"/>
<line x1="544.20" y1="326.68" x2="545.80" y2="326.68" stroke="#666" stroke-width="0.5"/>
<line x1="662.98" y1="348.38" x2="662.98" y2="349.98" stroke="#666" stroke-width="0.5"/>
<line x1="544.20" y1="335.36" x2="545.80" y2="335.36" stroke="#666" stroke-width="0.5"/>
<line x1="671.66" y1="348.38" x2="671.66" y2="349.98" stroke="#666" stroke-width="0.5"/>
<line x1="544.20" y1="344.04" x2="545.80" y2="344.04" stroke="#666" stroke-width="0.5"/>
<line x1="680.34" y1="348.38" x2="680.34" y2="349.98" stroke="#666" stroke-width="0.5"/>
<defs><linearGradient id="cb1" x1="0" x2="1" y1="0" y2="0"><stop offset="0.000" stop-color="#f3d6a4"/><stop offset="0.025" stop-color="#f3d8a9"/><stop offset="0.050" stop-color="#f3daad"/><stop offset="0.075" stop-color="#f3dcb2"/><stop offset="0.100" stop-color="#f3deb6"/><stop offset="0.125" stop-color="#f4e0bb"/><stop offset="0.150" stop-color="#f4e2bf"/><stop offset="0.175" stop-color="#f4e4c4"/><stop offset="0.200" stop-color="#f4e6c8"/><stop offset="0.225" stop-color="#f4e8cd"/><stop offset="0.250" stop-color="#f3ead0"/><stop offset="0.275" stop-color="#f2ebd4"/><stop offset="0.300" stop-color="#f1ecd7"/><stop offset="0.325" stop-color="#f0eedb"/><stop offset="0.350" stop-color="#efefde"/><stop offset="0.375" stop-color="#eef1e2"/><stop offset="0.400" stop-color="#edf2e5"/><stop offset="0.425" stop-color="#ecf3e9"/><stop offset="0.450" stop-color="#eaf3ed"/><stop offset="0.475" stop-color="#e8f4f1"/><stop offset="0.500" stop-color="#e6f4f5"/><stop offset="0.525" stop-color="#def1f4"/><stop offset="0.550" stop-color="#d6eef3"/><stop offset="0.575" stop-color="#cde8f0"/><stop offset="0.600" stop-color="#c4e2ec"/><stop offset="0.625" stop-color="#badbe8"/><stop offset="0.650" stop-color="#b0d4e4"/><stop offset="0.675" stop-color="#a6cce0"/><stop offset="0.700" stop-color="#9cc5dc"/><stop offset="0.725" stop-color="#92bed8"/><stop offset="0.750" stop-color="#88b7d4"/><stop offset="0.775" stop-color="#7fb0d0"/><stop offset="0.800" stop-color="#76a8cb"/><stop offset="0.825" stop-color="#6ca1c7"/><stop offset="0.850" stop-color="#6399c2"/><stop offset="0.875" stop-color="#5a92be"/><stop offset="0.900" stop-color="#528bb8"/><stop offset="0.925" stop-color="#4b84b2"/><stop offset="0.950" stop-color="#437cac"/><stop offset="0.975" stop-color="#3c75a6"/><stop offset="1.000" stop-color="#346ea0"/></linearGradient></defs>
<rect x="405.30" y="195.30" width="113.90" height="7.40" fill="url(#cb1)" stroke="#707070" stroke-width="0.7"/>
<line x1="405.30" y1="193.70" x2="405.30" y2="195.30" stroke="#555" stroke-width="0.6"/>
<text x="405.30" y="190.30" font-size="6.6" fill="#3a3a3a" text-anchor="middle" >−0.2</text>
<line x1="433.78" y1="193.70" x2="433.78" y2="195.30" stroke="#555" stroke-width="0.6"/>
<text x="433.78" y="190.30" font-size="6.6" fill="#3a3a3a" text-anchor="middle" >−0.1</text>
<line x1="462.25" y1="193.70" x2="462.25" y2="195.30" stroke="#555" stroke-width="0.6"/>
<text x="462.25" y="190.30" font-size="6.6" fill="#3a3a3a" text-anchor="middle" >0</text>
<line x1="490.73" y1="193.70" x2="490.73" y2="195.30" stroke="#555" stroke-width="0.6"/>
<text x="490.73" y="190.30" font-size="6.6" fill="#3a3a3a" text-anchor="middle" >0.1</text>
<line x1="519.20" y1="193.70" x2="519.20" y2="195.30" stroke="#555" stroke-width="0.6"/>
<text x="519.20" y="190.30" font-size="6.6" fill="#3a3a3a" text-anchor="middle" >0.2</text>
<text x="446.68" y="177.10" font-size="8.4" fill="#3a3a3a" textLength="28.86" lengthAdjust="spacingAndGlyphs" >Real(<tspan font-style="italic">ρ</tspan>)</text>
<defs><linearGradient id="cb2" x1="0" x2="1" y1="0" y2="0"><stop offset="0.000" stop-color="#f3d6a4"/><stop offset="0.025" stop-color="#f3d8a9"/><stop offset="0.050" stop-color="#f3daad"/><stop offset="0.075" stop-color="#f3dcb2"/><stop offset="0.100" stop-color="#f3deb6"/><stop offset="0.125" stop-color="#f4e0bb"/><stop offset="0.150" stop-color="#f4e2bf"/><stop offset="0.175" stop-color="#f4e4c4"/><stop offset="0.200" stop-color="#f4e6c8"/><stop offset="0.225" stop-color="#f4e8cd"/><stop offset="0.250" stop-color="#f3ead0"/><stop offset="0.275" stop-color="#f2ebd4"/><stop offset="0.300" stop-color="#f1ecd7"/><stop offset="0.325" stop-color="#f0eedb"/><stop offset="0.350" stop-color="#efefde"/><stop offset="0.375" stop-color="#eef1e2"/><stop offset="0.400" stop-color="#edf2e5"/><stop offset="0.425" stop-color="#ecf3e9"/><stop offset="0.450" stop-color="#eaf3ed"/><stop offset="0.475" stop-color="#e8f4f1"/><stop offset="0.500" stop-color="#e6f4f5"/><stop offset="0.525" stop-color="#def1f4"/><stop offset="0.550" stop-color="#d6eef3"/><stop offset="0.575" stop-color="#cde8f0"/><stop offset="0.600" stop-color="#c4e2ec"/><stop offset="0.625" stop-color="#badbe8"/><stop offset="0.650" stop-color="#b0d4e4"/><stop offset="0.675" stop-color="#a6cce0"/><stop offset="0.700" stop-color="#9cc5dc"/><stop offset="0.725" stop-color="#92bed8"/><stop offset="0.750" stop-color="#88b7d4"/><stop offset="0.775" stop-color="#7fb0d0"/><stop offset="0.800" stop-color="#76a8cb"/><stop offset="0.825" stop-color="#6ca1c7"/><stop offset="0.850" stop-color="#6399c2"/><stop offset="0.875" stop-color="#5a92be"/><stop offset="0.900" stop-color="#528bb8"/><stop offset="0.925" stop-color="#4b84b2"/><stop offset="0.950" stop-color="#437cac"/><stop offset="0.975" stop-color="#3c75a6"/><stop offset="1.000" stop-color="#346ea0"/></linearGradient></defs>
<rect x="558.40" y="195.40" width="113.90" height="7.30" fill="url(#cb2)" stroke="#707070" stroke-width="0.7"/>
<line x1="558.40" y1="193.80" x2="558.40" y2="195.40" stroke="#555" stroke-width="0.6"/>
<text x="558.40" y="190.30" font-size="6.6" fill="#3a3a3a" text-anchor="middle" >−0.2</text>
<line x1="586.88" y1="193.80" x2="586.88" y2="195.40" stroke="#555" stroke-width="0.6"/>
<text x="586.88" y="190.30" font-size="6.6" fill="#3a3a3a" text-anchor="middle" >−0.1</text>
<line x1="615.35" y1="193.80" x2="615.35" y2="195.40" stroke="#555" stroke-width="0.6"/>
<text x="615.35" y="190.30" font-size="6.6" fill="#3a3a3a" text-anchor="middle" >0</text>
<line x1="643.82" y1="193.80" x2="643.82" y2="195.40" stroke="#555" stroke-width="0.6"/>
<text x="643.82" y="190.30" font-size="6.6" fill="#3a3a3a" text-anchor="middle" >0.1</text>
<line x1="672.30" y1="193.80" x2="672.30" y2="195.40" stroke="#555" stroke-width="0.6"/>
<text x="672.30" y="190.30" font-size="6.6" fill="#3a3a3a" text-anchor="middle" >0.2</text>
<text x="599.86" y="177.10" font-size="8.4" fill="#3a3a3a" textLength="31.40" lengthAdjust="spacingAndGlyphs" >Imag(<tspan font-style="italic">ρ</tspan>)</text>
<line x1="362.67" y1="210.18" x2="362.67" y2="217.49" stroke="#b0b0b0" stroke-width="0.55"/>
<polyline points="385.00,211.92 387.00,213.69 385.00,215.47" fill="none" stroke="#b0b0b0" stroke-width="0.58" stroke-linejoin="miter"/>
<text transform="translate(366.43,216.14) scale(1.18,1)" x="-1.97" y="0" font-size="7.1" fill="#b0b0b0" stroke="#b0b0b0" stroke-width="0.15">0</text>
<text transform="translate(371.59,216.14) scale(1.18,1)" x="-1.97" y="0" font-size="7.1" fill="#b0b0b0" stroke="#b0b0b0" stroke-width="0.15">0</text>
<text transform="translate(376.76,216.14) scale(1.18,1)" x="-1.97" y="0" font-size="7.1" fill="#b0b0b0" stroke="#b0b0b0" stroke-width="0.15">0</text>
<text transform="translate(381.92,216.14) scale(1.18,1)" x="-1.97" y="0" font-size="7.1" fill="#b0b0b0" stroke="#b0b0b0" stroke-width="0.15">0</text>
<g transform="translate(394.30,354.80) rotate(90)">
<line x1="0.28" y1="-5.96" x2="0.28" y2="1.35" stroke="#b0b0b0" stroke-width="0.55"/>
<polyline points="22.60,-4.22 24.60,-2.45 22.60,-0.67" fill="none" stroke="#b0b0b0" stroke-width="0.58" stroke-linejoin="miter"/>
<text transform="translate(4.03,0.00) scale(1.18,1)" x="-1.97" y="0" font-size="7.1" fill="#b0b0b0" stroke="#b0b0b0" stroke-width="0.15">0</text>
<text transform="translate(9.19,0.00) scale(1.18,1)" x="-1.97" y="0" font-size="7.1" fill="#b0b0b0" stroke="#b0b0b0" stroke-width="0.15">0</text>
<text transform="translate(14.36,0.00) scale(1.18,1)" x="-1.97" y="0" font-size="7.1" fill="#b0b0b0" stroke="#b0b0b0" stroke-width="0.15">0</text>
<text transform="translate(19.52,0.00) scale(1.18,1)" x="-1.97" y="0" font-size="7.1" fill="#b0b0b0" stroke="#b0b0b0" stroke-width="0.15">0</text>
</g>
<g transform="translate(546.60,354.80) rotate(90)">
<line x1="0.28" y1="-5.96" x2="0.28" y2="1.35" stroke="#b0b0b0" stroke-width="0.55"/>
<polyline points="22.60,-4.22 24.60,-2.45 22.60,-0.67" fill="none" stroke="#b0b0b0" stroke-width="0.58" stroke-linejoin="miter"/>
<text transform="translate(4.03,0.00) scale(1.18,1)" x="-1.97" y="0" font-size="7.1" fill="#b0b0b0" stroke="#b0b0b0" stroke-width="0.15">0</text>
<text transform="translate(9.19,0.00) scale(1.18,1)" x="-1.97" y="0" font-size="7.1" fill="#b0b0b0" stroke="#b0b0b0" stroke-width="0.15">0</text>
<text transform="translate(14.36,0.00) scale(1.18,1)" x="-1.97" y="0" font-size="7.1" fill="#b0b0b0" stroke="#b0b0b0" stroke-width="0.15">0</text>
<text transform="translate(19.52,0.00) scale(1.18,1)" x="-1.97" y="0" font-size="7.1" fill="#b0b0b0" stroke="#b0b0b0" stroke-width="0.15">0</text>
</g>
<line x1="364.67" y1="218.86" x2="364.67" y2="226.17" stroke="#b0b0b0" stroke-width="0.55"/>
<polyline points="385.00,220.60 387.00,222.37 385.00,224.15" fill="none" stroke="#b0b0b0" stroke-width="0.58" stroke-linejoin="miter"/>
<text transform="translate(368.48,224.82) scale(1.18,1)" x="-1.97" y="0" font-size="7.1" fill="#b0b0b0" stroke="#b0b0b0" stroke-width="0.15">0</text>
<text transform="translate(373.73,224.82) scale(1.18,1)" x="-1.97" y="0" font-size="7.1" fill="#b0b0b0" stroke="#b0b0b0" stroke-width="0.15">0</text>
<text transform="translate(378.98,224.82) scale(1.18,1)" x="-1.97" y="0" font-size="7.1" fill="#b0b0b0" stroke="#b0b0b0" stroke-width="0.15">0</text>
<text transform="translate(383.06,224.82) scale(0.6,1)" x="-2.07" y="0" font-size="7.1" fill="#b0b0b0" stroke="#b0b0b0" stroke-width="0.15">1</text>
<g transform="translate(402.98,354.80) rotate(90)">
<line x1="0.28" y1="-5.96" x2="0.28" y2="1.35" stroke="#b0b0b0" stroke-width="0.55"/>
<polyline points="20.60,-4.22 22.60,-2.45 20.60,-0.67" fill="none" stroke="#b0b0b0" stroke-width="0.58" stroke-linejoin="miter"/>
<text transform="translate(4.08,0.00) scale(1.18,1)" x="-1.97" y="0" font-size="7.1" fill="#b0b0b0" stroke="#b0b0b0" stroke-width="0.15">0</text>
<text transform="translate(9.33,0.00) scale(1.18,1)" x="-1.97" y="0" font-size="7.1" fill="#b0b0b0" stroke="#b0b0b0" stroke-width="0.15">0</text>
<text transform="translate(14.58,0.00) scale(1.18,1)" x="-1.97" y="0" font-size="7.1" fill="#b0b0b0" stroke="#b0b0b0" stroke-width="0.15">0</text>
<text transform="translate(18.66,0.00) scale(0.6,1)" x="-2.07" y="0" font-size="7.1" fill="#b0b0b0" stroke="#b0b0b0" stroke-width="0.15">1</text>
</g>
<g transform="translate(555.28,354.80) rotate(90)">
<line x1="0.28" y1="-5.96" x2="0.28" y2="1.35" stroke="#b0b0b0" stroke-width="0.55"/>
<polyline points="20.60,-4.22 22.60,-2.45 20.60,-0.67" fill="none" stroke="#b0b0b0" stroke-width="0.58" stroke-linejoin="miter"/>
<text transform="translate(4.08,0.00) scale(1.18,1)" x="-1.97" y="0" font-size="7.1" fill="#b0b0b0" stroke="#b0b0b0" stroke-width="0.15">0</text>
<text transform="translate(9.33,0.00) scale(1.18,1)" x="-1.97" y="0" font-size="7.1" fill="#b0b0b0" stroke="#b0b0b0" stroke-width="0.15">0</text>
<text transform="translate(14.58,0.00) scale(1.18,1)" x="-1.97" y="0" font-size="7.1" fill="#b0b0b0" stroke="#b0b0b0" stroke-width="0.15">0</text>
<text transform="translate(18.66,0.00) scale(0.6,1)" x="-2.07" y="0" font-size="7.1" fill="#b0b0b0" stroke="#b0b0b0" stroke-width="0.15">1</text>
</g>
<line x1="364.67" y1="227.54" x2="364.67" y2="234.85" stroke="#b0b0b0" stroke-width="0.55"/>
<polyline points="385.00,229.28 387.00,231.05 385.00,232.83" fill="none" stroke="#b0b0b0" stroke-width="0.58" stroke-linejoin="miter"/>
<text transform="translate(368.48,233.50) scale(1.18,1)" x="-1.97" y="0" font-size="7.1" fill="#b0b0b0" stroke="#b0b0b0" stroke-width="0.15">0</text>
<text transform="translate(373.73,233.50) scale(1.18,1)" x="-1.97" y="0" font-size="7.1" fill="#b0b0b0" stroke="#b0b0b0" stroke-width="0.15">0</text>
<text transform="translate(377.80,233.50) scale(0.6,1)" x="-2.07" y="0" font-size="7.1" fill="#b0b0b0" stroke="#b0b0b0" stroke-width="0.15">1</text>
<text transform="translate(381.87,233.50) scale(1.18,1)" x="-1.97" y="0" font-size="7.1" fill="#b0b0b0" stroke="#b0b0b0" stroke-width="0.15">0</text>
<g transform="translate(411.66,354.80) rotate(90)">
<line x1="0.28" y1="-5.96" x2="0.28" y2="1.35" stroke="#b0b0b0" stroke-width="0.55"/>
<polyline points="20.60,-4.22 22.60,-2.45 20.60,-0.67" fill="none" stroke="#b0b0b0" stroke-width="0.58" stroke-linejoin="miter"/>
<text transform="translate(4.08,0.00) scale(1.18,1)" x="-1.97" y="0" font-size="7.1" fill="#b0b0b0" stroke="#b0b0b0" stroke-width="0.15">0</text>
<text transform="translate(9.33,0.00) scale(1.18,1)" x="-1.97" y="0" font-size="7.1" fill="#b0b0b0" stroke="#b0b0b0" stroke-width="0.15">0</text>
<text transform="translate(13.40,0.00) scale(0.6,1)" x="-2.07" y="0" font-size="7.1" fill="#b0b0b0" stroke="#b0b0b0" stroke-width="0.15">1</text>
<text transform="translate(17.47,0.00) scale(1.18,1)" x="-1.97" y="0" font-size="7.1" fill="#b0b0b0" stroke="#b0b0b0" stroke-width="0.15">0</text>
</g>
<g transform="translate(563.96,354.80) rotate(90)">
<line x1="0.28" y1="-5.96" x2="0.28" y2="1.35" stroke="#b0b0b0" stroke-width="0.55"/>
<polyline points="20.60,-4.22 22.60,-2.45 20.60,-0.67" fill="none" stroke="#b0b0b0" stroke-width="0.58" stroke-linejoin="miter"/>
<text transform="translate(4.08,0.00) scale(1.18,1)" x="-1.97" y="0" font-size="7.1" fill="#b0b0b0" stroke="#b0b0b0" stroke-width="0.15">0</text>
<text transform="translate(9.33,0.00) scale(1.18,1)" x="-1.97" y="0" font-size="7.1" fill="#b0b0b0" stroke="#b0b0b0" stroke-width="0.15">0</text>
<text transform="translate(13.40,0.00) scale(0.6,1)" x="-2.07" y="0" font-size="7.1" fill="#b0b0b0" stroke="#b0b0b0" stroke-width="0.15">1</text>
<text transform="translate(17.47,0.00) scale(1.18,1)" x="-1.97" y="0" font-size="7.1" fill="#b0b0b0" stroke="#b0b0b0" stroke-width="0.15">0</text>
</g>
<line x1="366.67" y1="236.22" x2="366.67" y2="243.53" stroke="#1a1a1a" stroke-width="0.55"/>
<polyline points="385.00,237.96 387.00,239.73 385.00,241.51" fill="none" stroke="#1a1a1a" stroke-width="0.58" stroke-linejoin="miter"/>
<text transform="translate(370.54,242.18) scale(1.18,1)" x="-1.97" y="0" font-size="7.1" fill="#1a1a1a" stroke="#1a1a1a" stroke-width="0.15">0</text>
<text transform="translate(375.91,242.18) scale(1.18,1)" x="-1.97" y="0" font-size="7.1" fill="#1a1a1a" stroke="#1a1a1a" stroke-width="0.15">0</text>
<text transform="translate(380.07,242.18) scale(0.6,1)" x="-2.07" y="0" font-size="7.1" fill="#1a1a1a" stroke="#1a1a1a" stroke-width="0.15">1</text>
<text transform="translate(383.02,242.18) scale(0.6,1)" x="-2.07" y="0" font-size="7.1" fill="#1a1a1a" stroke="#1a1a1a" stroke-width="0.15">1</text>
<g transform="translate(420.34,354.80) rotate(90)">
<line x1="0.28" y1="-5.96" x2="0.28" y2="1.35" stroke="#1a1a1a" stroke-width="0.55"/>
<polyline points="18.60,-4.22 20.60,-2.45 18.60,-0.67" fill="none" stroke="#1a1a1a" stroke-width="0.58" stroke-linejoin="miter"/>
<text transform="translate(4.14,0.00) scale(1.18,1)" x="-1.97" y="0" font-size="7.1" fill="#1a1a1a" stroke="#1a1a1a" stroke-width="0.15">0</text>
<text transform="translate(9.51,0.00) scale(1.18,1)" x="-1.97" y="0" font-size="7.1" fill="#1a1a1a" stroke="#1a1a1a" stroke-width="0.15">0</text>
<text transform="translate(13.67,0.00) scale(0.6,1)" x="-2.07" y="0" font-size="7.1" fill="#1a1a1a" stroke="#1a1a1a" stroke-width="0.15">1</text>
<text transform="translate(16.62,0.00) scale(0.6,1)" x="-2.07" y="0" font-size="7.1" fill="#1a1a1a" stroke="#1a1a1a" stroke-width="0.15">1</text>
</g>
<g transform="translate(572.64,354.80) rotate(90)">
<line x1="0.28" y1="-5.96" x2="0.28" y2="1.35" stroke="#1a1a1a" stroke-width="0.55"/>
<polyline points="18.60,-4.22 20.60,-2.45 18.60,-0.67" fill="none" stroke="#1a1a1a" stroke-width="0.58" stroke-linejoin="miter"/>
<text transform="translate(4.14,0.00) scale(1.18,1)" x="-1.97" y="0" font-size="7.1" fill="#1a1a1a" stroke="#1a1a1a" stroke-width="0.15">0</text>
<text transform="translate(9.51,0.00) scale(1.18,1)" x="-1.97" y="0" font-size="7.1" fill="#1a1a1a" stroke="#1a1a1a" stroke-width="0.15">0</text>
<text transform="translate(13.67,0.00) scale(0.6,1)" x="-2.07" y="0" font-size="7.1" fill="#1a1a1a" stroke="#1a1a1a" stroke-width="0.15">1</text>
<text transform="translate(16.62,0.00) scale(0.6,1)" x="-2.07" y="0" font-size="7.1" fill="#1a1a1a" stroke="#1a1a1a" stroke-width="0.15">1</text>
</g>
<line x1="364.67" y1="244.90" x2="364.67" y2="252.21" stroke="#b0b0b0" stroke-width="0.55"/>
<polyline points="385.00,246.64 387.00,248.41 385.00,250.19" fill="none" stroke="#b0b0b0" stroke-width="0.58" stroke-linejoin="miter"/>
<text transform="translate(368.48,250.86) scale(1.18,1)" x="-1.97" y="0" font-size="7.1" fill="#b0b0b0" stroke="#b0b0b0" stroke-width="0.15">0</text>
<text transform="translate(372.55,250.86) scale(0.6,1)" x="-2.07" y="0" font-size="7.1" fill="#b0b0b0" stroke="#b0b0b0" stroke-width="0.15">1</text>
<text transform="translate(376.62,250.86) scale(1.18,1)" x="-1.97" y="0" font-size="7.1" fill="#b0b0b0" stroke="#b0b0b0" stroke-width="0.15">0</text>
<text transform="translate(381.87,250.86) scale(1.18,1)" x="-1.97" y="0" font-size="7.1" fill="#b0b0b0" stroke="#b0b0b0" stroke-width="0.15">0</text>
<g transform="translate(429.02,354.80) rotate(90)">
<line x1="0.28" y1="-5.96" x2="0.28" y2="1.35" stroke="#b0b0b0" stroke-width="0.55"/>
<polyline points="20.60,-4.22 22.60,-2.45 20.60,-0.67" fill="none" stroke="#b0b0b0" stroke-width="0.58" stroke-linejoin="miter"/>
<text transform="translate(4.08,0.00) scale(1.18,1)" x="-1.97" y="0" font-size="7.1" fill="#b0b0b0" stroke="#b0b0b0" stroke-width="0.15">0</text>
<text transform="translate(8.15,0.00) scale(0.6,1)" x="-2.07" y="0" font-size="7.1" fill="#b0b0b0" stroke="#b0b0b0" stroke-width="0.15">1</text>
<text transform="translate(12.22,0.00) scale(1.18,1)" x="-1.97" y="0" font-size="7.1" fill="#b0b0b0" stroke="#b0b0b0" stroke-width="0.15">0</text>
<text transform="translate(17.47,0.00) scale(1.18,1)" x="-1.97" y="0" font-size="7.1" fill="#b0b0b0" stroke="#b0b0b0" stroke-width="0.15">0</text>
</g>
<g transform="translate(581.32,354.80) rotate(90)">
<line x1="0.28" y1="-5.96" x2="0.28" y2="1.35" stroke="#b0b0b0" stroke-width="0.55"/>
<polyline points="20.60,-4.22 22.60,-2.45 20.60,-0.67" fill="none" stroke="#b0b0b0" stroke-width="0.58" stroke-linejoin="miter"/>
<text transform="translate(4.08,0.00) scale(1.18,1)" x="-1.97" y="0" font-size="7.1" fill="#b0b0b0" stroke="#b0b0b0" stroke-width="0.15">0</text>
<text transform="translate(8.15,0.00) scale(0.6,1)" x="-2.07" y="0" font-size="7.1" fill="#b0b0b0" stroke="#b0b0b0" stroke-width="0.15">1</text>
<text transform="translate(12.22,0.00) scale(1.18,1)" x="-1.97" y="0" font-size="7.1" fill="#b0b0b0" stroke="#b0b0b0" stroke-width="0.15">0</text>
<text transform="translate(17.47,0.00) scale(1.18,1)" x="-1.97" y="0" font-size="7.1" fill="#b0b0b0" stroke="#b0b0b0" stroke-width="0.15">0</text>
</g>
<line x1="366.67" y1="253.58" x2="366.67" y2="260.89" stroke="#1a1a1a" stroke-width="0.55"/>
<polyline points="385.00,255.32 387.00,257.09 385.00,258.87" fill="none" stroke="#1a1a1a" stroke-width="0.58" stroke-linejoin="miter"/>
<text transform="translate(370.54,259.54) scale(1.18,1)" x="-1.97" y="0" font-size="7.1" fill="#1a1a1a" stroke="#1a1a1a" stroke-width="0.15">0</text>
<text transform="translate(374.70,259.54) scale(0.6,1)" x="-2.07" y="0" font-size="7.1" fill="#1a1a1a" stroke="#1a1a1a" stroke-width="0.15">1</text>
<text transform="translate(378.86,259.54) scale(1.18,1)" x="-1.97" y="0" font-size="7.1" fill="#1a1a1a" stroke="#1a1a1a" stroke-width="0.15">0</text>
<text transform="translate(383.02,259.54) scale(0.6,1)" x="-2.07" y="0" font-size="7.1" fill="#1a1a1a" stroke="#1a1a1a" stroke-width="0.15">1</text>
<g transform="translate(437.70,354.80) rotate(90)">
<line x1="0.28" y1="-5.96" x2="0.28" y2="1.35" stroke="#1a1a1a" stroke-width="0.55"/>
<polyline points="18.60,-4.22 20.60,-2.45 18.60,-0.67" fill="none" stroke="#1a1a1a" stroke-width="0.58" stroke-linejoin="miter"/>
<text transform="translate(4.14,0.00) scale(1.18,1)" x="-1.97" y="0" font-size="7.1" fill="#1a1a1a" stroke="#1a1a1a" stroke-width="0.15">0</text>
<text transform="translate(8.30,0.00) scale(0.6,1)" x="-2.07" y="0" font-size="7.1" fill="#1a1a1a" stroke="#1a1a1a" stroke-width="0.15">1</text>
<text transform="translate(12.46,0.00) scale(1.18,1)" x="-1.97" y="0" font-size="7.1" fill="#1a1a1a" stroke="#1a1a1a" stroke-width="0.15">0</text>
<text transform="translate(16.62,0.00) scale(0.6,1)" x="-2.07" y="0" font-size="7.1" fill="#1a1a1a" stroke="#1a1a1a" stroke-width="0.15">1</text>
</g>
<g transform="translate(590.00,354.80) rotate(90)">
<line x1="0.28" y1="-5.96" x2="0.28" y2="1.35" stroke="#1a1a1a" stroke-width="0.55"/>
<polyline points="18.60,-4.22 20.60,-2.45 18.60,-0.67" fill="none" stroke="#1a1a1a" stroke-width="0.58" stroke-linejoin="miter"/>
<text transform="translate(4.14,0.00) scale(1.18,1)" x="-1.97" y="0" font-size="7.1" fill="#1a1a1a" stroke="#1a1a1a" stroke-width="0.15">0</text>
<text transform="translate(8.30,0.00) scale(0.6,1)" x="-2.07" y="0" font-size="7.1" fill="#1a1a1a" stroke="#1a1a1a" stroke-width="0.15">1</text>
<text transform="translate(12.46,0.00) scale(1.18,1)" x="-1.97" y="0" font-size="7.1" fill="#1a1a1a" stroke="#1a1a1a" stroke-width="0.15">0</text>
<text transform="translate(16.62,0.00) scale(0.6,1)" x="-2.07" y="0" font-size="7.1" fill="#1a1a1a" stroke="#1a1a1a" stroke-width="0.15">1</text>
</g>
<line x1="366.67" y1="262.26" x2="366.67" y2="269.57" stroke="#1a1a1a" stroke-width="0.55"/>
<polyline points="385.00,264.00 387.00,265.77 385.00,267.55" fill="none" stroke="#1a1a1a" stroke-width="0.58" stroke-linejoin="miter"/>
<text transform="translate(370.54,268.22) scale(1.18,1)" x="-1.97" y="0" font-size="7.1" fill="#1a1a1a" stroke="#1a1a1a" stroke-width="0.15">0</text>
<text transform="translate(374.70,268.22) scale(0.6,1)" x="-2.07" y="0" font-size="7.1" fill="#1a1a1a" stroke="#1a1a1a" stroke-width="0.15">1</text>
<text transform="translate(377.65,268.22) scale(0.6,1)" x="-2.07" y="0" font-size="7.1" fill="#1a1a1a" stroke="#1a1a1a" stroke-width="0.15">1</text>
<text transform="translate(381.81,268.22) scale(1.18,1)" x="-1.97" y="0" font-size="7.1" fill="#1a1a1a" stroke="#1a1a1a" stroke-width="0.15">0</text>
<g transform="translate(446.38,354.80) rotate(90)">
<line x1="0.28" y1="-5.96" x2="0.28" y2="1.35" stroke="#1a1a1a" stroke-width="0.55"/>
<polyline points="18.60,-4.22 20.60,-2.45 18.60,-0.67" fill="none" stroke="#1a1a1a" stroke-width="0.58" stroke-linejoin="miter"/>
<text transform="translate(4.14,0.00) scale(1.18,1)" x="-1.97" y="0" font-size="7.1" fill="#1a1a1a" stroke="#1a1a1a" stroke-width="0.15">0</text>
<text transform="translate(8.30,0.00) scale(0.6,1)" x="-2.07" y="0" font-size="7.1" fill="#1a1a1a" stroke="#1a1a1a" stroke-width="0.15">1</text>
<text transform="translate(11.25,0.00) scale(0.6,1)" x="-2.07" y="0" font-size="7.1" fill="#1a1a1a" stroke="#1a1a1a" stroke-width="0.15">1</text>
<text transform="translate(15.41,0.00) scale(1.18,1)" x="-1.97" y="0" font-size="7.1" fill="#1a1a1a" stroke="#1a1a1a" stroke-width="0.15">0</text>
</g>
<g transform="translate(598.68,354.80) rotate(90)">
<line x1="0.28" y1="-5.96" x2="0.28" y2="1.35" stroke="#1a1a1a" stroke-width="0.55"/>
<polyline points="18.60,-4.22 20.60,-2.45 18.60,-0.67" fill="none" stroke="#1a1a1a" stroke-width="0.58" stroke-linejoin="miter"/>
<text transform="translate(4.14,0.00) scale(1.18,1)" x="-1.97" y="0" font-size="7.1" fill="#1a1a1a" stroke="#1a1a1a" stroke-width="0.15">0</text>
<text transform="translate(8.30,0.00) scale(0.6,1)" x="-2.07" y="0" font-size="7.1" fill="#1a1a1a" stroke="#1a1a1a" stroke-width="0.15">1</text>
<text transform="translate(11.25,0.00) scale(0.6,1)" x="-2.07" y="0" font-size="7.1" fill="#1a1a1a" stroke="#1a1a1a" stroke-width="0.15">1</text>
<text transform="translate(15.41,0.00) scale(1.18,1)" x="-1.97" y="0" font-size="7.1" fill="#1a1a1a" stroke="#1a1a1a" stroke-width="0.15">0</text>
</g>
<line x1="368.67" y1="270.94" x2="368.67" y2="278.25" stroke="#b0b0b0" stroke-width="0.55"/>
<polyline points="385.00,272.68 387.00,274.45 385.00,276.23" fill="none" stroke="#b0b0b0" stroke-width="0.58" stroke-linejoin="miter"/>
<text transform="translate(372.61,276.90) scale(1.18,1)" x="-1.97" y="0" font-size="7.1" fill="#b0b0b0" stroke="#b0b0b0" stroke-width="0.15">0</text>
<text transform="translate(376.90,276.90) scale(0.6,1)" x="-2.07" y="0" font-size="7.1" fill="#b0b0b0" stroke="#b0b0b0" stroke-width="0.15">1</text>
<text transform="translate(379.94,276.90) scale(0.6,1)" x="-2.07" y="0" font-size="7.1" fill="#b0b0b0" stroke="#b0b0b0" stroke-width="0.15">1</text>
<text transform="translate(382.98,276.90) scale(0.6,1)" x="-2.07" y="0" font-size="7.1" fill="#b0b0b0" stroke="#b0b0b0" stroke-width="0.15">1</text>
<g transform="translate(455.06,354.80) rotate(90)">
<line x1="0.28" y1="-5.96" x2="0.28" y2="1.35" stroke="#b0b0b0" stroke-width="0.55"/>
<polyline points="16.60,-4.22 18.60,-2.45 16.60,-0.67" fill="none" stroke="#b0b0b0" stroke-width="0.58" stroke-linejoin="miter"/>
<text transform="translate(4.21,0.00) scale(1.18,1)" x="-1.97" y="0" font-size="7.1" fill="#b0b0b0" stroke="#b0b0b0" stroke-width="0.15">0</text>
<text transform="translate(8.50,0.00) scale(0.6,1)" x="-2.07" y="0" font-size="7.1" fill="#b0b0b0" stroke="#b0b0b0" stroke-width="0.15">1</text>
<text transform="translate(11.54,0.00) scale(0.6,1)" x="-2.07" y="0" font-size="7.1" fill="#b0b0b0" stroke="#b0b0b0" stroke-width="0.15">1</text>
<text transform="translate(14.58,0.00) scale(0.6,1)" x="-2.07" y="0" font-size="7.1" fill="#b0b0b0" stroke="#b0b0b0" stroke-width="0.15">1</text>
</g>
<g transform="translate(607.36,354.80) rotate(90)">
<line x1="0.28" y1="-5.96" x2="0.28" y2="1.35" stroke="#b0b0b0" stroke-width="0.55"/>
<polyline points="16.60,-4.22 18.60,-2.45 16.60,-0.67" fill="none" stroke="#b0b0b0" stroke-width="0.58" stroke-linejoin="miter"/>
<text transform="translate(4.21,0.00) scale(1.18,1)" x="-1.97" y="0" font-size="7.1" fill="#b0b0b0" stroke="#b0b0b0" stroke-width="0.15">0</text>
<text transform="translate(8.50,0.00) scale(0.6,1)" x="-2.07" y="0" font-size="7.1" fill="#b0b0b0" stroke="#b0b0b0" stroke-width="0.15">1</text>
<text transform="translate(11.54,0.00) scale(0.6,1)" x="-2.07" y="0" font-size="7.1" fill="#b0b0b0" stroke="#b0b0b0" stroke-width="0.15">1</text>
<text transform="translate(14.58,0.00) scale(0.6,1)" x="-2.07" y="0" font-size="7.1" fill="#b0b0b0" stroke="#b0b0b0" stroke-width="0.15">1</text>
</g>
<line x1="364.67" y1="279.62" x2="364.67" y2="286.93" stroke="#b0b0b0" stroke-width="0.55"/>
<polyline points="385.00,281.36 387.00,283.13 385.00,284.91" fill="none" stroke="#b0b0b0" stroke-width="0.58" stroke-linejoin="miter"/>
<text transform="translate(367.29,285.58) scale(0.6,1)" x="-2.07" y="0" font-size="7.1" fill="#b0b0b0" stroke="#b0b0b0" stroke-width="0.15">1</text>
<text transform="translate(371.37,285.58) scale(1.18,1)" x="-1.97" y="0" font-size="7.1" fill="#b0b0b0" stroke="#b0b0b0" stroke-width="0.15">0</text>
<text transform="translate(376.62,285.58) scale(1.18,1)" x="-1.97" y="0" font-size="7.1" fill="#b0b0b0" stroke="#b0b0b0" stroke-width="0.15">0</text>
<text transform="translate(381.87,285.58) scale(1.18,1)" x="-1.97" y="0" font-size="7.1" fill="#b0b0b0" stroke="#b0b0b0" stroke-width="0.15">0</text>
<g transform="translate(463.74,354.80) rotate(90)">
<line x1="0.28" y1="-5.96" x2="0.28" y2="1.35" stroke="#b0b0b0" stroke-width="0.55"/>
<polyline points="20.60,-4.22 22.60,-2.45 20.60,-0.67" fill="none" stroke="#b0b0b0" stroke-width="0.58" stroke-linejoin="miter"/>
<text transform="translate(2.89,0.00) scale(0.6,1)" x="-2.07" y="0" font-size="7.1" fill="#b0b0b0" stroke="#b0b0b0" stroke-width="0.15">1</text>
<text transform="translate(6.97,0.00) scale(1.18,1)" x="-1.97" y="0" font-size="7.1" fill="#b0b0b0" stroke="#b0b0b0" stroke-width="0.15">0</text>
<text transform="translate(12.22,0.00) scale(1.18,1)" x="-1.97" y="0" font-size="7.1" fill="#b0b0b0" stroke="#b0b0b0" stroke-width="0.15">0</text>
<text transform="translate(17.47,0.00) scale(1.18,1)" x="-1.97" y="0" font-size="7.1" fill="#b0b0b0" stroke="#b0b0b0" stroke-width="0.15">0</text>
</g>
<g transform="translate(616.04,354.80) rotate(90)">
<line x1="0.28" y1="-5.96" x2="0.28" y2="1.35" stroke="#b0b0b0" stroke-width="0.55"/>
<polyline points="20.60,-4.22 22.60,-2.45 20.60,-0.67" fill="none" stroke="#b0b0b0" stroke-width="0.58" stroke-linejoin="miter"/>
<text transform="translate(2.89,0.00) scale(0.6,1)" x="-2.07" y="0" font-size="7.1" fill="#b0b0b0" stroke="#b0b0b0" stroke-width="0.15">1</text>
<text transform="translate(6.97,0.00) scale(1.18,1)" x="-1.97" y="0" font-size="7.1" fill="#b0b0b0" stroke="#b0b0b0" stroke-width="0.15">0</text>
<text transform="translate(12.22,0.00) scale(1.18,1)" x="-1.97" y="0" font-size="7.1" fill="#b0b0b0" stroke="#b0b0b0" stroke-width="0.15">0</text>
<text transform="translate(17.47,0.00) scale(1.18,1)" x="-1.97" y="0" font-size="7.1" fill="#b0b0b0" stroke="#b0b0b0" stroke-width="0.15">0</text>
</g>
<line x1="366.67" y1="288.30" x2="366.67" y2="295.61" stroke="#1a1a1a" stroke-width="0.55"/>
<polyline points="385.00,290.04 387.00,291.81 385.00,293.59" fill="none" stroke="#1a1a1a" stroke-width="0.58" stroke-linejoin="miter"/>
<text transform="translate(369.33,294.26) scale(0.6,1)" x="-2.07" y="0" font-size="7.1" fill="#1a1a1a" stroke="#1a1a1a" stroke-width="0.15">1</text>
<text transform="translate(373.49,294.26) scale(1.18,1)" x="-1.97" y="0" font-size="7.1" fill="#1a1a1a" stroke="#1a1a1a" stroke-width="0.15">0</text>
<text transform="translate(378.86,294.26) scale(1.18,1)" x="-1.97" y="0" font-size="7.1" fill="#1a1a1a" stroke="#1a1a1a" stroke-width="0.15">0</text>
<text transform="translate(383.02,294.26) scale(0.6,1)" x="-2.07" y="0" font-size="7.1" fill="#1a1a1a" stroke="#1a1a1a" stroke-width="0.15">1</text>
<g transform="translate(472.42,354.80) rotate(90)">
<line x1="0.28" y1="-5.96" x2="0.28" y2="1.35" stroke="#1a1a1a" stroke-width="0.55"/>
<polyline points="18.60,-4.22 20.60,-2.45 18.60,-0.67" fill="none" stroke="#1a1a1a" stroke-width="0.58" stroke-linejoin="miter"/>
<text transform="translate(2.93,0.00) scale(0.6,1)" x="-2.07" y="0" font-size="7.1" fill="#1a1a1a" stroke="#1a1a1a" stroke-width="0.15">1</text>
<text transform="translate(7.09,0.00) scale(1.18,1)" x="-1.97" y="0" font-size="7.1" fill="#1a1a1a" stroke="#1a1a1a" stroke-width="0.15">0</text>
<text transform="translate(12.46,0.00) scale(1.18,1)" x="-1.97" y="0" font-size="7.1" fill="#1a1a1a" stroke="#1a1a1a" stroke-width="0.15">0</text>
<text transform="translate(16.62,0.00) scale(0.6,1)" x="-2.07" y="0" font-size="7.1" fill="#1a1a1a" stroke="#1a1a1a" stroke-width="0.15">1</text>
</g>
<g transform="translate(624.72,354.80) rotate(90)">
<line x1="0.28" y1="-5.96" x2="0.28" y2="1.35" stroke="#1a1a1a" stroke-width="0.55"/>
<polyline points="18.60,-4.22 20.60,-2.45 18.60,-0.67" fill="none" stroke="#1a1a1a" stroke-width="0.58" stroke-linejoin="miter"/>
<text transform="translate(2.93,0.00) scale(0.6,1)" x="-2.07" y="0" font-size="7.1" fill="#1a1a1a" stroke="#1a1a1a" stroke-width="0.15">1</text>
<text transform="translate(7.09,0.00) scale(1.18,1)" x="-1.97" y="0" font-size="7.1" fill="#1a1a1a" stroke="#1a1a1a" stroke-width="0.15">0</text>
<text transform="translate(12.46,0.00) scale(1.18,1)" x="-1.97" y="0" font-size="7.1" fill="#1a1a1a" stroke="#1a1a1a" stroke-width="0.15">0</text>
<text transform="translate(16.62,0.00) scale(0.6,1)" x="-2.07" y="0" font-size="7.1" fill="#1a1a1a" stroke="#1a1a1a" stroke-width="0.15">1</text>
</g>
<line x1="366.67" y1="296.98" x2="366.67" y2="304.29" stroke="#1a1a1a" stroke-width="0.55"/>
<polyline points="385.00,298.72 387.00,300.49 385.00,302.27" fill="none" stroke="#1a1a1a" stroke-width="0.58" stroke-linejoin="miter"/>
<text transform="translate(369.33,302.94) scale(0.6,1)" x="-2.07" y="0" font-size="7.1" fill="#1a1a1a" stroke="#1a1a1a" stroke-width="0.15">1</text>
<text transform="translate(373.49,302.94) scale(1.18,1)" x="-1.97" y="0" font-size="7.1" fill="#1a1a1a" stroke="#1a1a1a" stroke-width="0.15">0</text>
<text transform="translate(377.65,302.94) scale(0.6,1)" x="-2.07" y="0" font-size="7.1" fill="#1a1a1a" stroke="#1a1a1a" stroke-width="0.15">1</text>
<text transform="translate(381.81,302.94) scale(1.18,1)" x="-1.97" y="0" font-size="7.1" fill="#1a1a1a" stroke="#1a1a1a" stroke-width="0.15">0</text>
<g transform="translate(481.10,354.80) rotate(90)">
<line x1="0.28" y1="-5.96" x2="0.28" y2="1.35" stroke="#1a1a1a" stroke-width="0.55"/>
<polyline points="18.60,-4.22 20.60,-2.45 18.60,-0.67" fill="none" stroke="#1a1a1a" stroke-width="0.58" stroke-linejoin="miter"/>
<text transform="translate(2.93,0.00) scale(0.6,1)" x="-2.07" y="0" font-size="7.1" fill="#1a1a1a" stroke="#1a1a1a" stroke-width="0.15">1</text>
<text transform="translate(7.09,0.00) scale(1.18,1)" x="-1.97" y="0" font-size="7.1" fill="#1a1a1a" stroke="#1a1a1a" stroke-width="0.15">0</text>
<text transform="translate(11.25,0.00) scale(0.6,1)" x="-2.07" y="0" font-size="7.1" fill="#1a1a1a" stroke="#1a1a1a" stroke-width="0.15">1</text>
<text transform="translate(15.41,0.00) scale(1.18,1)" x="-1.97" y="0" font-size="7.1" fill="#1a1a1a" stroke="#1a1a1a" stroke-width="0.15">0</text>
</g>
<g transform="translate(633.40,354.80) rotate(90)">
<line x1="0.28" y1="-5.96" x2="0.28" y2="1.35" stroke="#1a1a1a" stroke-width="0.55"/>
<polyline points="18.60,-4.22 20.60,-2.45 18.60,-0.67" fill="none" stroke="#1a1a1a" stroke-width="0.58" stroke-linejoin="miter"/>
<text transform="translate(2.93,0.00) scale(0.6,1)" x="-2.07" y="0" font-size="7.1" fill="#1a1a1a" stroke="#1a1a1a" stroke-width="0.15">1</text>
<text transform="translate(7.09,0.00) scale(1.18,1)" x="-1.97" y="0" font-size="7.1" fill="#1a1a1a" stroke="#1a1a1a" stroke-width="0.15">0</text>
<text transform="translate(11.25,0.00) scale(0.6,1)" x="-2.07" y="0" font-size="7.1" fill="#1a1a1a" stroke="#1a1a1a" stroke-width="0.15">1</text>
<text transform="translate(15.41,0.00) scale(1.18,1)" x="-1.97" y="0" font-size="7.1" fill="#1a1a1a" stroke="#1a1a1a" stroke-width="0.15">0</text>
</g>
<line x1="368.67" y1="305.66" x2="368.67" y2="312.97" stroke="#b0b0b0" stroke-width="0.55"/>
<polyline points="385.00,307.40 387.00,309.17 385.00,310.95" fill="none" stroke="#b0b0b0" stroke-width="0.58" stroke-linejoin="miter"/>
<text transform="translate(371.37,311.62) scale(0.6,1)" x="-2.07" y="0" font-size="7.1" fill="#b0b0b0" stroke="#b0b0b0" stroke-width="0.15">1</text>
<text transform="translate(375.65,311.62) scale(1.18,1)" x="-1.97" y="0" font-size="7.1" fill="#b0b0b0" stroke="#b0b0b0" stroke-width="0.15">0</text>
<text transform="translate(379.94,311.62) scale(0.6,1)" x="-2.07" y="0" font-size="7.1" fill="#b0b0b0" stroke="#b0b0b0" stroke-width="0.15">1</text>
<text transform="translate(382.98,311.62) scale(0.6,1)" x="-2.07" y="0" font-size="7.1" fill="#b0b0b0" stroke="#b0b0b0" stroke-width="0.15">1</text>
<g transform="translate(489.78,354.80) rotate(90)">
<line x1="0.28" y1="-5.96" x2="0.28" y2="1.35" stroke="#b0b0b0" stroke-width="0.55"/>
<polyline points="16.60,-4.22 18.60,-2.45 16.60,-0.67" fill="none" stroke="#b0b0b0" stroke-width="0.58" stroke-linejoin="miter"/>
<text transform="translate(2.97,0.00) scale(0.6,1)" x="-2.07" y="0" font-size="7.1" fill="#b0b0b0" stroke="#b0b0b0" stroke-width="0.15">1</text>
<text transform="translate(7.25,0.00) scale(1.18,1)" x="-1.97" y="0" font-size="7.1" fill="#b0b0b0" stroke="#b0b0b0" stroke-width="0.15">0</text>
<text transform="translate(11.54,0.00) scale(0.6,1)" x="-2.07" y="0" font-size="7.1" fill="#b0b0b0" stroke="#b0b0b0" stroke-width="0.15">1</text>
<text transform="translate(14.58,0.00) scale(0.6,1)" x="-2.07" y="0" font-size="7.1" fill="#b0b0b0" stroke="#b0b0b0" stroke-width="0.15">1</text>
</g>
<g transform="translate(642.08,354.80) rotate(90)">
<line x1="0.28" y1="-5.96" x2="0.28" y2="1.35" stroke="#b0b0b0" stroke-width="0.55"/>
<polyline points="16.60,-4.22 18.60,-2.45 16.60,-0.67" fill="none" stroke="#b0b0b0" stroke-width="0.58" stroke-linejoin="miter"/>
<text transform="translate(2.97,0.00) scale(0.6,1)" x="-2.07" y="0" font-size="7.1" fill="#b0b0b0" stroke="#b0b0b0" stroke-width="0.15">1</text>
<text transform="translate(7.25,0.00) scale(1.18,1)" x="-1.97" y="0" font-size="7.1" fill="#b0b0b0" stroke="#b0b0b0" stroke-width="0.15">0</text>
<text transform="translate(11.54,0.00) scale(0.6,1)" x="-2.07" y="0" font-size="7.1" fill="#b0b0b0" stroke="#b0b0b0" stroke-width="0.15">1</text>
<text transform="translate(14.58,0.00) scale(0.6,1)" x="-2.07" y="0" font-size="7.1" fill="#b0b0b0" stroke="#b0b0b0" stroke-width="0.15">1</text>
</g>
<line x1="366.67" y1="314.34" x2="366.67" y2="321.65" stroke="#1a1a1a" stroke-width="0.55"/>
<polyline points="385.00,316.08 387.00,317.85 385.00,319.63" fill="none" stroke="#1a1a1a" stroke-width="0.58" stroke-linejoin="miter"/>
<text transform="translate(369.33,320.30) scale(0.6,1)" x="-2.07" y="0" font-size="7.1" fill="#1a1a1a" stroke="#1a1a1a" stroke-width="0.15">1</text>
<text transform="translate(372.28,320.30) scale(0.6,1)" x="-2.07" y="0" font-size="7.1" fill="#1a1a1a" stroke="#1a1a1a" stroke-width="0.15">1</text>
<text transform="translate(376.44,320.30) scale(1.18,1)" x="-1.97" y="0" font-size="7.1" fill="#1a1a1a" stroke="#1a1a1a" stroke-width="0.15">0</text>
<text transform="translate(381.81,320.30) scale(1.18,1)" x="-1.97" y="0" font-size="7.1" fill="#1a1a1a" stroke="#1a1a1a" stroke-width="0.15">0</text>
<g transform="translate(498.46,354.80) rotate(90)">
<line x1="0.28" y1="-5.96" x2="0.28" y2="1.35" stroke="#1a1a1a" stroke-width="0.55"/>
<polyline points="18.60,-4.22 20.60,-2.45 18.60,-0.67" fill="none" stroke="#1a1a1a" stroke-width="0.58" stroke-linejoin="miter"/>
<text transform="translate(2.93,0.00) scale(0.6,1)" x="-2.07" y="0" font-size="7.1" fill="#1a1a1a" stroke="#1a1a1a" stroke-width="0.15">1</text>
<text transform="translate(5.88,0.00) scale(0.6,1)" x="-2.07" y="0" font-size="7.1" fill="#1a1a1a" stroke="#1a1a1a" stroke-width="0.15">1</text>
<text transform="translate(10.04,0.00) scale(1.18,1)" x="-1.97" y="0" font-size="7.1" fill="#1a1a1a" stroke="#1a1a1a" stroke-width="0.15">0</text>
<text transform="translate(15.41,0.00) scale(1.18,1)" x="-1.97" y="0" font-size="7.1" fill="#1a1a1a" stroke="#1a1a1a" stroke-width="0.15">0</text>
</g>
<g transform="translate(650.76,354.80) rotate(90)">
<line x1="0.28" y1="-5.96" x2="0.28" y2="1.35" stroke="#1a1a1a" stroke-width="0.55"/>
<polyline points="18.60,-4.22 20.60,-2.45 18.60,-0.67" fill="none" stroke="#1a1a1a" stroke-width="0.58" stroke-linejoin="miter"/>
<text transform="translate(2.93,0.00) scale(0.6,1)" x="-2.07" y="0" font-size="7.1" fill="#1a1a1a" stroke="#1a1a1a" stroke-width="0.15">1</text>
<text transform="translate(5.88,0.00) scale(0.6,1)" x="-2.07" y="0" font-size="7.1" fill="#1a1a1a" stroke="#1a1a1a" stroke-width="0.15">1</text>
<text transform="translate(10.04,0.00) scale(1.18,1)" x="-1.97" y="0" font-size="7.1" fill="#1a1a1a" stroke="#1a1a1a" stroke-width="0.15">0</text>
<text transform="translate(15.41,0.00) scale(1.18,1)" x="-1.97" y="0" font-size="7.1" fill="#1a1a1a" stroke="#1a1a1a" stroke-width="0.15">0</text>
</g>
<line x1="368.67" y1="323.02" x2="368.67" y2="330.33" stroke="#b0b0b0" stroke-width="0.55"/>
<polyline points="385.00,324.76 387.00,326.53 385.00,328.31" fill="none" stroke="#b0b0b0" stroke-width="0.58" stroke-linejoin="miter"/>
<text transform="translate(371.37,328.98) scale(0.6,1)" x="-2.07" y="0" font-size="7.1" fill="#b0b0b0" stroke="#b0b0b0" stroke-width="0.15">1</text>
<text transform="translate(374.41,328.98) scale(0.6,1)" x="-2.07" y="0" font-size="7.1" fill="#b0b0b0" stroke="#b0b0b0" stroke-width="0.15">1</text>
<text transform="translate(378.70,328.98) scale(1.18,1)" x="-1.97" y="0" font-size="7.1" fill="#b0b0b0" stroke="#b0b0b0" stroke-width="0.15">0</text>
<text transform="translate(382.98,328.98) scale(0.6,1)" x="-2.07" y="0" font-size="7.1" fill="#b0b0b0" stroke="#b0b0b0" stroke-width="0.15">1</text>
<g transform="translate(507.14,354.80) rotate(90)">
<line x1="0.28" y1="-5.96" x2="0.28" y2="1.35" stroke="#b0b0b0" stroke-width="0.55"/>
<polyline points="16.60,-4.22 18.60,-2.45 16.60,-0.67" fill="none" stroke="#b0b0b0" stroke-width="0.58" stroke-linejoin="miter"/>
<text transform="translate(2.97,0.00) scale(0.6,1)" x="-2.07" y="0" font-size="7.1" fill="#b0b0b0" stroke="#b0b0b0" stroke-width="0.15">1</text>
<text transform="translate(6.01,0.00) scale(0.6,1)" x="-2.07" y="0" font-size="7.1" fill="#b0b0b0" stroke="#b0b0b0" stroke-width="0.15">1</text>
<text transform="translate(10.30,0.00) scale(1.18,1)" x="-1.97" y="0" font-size="7.1" fill="#b0b0b0" stroke="#b0b0b0" stroke-width="0.15">0</text>
<text transform="translate(14.58,0.00) scale(0.6,1)" x="-2.07" y="0" font-size="7.1" fill="#b0b0b0" stroke="#b0b0b0" stroke-width="0.15">1</text>
</g>
<g transform="translate(659.44,354.80) rotate(90)">
<line x1="0.28" y1="-5.96" x2="0.28" y2="1.35" stroke="#b0b0b0" stroke-width="0.55"/>
<polyline points="16.60,-4.22 18.60,-2.45 16.60,-0.67" fill="none" stroke="#b0b0b0" stroke-width="0.58" stroke-linejoin="miter"/>
<text transform="translate(2.97,0.00) scale(0.6,1)" x="-2.07" y="0" font-size="7.1" fill="#b0b0b0" stroke="#b0b0b0" stroke-width="0.15">1</text>
<text transform="translate(6.01,0.00) scale(0.6,1)" x="-2.07" y="0" font-size="7.1" fill="#b0b0b0" stroke="#b0b0b0" stroke-width="0.15">1</text>
<text transform="translate(10.30,0.00) scale(1.18,1)" x="-1.97" y="0" font-size="7.1" fill="#b0b0b0" stroke="#b0b0b0" stroke-width="0.15">0</text>
<text transform="translate(14.58,0.00) scale(0.6,1)" x="-2.07" y="0" font-size="7.1" fill="#b0b0b0" stroke="#b0b0b0" stroke-width="0.15">1</text>
</g>
<line x1="368.67" y1="331.70" x2="368.67" y2="339.01" stroke="#b0b0b0" stroke-width="0.55"/>
<polyline points="385.00,333.44 387.00,335.21 385.00,336.99" fill="none" stroke="#b0b0b0" stroke-width="0.58" stroke-linejoin="miter"/>
<text transform="translate(371.37,337.66) scale(0.6,1)" x="-2.07" y="0" font-size="7.1" fill="#b0b0b0" stroke="#b0b0b0" stroke-width="0.15">1</text>
<text transform="translate(374.41,337.66) scale(0.6,1)" x="-2.07" y="0" font-size="7.1" fill="#b0b0b0" stroke="#b0b0b0" stroke-width="0.15">1</text>
<text transform="translate(377.45,337.66) scale(0.6,1)" x="-2.07" y="0" font-size="7.1" fill="#b0b0b0" stroke="#b0b0b0" stroke-width="0.15">1</text>
<text transform="translate(381.74,337.66) scale(1.18,1)" x="-1.97" y="0" font-size="7.1" fill="#b0b0b0" stroke="#b0b0b0" stroke-width="0.15">0</text>
<g transform="translate(515.82,354.80) rotate(90)">
<line x1="0.28" y1="-5.96" x2="0.28" y2="1.35" stroke="#b0b0b0" stroke-width="0.55"/>
<polyline points="16.60,-4.22 18.60,-2.45 16.60,-0.67" fill="none" stroke="#b0b0b0" stroke-width="0.58" stroke-linejoin="miter"/>
<text transform="translate(2.97,0.00) scale(0.6,1)" x="-2.07" y="0" font-size="7.1" fill="#b0b0b0" stroke="#b0b0b0" stroke-width="0.15">1</text>
<text transform="translate(6.01,0.00) scale(0.6,1)" x="-2.07" y="0" font-size="7.1" fill="#b0b0b0" stroke="#b0b0b0" stroke-width="0.15">1</text>
<text transform="translate(9.05,0.00) scale(0.6,1)" x="-2.07" y="0" font-size="7.1" fill="#b0b0b0" stroke="#b0b0b0" stroke-width="0.15">1</text>
<text transform="translate(13.34,0.00) scale(1.18,1)" x="-1.97" y="0" font-size="7.1" fill="#b0b0b0" stroke="#b0b0b0" stroke-width="0.15">0</text>
</g>
<g transform="translate(668.12,354.80) rotate(90)">
<line x1="0.28" y1="-5.96" x2="0.28" y2="1.35" stroke="#b0b0b0" stroke-width="0.55"/>
<polyline points="16.60,-4.22 18.60,-2.45 16.60,-0.67" fill="none" stroke="#b0b0b0" stroke-width="0.58" stroke-linejoin="miter"/>
<text transform="translate(2.97,0.00) scale(0.6,1)" x="-2.07" y="0" font-size="7.1" fill="#b0b0b0" stroke="#b0b0b0" stroke-width="0.15">1</text>
<text transform="translate(6.01,0.00) scale(0.6,1)" x="-2.07" y="0" font-size="7.1" fill="#b0b0b0" stroke="#b0b0b0" stroke-width="0.15">1</text>
<text transform="translate(9.05,0.00) scale(0.6,1)" x="-2.07" y="0" font-size="7.1" fill="#b0b0b0" stroke="#b0b0b0" stroke-width="0.15">1</text>
<text transform="translate(13.34,0.00) scale(1.18,1)" x="-1.97" y="0" font-size="7.1" fill="#b0b0b0" stroke="#b0b0b0" stroke-width="0.15">0</text>
</g>
<line x1="370.67" y1="340.38" x2="370.67" y2="347.69" stroke="#b0b0b0" stroke-width="0.55"/>
<polyline points="385.00,342.12 387.00,343.89 385.00,345.67" fill="none" stroke="#b0b0b0" stroke-width="0.58" stroke-linejoin="miter"/>
<text transform="translate(373.43,346.34) scale(0.6,1)" x="-2.07" y="0" font-size="7.1" fill="#b0b0b0" stroke="#b0b0b0" stroke-width="0.15">1</text>
<text transform="translate(376.59,346.34) scale(0.6,1)" x="-2.07" y="0" font-size="7.1" fill="#b0b0b0" stroke="#b0b0b0" stroke-width="0.15">1</text>
<text transform="translate(379.76,346.34) scale(0.6,1)" x="-2.07" y="0" font-size="7.1" fill="#b0b0b0" stroke="#b0b0b0" stroke-width="0.15">1</text>
<text transform="translate(382.92,346.34) scale(0.6,1)" x="-2.07" y="0" font-size="7.1" fill="#b0b0b0" stroke="#b0b0b0" stroke-width="0.15">1</text>
<g transform="translate(524.50,354.80) rotate(90)">
<line x1="0.28" y1="-5.96" x2="0.28" y2="1.35" stroke="#b0b0b0" stroke-width="0.55"/>
<polyline points="14.60,-4.22 16.60,-2.45 14.60,-0.67" fill="none" stroke="#b0b0b0" stroke-width="0.58" stroke-linejoin="miter"/>
<text transform="translate(3.03,0.00) scale(0.6,1)" x="-2.07" y="0" font-size="7.1" fill="#b0b0b0" stroke="#b0b0b0" stroke-width="0.15">1</text>
<text transform="translate(6.19,0.00) scale(0.6,1)" x="-2.07" y="0" font-size="7.1" fill="#b0b0b0" stroke="#b0b0b0" stroke-width="0.15">1</text>
<text transform="translate(9.36,0.00) scale(0.6,1)" x="-2.07" y="0" font-size="7.1" fill="#b0b0b0" stroke="#b0b0b0" stroke-width="0.15">1</text>
<text transform="translate(12.52,0.00) scale(0.6,1)" x="-2.07" y="0" font-size="7.1" fill="#b0b0b0" stroke="#b0b0b0" stroke-width="0.15">1</text>
</g>
<g transform="translate(676.80,354.80) rotate(90)">
<line x1="0.28" y1="-5.96" x2="0.28" y2="1.35" stroke="#b0b0b0" stroke-width="0.55"/>
<polyline points="14.60,-4.22 16.60,-2.45 14.60,-0.67" fill="none" stroke="#b0b0b0" stroke-width="0.58" stroke-linejoin="miter"/>
<text transform="translate(3.03,0.00) scale(0.6,1)" x="-2.07" y="0" font-size="7.1" fill="#b0b0b0" stroke="#b0b0b0" stroke-width="0.15">1</text>
<text transform="translate(6.19,0.00) scale(0.6,1)" x="-2.07" y="0" font-size="7.1" fill="#b0b0b0" stroke="#b0b0b0" stroke-width="0.15">1</text>
<text transform="translate(9.36,0.00) scale(0.6,1)" x="-2.07" y="0" font-size="7.1" fill="#b0b0b0" stroke="#b0b0b0" stroke-width="0.15">1</text>
<text transform="translate(12.52,0.00) scale(0.6,1)" x="-2.07" y="0" font-size="7.1" fill="#b0b0b0" stroke="#b0b0b0" stroke-width="0.15">1</text>
</g>
<text x="0.32" y="173.60" font-size="12.4" fill="#111" font-weight="bold" textLength="8.12" lengthAdjust="spacingAndGlyphs" stroke="#111" stroke-width="0.35">b</text>
<rect x="56.50" y="209.30" width="139.10" height="138.40" fill="#e6f4f5"/>
<rect x="67.39" y="220.13" width="7.87" height="7.83" fill="#72a5c9"/>
<rect x="74.56" y="220.13" width="5.36" height="7.83" fill="#6da2c7"/>
<rect x="84.19" y="220.13" width="4.26" height="7.83" fill="#6198c1"/>
<rect x="95.83" y="220.13" width="2.83" height="7.83" fill="#6399c2"/>
<rect x="108.85" y="220.13" width="1.88" height="7.83" fill="#6399c2"/>
<rect x="122.69" y="220.13" width="1.33" height="7.83" fill="#7bacce"/>
<rect x="136.98" y="220.13" width="1.02" height="7.83" fill="#9dc6dc"/>
<rect x="151.50" y="220.13" width="0.86" height="7.83" fill="#b4d6e5"/>
<rect x="166.15" y="220.13" width="0.78" height="7.83" fill="#d1eaf1"/>
<rect x="180.86" y="220.13" width="0.74" height="7.83" fill="#daf0f4"/>
<rect x="67.39" y="227.27" width="7.87" height="6.03" fill="#679dc4"/>
<rect x="74.56" y="227.27" width="5.36" height="6.03" fill="#5a92be"/>
<rect x="84.19" y="227.27" width="4.26" height="6.03" fill="#538cb9"/>
<rect x="95.83" y="227.27" width="2.83" height="6.03" fill="#5b93bf"/>
<rect x="108.85" y="227.27" width="1.88" height="6.03" fill="#5e95c0"/>
<rect x="122.69" y="227.27" width="1.33" height="6.03" fill="#86b5d3"/>
<rect x="136.98" y="227.27" width="1.02" height="6.03" fill="#90bdd7"/>
<rect x="151.50" y="227.27" width="0.86" height="6.03" fill="#afd3e4"/>
<rect x="166.15" y="227.27" width="0.78" height="6.03" fill="#d1eaf1"/>
<rect x="180.86" y="227.27" width="0.74" height="6.03" fill="#dbf0f4"/>
<rect x="67.39" y="236.85" width="7.87" height="4.24" fill="#6198c1"/>
<rect x="74.56" y="236.85" width="5.36" height="4.24" fill="#5d94bf"/>
<rect x="84.19" y="236.85" width="4.26" height="4.24" fill="#528bb8"/>
<rect x="95.83" y="236.85" width="2.83" height="4.24" fill="#578fbc"/>
<rect x="108.85" y="236.85" width="1.88" height="4.24" fill="#6a9fc6"/>
<rect x="122.69" y="236.85" width="1.33" height="4.24" fill="#82b2d1"/>
<rect x="136.98" y="236.85" width="1.02" height="4.24" fill="#9fc8dd"/>
<rect x="151.50" y="236.85" width="0.86" height="4.24" fill="#b4d7e6"/>
<rect x="166.15" y="236.85" width="0.78" height="4.24" fill="#d1ebf1"/>
<rect x="180.86" y="236.85" width="0.74" height="4.24" fill="#daf0f4"/>
<rect x="67.39" y="248.44" width="7.87" height="2.82" fill="#6a9fc6"/>
<rect x="74.56" y="248.44" width="5.36" height="2.82" fill="#5e95c0"/>
<rect x="84.19" y="248.44" width="4.26" height="2.82" fill="#5b93bf"/>
<rect x="95.83" y="248.44" width="2.83" height="2.82" fill="#528bb8"/>
<rect x="108.85" y="248.44" width="1.88" height="2.82" fill="#649ac3"/>
<rect x="122.69" y="248.44" width="1.33" height="2.82" fill="#81b1d1"/>
<rect x="136.98" y="248.44" width="1.02" height="2.82" fill="#90bdd7"/>
<rect x="151.50" y="248.44" width="0.86" height="2.82" fill="#afd3e3"/>
<rect x="166.15" y="248.44" width="0.78" height="2.82" fill="#d0eaf1"/>
<rect x="180.86" y="248.44" width="0.74" height="2.82" fill="#daf0f4"/>
<rect x="67.39" y="261.39" width="7.87" height="1.88" fill="#679dc4"/>
<rect x="74.56" y="261.39" width="5.36" height="1.88" fill="#699ec5"/>
<rect x="84.19" y="261.39" width="4.26" height="1.88" fill="#689dc5"/>
<rect x="95.83" y="261.39" width="2.83" height="1.88" fill="#6da1c7"/>
<rect x="108.85" y="261.39" width="1.88" height="1.88" fill="#5c94bf"/>
<rect x="122.69" y="261.39" width="1.33" height="1.88" fill="#7fafcf"/>
<rect x="136.98" y="261.39" width="1.02" height="1.88" fill="#92bed8"/>
<rect x="151.50" y="261.39" width="0.86" height="1.88" fill="#b5d7e6"/>
<rect x="166.15" y="261.39" width="0.78" height="1.88" fill="#cfeaf0"/>
<rect x="180.86" y="261.39" width="0.74" height="1.88" fill="#daf0f4"/>
<rect x="67.39" y="275.16" width="7.87" height="1.32" fill="#86b6d3"/>
<rect x="74.56" y="275.16" width="5.36" height="1.32" fill="#82b2d1"/>
<rect x="84.19" y="275.16" width="4.26" height="1.32" fill="#75a7cb"/>
<rect x="95.83" y="275.16" width="2.83" height="1.32" fill="#7daecf"/>
<rect x="108.85" y="275.16" width="1.88" height="1.32" fill="#73a6ca"/>
<rect x="122.69" y="275.16" width="1.33" height="1.32" fill="#94bfd9"/>
<rect x="136.98" y="275.16" width="1.02" height="1.32" fill="#aed2e3"/>
<rect x="151.50" y="275.16" width="0.86" height="1.32" fill="#bedeea"/>
<rect x="166.15" y="275.16" width="0.78" height="1.32" fill="#d5edf3"/>
<rect x="180.86" y="275.16" width="0.74" height="1.32" fill="#ddf1f4"/>
<rect x="67.39" y="289.37" width="7.87" height="1.02" fill="#9ec7dd"/>
<rect x="74.56" y="289.37" width="5.36" height="1.02" fill="#9ac4db"/>
<rect x="84.19" y="289.37" width="4.26" height="1.02" fill="#90bdd7"/>
<rect x="95.83" y="289.37" width="2.83" height="1.02" fill="#94bfd9"/>
<rect x="108.85" y="289.37" width="1.88" height="1.02" fill="#9ec7dd"/>
<rect x="122.69" y="289.37" width="1.33" height="1.02" fill="#acd1e2"/>
<rect x="136.98" y="289.37" width="1.02" height="1.02" fill="#bddde9"/>
<rect x="151.50" y="289.37" width="0.86" height="1.02" fill="#cce7ef"/>
<rect x="166.15" y="289.37" width="0.78" height="1.02" fill="#d9eff3"/>
<rect x="180.86" y="289.37" width="0.74" height="1.02" fill="#e0f2f4"/>
<rect x="67.39" y="303.83" width="7.87" height="0.86" fill="#b3d6e5"/>
<rect x="74.56" y="303.83" width="5.36" height="0.86" fill="#b4d7e6"/>
<rect x="84.19" y="303.83" width="4.26" height="0.86" fill="#b7d9e7"/>
<rect x="95.83" y="303.83" width="2.83" height="0.86" fill="#b1d5e5"/>
<rect x="108.85" y="303.83" width="1.88" height="0.86" fill="#b8d9e7"/>
<rect x="122.69" y="303.83" width="1.33" height="0.86" fill="#bedeea"/>
<rect x="136.98" y="303.83" width="1.02" height="0.86" fill="#cce7ef"/>
<rect x="151.50" y="303.83" width="0.86" height="0.86" fill="#d4edf2"/>
<rect x="166.15" y="303.83" width="0.78" height="0.86" fill="#def1f4"/>
<rect x="180.86" y="303.83" width="0.74" height="0.86" fill="#e2f2f4"/>
<rect x="67.39" y="318.40" width="7.87" height="0.78" fill="#cfe9f0"/>
<rect x="74.56" y="318.40" width="5.36" height="0.78" fill="#d0eaf1"/>
<rect x="84.19" y="318.40" width="4.26" height="0.78" fill="#d2ebf1"/>
<rect x="95.83" y="318.40" width="2.83" height="0.78" fill="#d0eaf1"/>
<rect x="108.85" y="318.40" width="1.88" height="0.78" fill="#d2ecf2"/>
<rect x="122.69" y="318.40" width="1.33" height="0.78" fill="#d6eef3"/>
<rect x="136.98" y="318.40" width="1.02" height="0.78" fill="#d9eff3"/>
<rect x="151.50" y="318.40" width="0.86" height="0.78" fill="#def1f4"/>
<rect x="166.15" y="318.40" width="0.78" height="0.78" fill="#e3f3f5"/>
<rect x="180.86" y="318.40" width="0.74" height="0.78" fill="#e4f3f5"/>
<rect x="67.39" y="333.03" width="7.87" height="0.74" fill="#dbf0f4"/>
<rect x="74.56" y="333.03" width="5.36" height="0.74" fill="#dbf0f4"/>
<rect x="84.19" y="333.03" width="4.26" height="0.74" fill="#daf0f4"/>
<rect x="95.83" y="333.03" width="2.83" height="0.74" fill="#dbf0f4"/>
<rect x="108.85" y="333.03" width="1.88" height="0.74" fill="#dbf0f4"/>
<rect x="122.69" y="333.03" width="1.33" height="0.74" fill="#def1f4"/>
<rect x="136.98" y="333.03" width="1.02" height="0.74" fill="#e0f2f4"/>
<rect x="151.50" y="333.03" width="0.86" height="0.74" fill="#e1f2f4"/>
<rect x="166.15" y="333.03" width="0.78" height="0.74" fill="#e4f3f5"/>
<rect x="180.86" y="333.03" width="0.74" height="0.74" fill="#e5f4f5"/>
<rect x="87.75" y="220.13" width="3.05" height="7.83" fill="#d4ecf2"/>
<rect x="97.97" y="220.13" width="1.94" height="7.83" fill="#d4edf2"/>
<rect x="110.04" y="220.13" width="1.12" height="7.83" fill="#d4ecf2"/>
<rect x="123.32" y="220.13" width="0.61" height="7.83" fill="#d7eff3"/>
<rect x="137.30" y="220.13" width="0.32" height="7.83" fill="#dcf0f4"/>
<rect x="151.67" y="220.13" width="0.16" height="7.83" fill="#dff1f4"/>
<rect x="166.23" y="220.13" width="0.08" height="7.83" fill="#e3f3f5"/>
<rect x="180.90" y="220.13" width="0.04" height="7.83" fill="#e4f3f5"/>
<rect x="67.39" y="232.59" width="7.87" height="4.25" fill="#d4edf2"/>
<rect x="74.56" y="232.59" width="5.36" height="4.25" fill="#d2ecf2"/>
<rect x="84.19" y="232.59" width="3.56" height="4.25" fill="#d1ebf1"/>
<rect x="87.75" y="227.27" width="3.05" height="5.33" fill="#d1ebf1"/>
<rect x="95.83" y="232.59" width="2.13" height="4.25" fill="#d3ecf2"/>
<rect x="97.97" y="227.27" width="1.94" height="5.33" fill="#d3ecf2"/>
<rect x="108.85" y="232.59" width="1.18" height="4.25" fill="#d3ecf2"/>
<rect x="110.04" y="227.27" width="1.12" height="5.33" fill="#d3ecf2"/>
<rect x="122.69" y="232.59" width="0.63" height="4.25" fill="#d9eff3"/>
<rect x="123.32" y="227.27" width="0.61" height="5.33" fill="#d9eff3"/>
<rect x="136.98" y="232.59" width="0.32" height="4.25" fill="#daf0f4"/>
<rect x="137.30" y="227.27" width="0.32" height="5.33" fill="#daf0f4"/>
<rect x="151.50" y="232.59" width="0.16" height="4.25" fill="#def1f4"/>
<rect x="151.67" y="227.27" width="0.16" height="5.33" fill="#def1f4"/>
<rect x="166.15" y="232.59" width="0.08" height="4.25" fill="#e3f3f5"/>
<rect x="166.23" y="227.27" width="0.08" height="5.33" fill="#e3f3f5"/>
<rect x="180.86" y="232.59" width="0.04" height="4.25" fill="#e4f3f5"/>
<rect x="180.90" y="227.27" width="0.04" height="5.33" fill="#e4f3f5"/>
<rect x="67.39" y="240.39" width="7.87" height="3.03" fill="#d4ecf2"/>
<rect x="74.56" y="240.39" width="5.36" height="3.03" fill="#d3ecf2"/>
<rect x="84.19" y="240.39" width="3.56" height="3.03" fill="#d1ebf1"/>
<rect x="87.75" y="236.85" width="3.05" height="3.54" fill="#d1ebf1"/>
<rect x="95.83" y="240.39" width="2.13" height="3.03" fill="#d2ebf1"/>
<rect x="97.97" y="236.85" width="1.94" height="3.54" fill="#d2ebf1"/>
<rect x="108.85" y="240.39" width="1.18" height="3.03" fill="#d5edf3"/>
<rect x="110.04" y="236.85" width="1.12" height="3.54" fill="#d5edf3"/>
<rect x="122.69" y="240.39" width="0.63" height="3.03" fill="#d8eff3"/>
<rect x="123.32" y="236.85" width="0.61" height="3.54" fill="#d8eff3"/>
<rect x="136.98" y="240.39" width="0.32" height="3.03" fill="#dcf0f4"/>
<rect x="137.30" y="236.85" width="0.32" height="3.54" fill="#dcf0f4"/>
<rect x="151.50" y="240.39" width="0.16" height="3.03" fill="#dff1f4"/>
<rect x="151.67" y="236.85" width="0.16" height="3.54" fill="#dff1f4"/>
<rect x="166.15" y="240.39" width="0.08" height="3.03" fill="#e3f3f5"/>
<rect x="166.23" y="236.85" width="0.08" height="3.54" fill="#e3f3f5"/>
<rect x="180.86" y="240.39" width="0.04" height="3.03" fill="#e4f3f5"/>
<rect x="180.90" y="236.85" width="0.04" height="3.54" fill="#e4f3f5"/>
<rect x="67.39" y="250.56" width="7.87" height="1.93" fill="#d5edf3"/>
<rect x="74.56" y="250.56" width="5.36" height="1.93" fill="#d3ecf2"/>
<rect x="84.19" y="250.56" width="3.56" height="1.93" fill="#d3ecf2"/>
<rect x="87.75" y="248.44" width="3.05" height="2.12" fill="#d3ecf2"/>
<rect x="95.83" y="250.56" width="2.13" height="1.93" fill="#d1ebf1"/>
<rect x="97.97" y="248.44" width="1.94" height="2.12" fill="#d1ebf1"/>
<rect x="108.85" y="250.56" width="1.18" height="1.93" fill="#d4edf2"/>
<rect x="110.04" y="248.44" width="1.12" height="2.12" fill="#d4edf2"/>
<rect x="122.69" y="250.56" width="0.63" height="1.93" fill="#d8eff3"/>
<rect x="123.32" y="248.44" width="0.61" height="2.12" fill="#d8eff3"/>
<rect x="136.98" y="250.56" width="0.32" height="1.93" fill="#daf0f4"/>
<rect x="137.30" y="248.44" width="0.32" height="2.12" fill="#daf0f4"/>
<rect x="151.50" y="250.56" width="0.16" height="1.93" fill="#def1f4"/>
<rect x="151.67" y="248.44" width="0.16" height="2.12" fill="#def1f4"/>
<rect x="166.15" y="250.56" width="0.08" height="1.93" fill="#e3f3f5"/>
<rect x="166.23" y="248.44" width="0.08" height="2.12" fill="#e3f3f5"/>
<rect x="180.86" y="250.56" width="0.04" height="1.93" fill="#e4f3f5"/>
<rect x="180.90" y="248.44" width="0.04" height="2.12" fill="#e4f3f5"/>
<rect x="67.39" y="262.57" width="7.87" height="1.12" fill="#d4edf2"/>
<rect x="74.56" y="262.57" width="5.36" height="1.12" fill="#d5edf3"/>
<rect x="84.19" y="262.57" width="3.56" height="1.12" fill="#d5edf2"/>
<rect x="87.75" y="261.39" width="3.05" height="1.18" fill="#d5edf2"/>
<rect x="95.83" y="262.57" width="2.13" height="1.12" fill="#d5eef3"/>
<rect x="97.97" y="261.39" width="1.94" height="1.18" fill="#d5eef3"/>
<rect x="108.85" y="262.57" width="1.18" height="1.12" fill="#d3ecf2"/>
<rect x="110.04" y="261.39" width="1.12" height="1.18" fill="#d3ecf2"/>
<rect x="122.69" y="262.57" width="0.63" height="1.12" fill="#d8eff3"/>
<rect x="123.32" y="261.39" width="0.61" height="1.18" fill="#d8eff3"/>
<rect x="136.98" y="262.57" width="0.32" height="1.12" fill="#dbf0f4"/>
<rect x="137.30" y="261.39" width="0.32" height="1.18" fill="#dbf0f4"/>
<rect x="151.50" y="262.57" width="0.16" height="1.12" fill="#dff1f4"/>
<rect x="151.67" y="261.39" width="0.16" height="1.18" fill="#dff1f4"/>
<rect x="166.15" y="262.57" width="0.08" height="1.12" fill="#e2f3f5"/>
<rect x="166.23" y="261.39" width="0.08" height="1.18" fill="#e2f3f5"/>
<rect x="180.86" y="262.57" width="0.04" height="1.12" fill="#e4f3f5"/>
<rect x="180.90" y="261.39" width="0.04" height="1.18" fill="#e4f3f5"/>
<rect x="67.39" y="275.78" width="7.87" height="0.61" fill="#d9eff3"/>
<rect x="74.56" y="275.78" width="5.36" height="0.61" fill="#d8eff3"/>
<rect x="84.19" y="275.78" width="3.56" height="0.61" fill="#d7eef3"/>
<rect x="87.75" y="275.16" width="3.05" height="0.62" fill="#d7eef3"/>
<rect x="95.83" y="275.78" width="2.13" height="0.61" fill="#d8eff3"/>
<rect x="97.97" y="275.16" width="1.94" height="0.62" fill="#d8eff3"/>
<rect x="108.85" y="275.78" width="1.18" height="0.61" fill="#d6eef3"/>
<rect x="110.04" y="275.16" width="1.12" height="0.62" fill="#d6eef3"/>
<rect x="122.69" y="275.78" width="0.63" height="0.61" fill="#dbf0f4"/>
<rect x="123.32" y="275.16" width="0.61" height="0.62" fill="#dbf0f4"/>
<rect x="136.98" y="275.78" width="0.32" height="0.61" fill="#def1f4"/>
<rect x="137.30" y="275.16" width="0.32" height="0.62" fill="#def1f4"/>
<rect x="151.50" y="275.78" width="0.16" height="0.61" fill="#e0f2f4"/>
<rect x="151.67" y="275.16" width="0.16" height="0.62" fill="#e0f2f4"/>
<rect x="166.15" y="275.78" width="0.08" height="0.61" fill="#e3f3f5"/>
<rect x="166.23" y="275.16" width="0.08" height="0.62" fill="#e3f3f5"/>
<rect x="180.86" y="275.78" width="0.04" height="0.61" fill="#e5f3f5"/>
<rect x="180.90" y="275.16" width="0.04" height="0.62" fill="#e5f3f5"/>
<rect x="67.39" y="289.70" width="7.87" height="0.32" fill="#dcf0f4"/>
<rect x="74.56" y="289.70" width="5.36" height="0.32" fill="#dcf0f4"/>
<rect x="84.19" y="289.70" width="3.56" height="0.32" fill="#daf0f4"/>
<rect x="87.75" y="289.37" width="3.05" height="0.32" fill="#daf0f4"/>
<rect x="95.83" y="289.70" width="2.13" height="0.32" fill="#dbf0f4"/>
<rect x="97.97" y="289.37" width="1.94" height="0.32" fill="#dbf0f4"/>
<rect x="108.85" y="289.70" width="1.18" height="0.32" fill="#dcf0f4"/>
<rect x="110.04" y="289.37" width="1.12" height="0.32" fill="#dcf0f4"/>
<rect x="122.69" y="289.70" width="0.63" height="0.32" fill="#def1f4"/>
<rect x="123.32" y="289.37" width="0.61" height="0.32" fill="#def1f4"/>
<rect x="136.98" y="289.70" width="0.32" height="0.32" fill="#e0f2f4"/>
<rect x="137.30" y="289.37" width="0.32" height="0.32" fill="#e0f2f4"/>
<rect x="151.50" y="289.70" width="0.16" height="0.32" fill="#e2f3f5"/>
<rect x="151.67" y="289.37" width="0.16" height="0.32" fill="#e2f3f5"/>
<rect x="166.15" y="289.70" width="0.08" height="0.32" fill="#e4f3f5"/>
<rect x="166.23" y="289.37" width="0.08" height="0.32" fill="#e4f3f5"/>
<rect x="180.86" y="289.70" width="0.04" height="0.32" fill="#e5f4f5"/>
<rect x="180.90" y="289.37" width="0.04" height="0.32" fill="#e5f4f5"/>
<rect x="67.39" y="303.99" width="7.87" height="0.16" fill="#dff1f4"/>
<rect x="74.56" y="303.99" width="5.36" height="0.16" fill="#dff1f4"/>
<rect x="84.19" y="303.99" width="3.56" height="0.16" fill="#dff1f4"/>
<rect x="87.75" y="303.83" width="3.05" height="0.16" fill="#dff1f4"/>
<rect x="95.83" y="303.99" width="2.13" height="0.16" fill="#def1f4"/>
<rect x="97.97" y="303.83" width="1.94" height="0.16" fill="#def1f4"/>
<rect x="108.85" y="303.99" width="1.18" height="0.16" fill="#dff1f4"/>
<rect x="110.04" y="303.83" width="1.12" height="0.16" fill="#dff1f4"/>
<rect x="122.69" y="303.99" width="0.63" height="0.16" fill="#e0f2f4"/>
<rect x="123.32" y="303.83" width="0.61" height="0.16" fill="#e0f2f4"/>
<rect x="136.98" y="303.99" width="0.32" height="0.16" fill="#e2f2f4"/>
<rect x="137.30" y="303.83" width="0.32" height="0.16" fill="#e2f2f4"/>
<rect x="151.50" y="303.99" width="0.16" height="0.16" fill="#e3f3f5"/>
<rect x="151.67" y="303.83" width="0.16" height="0.16" fill="#e3f3f5"/>
<rect x="166.15" y="303.99" width="0.08" height="0.16" fill="#e5f4f5"/>
<rect x="166.23" y="303.83" width="0.08" height="0.16" fill="#e5f4f5"/>
<rect x="180.86" y="303.99" width="0.04" height="0.16" fill="#e5f4f5"/>
<rect x="180.90" y="303.83" width="0.04" height="0.16" fill="#e5f4f5"/>
<rect x="67.39" y="318.48" width="7.87" height="0.08" fill="#e2f3f5"/>
<rect x="74.56" y="318.48" width="5.36" height="0.08" fill="#e3f3f5"/>
<rect x="84.19" y="318.48" width="3.56" height="0.08" fill="#e3f3f5"/>
<rect x="87.75" y="318.40" width="3.05" height="0.08" fill="#e3f3f5"/>
<rect x="95.83" y="318.48" width="2.13" height="0.08" fill="#e3f3f5"/>
<rect x="97.97" y="318.40" width="1.94" height="0.08" fill="#e3f3f5"/>
<rect x="108.85" y="318.48" width="1.18" height="0.08" fill="#e3f3f5"/>
<rect x="110.04" y="318.40" width="1.12" height="0.08" fill="#e3f3f5"/>
<rect x="122.69" y="318.48" width="0.63" height="0.08" fill="#e3f3f5"/>
<rect x="123.32" y="318.40" width="0.61" height="0.08" fill="#e3f3f5"/>
<rect x="136.98" y="318.48" width="0.32" height="0.08" fill="#e4f3f5"/>
<rect x="137.30" y="318.40" width="0.32" height="0.08" fill="#e4f3f5"/>
<rect x="151.50" y="318.48" width="0.16" height="0.08" fill="#e5f4f5"/>
<rect x="151.67" y="318.40" width="0.16" height="0.08" fill="#e5f4f5"/>
<rect x="166.15" y="318.48" width="0.08" height="0.08" fill="#e5f4f5"/>
<rect x="166.23" y="318.40" width="0.08" height="0.08" fill="#e5f4f5"/>
<rect x="180.86" y="318.48" width="0.04" height="0.08" fill="#e6f4f5"/>
<rect x="180.90" y="318.40" width="0.04" height="0.08" fill="#e6f4f5"/>
<rect x="67.39" y="333.08" width="7.87" height="0.04" fill="#e4f3f5"/>
<rect x="74.56" y="333.08" width="5.36" height="0.04" fill="#e4f3f5"/>
<rect x="84.19" y="333.08" width="3.56" height="0.04" fill="#e4f3f5"/>
<rect x="87.75" y="333.03" width="3.05" height="0.04" fill="#e4f3f5"/>
<rect x="95.83" y="333.08" width="2.13" height="0.04" fill="#e4f3f5"/>
<rect x="97.97" y="333.03" width="1.94" height="0.04" fill="#e4f3f5"/>
<rect x="108.85" y="333.08" width="1.18" height="0.04" fill="#e4f3f5"/>
<rect x="110.04" y="333.03" width="1.12" height="0.04" fill="#e4f3f5"/>
<rect x="122.69" y="333.08" width="0.63" height="0.04" fill="#e5f4f5"/>
<rect x="123.32" y="333.03" width="0.61" height="0.04" fill="#e5f4f5"/>
<rect x="136.98" y="333.08" width="0.32" height="0.04" fill="#e5f4f5"/>
<rect x="137.30" y="333.03" width="0.32" height="0.04" fill="#e5f4f5"/>
<rect x="151.50" y="333.08" width="0.16" height="0.04" fill="#e5f4f5"/>
<rect x="151.67" y="333.03" width="0.16" height="0.04" fill="#e5f4f5"/>
<rect x="166.15" y="333.08" width="0.08" height="0.04" fill="#e6f4f5"/>
<rect x="166.23" y="333.03" width="0.08" height="0.04" fill="#e6f4f5"/>
<rect x="180.86" y="333.08" width="0.04" height="0.04" fill="#e6f4f5"/>
<rect x="180.90" y="333.03" width="0.04" height="0.04" fill="#e6f4f5"/>
<rect x="56.50" y="209.30" width="139.10" height="138.40" fill="none" stroke="#8e8e8e" stroke-width="0.8"/>
<line x1="55.20" y1="215.40" x2="56.50" y2="215.40" stroke="#666" stroke-width="0.5"/>
<line x1="62.63" y1="347.70" x2="62.63" y2="349.00" stroke="#666" stroke-width="0.5"/>
<line x1="55.20" y1="224.00" x2="56.50" y2="224.00" stroke="#666" stroke-width="0.5"/>
<line x1="71.27" y1="347.70" x2="71.27" y2="349.00" stroke="#666" stroke-width="0.5"/>
<line x1="55.20" y1="230.10" x2="56.50" y2="230.10" stroke="#666" stroke-width="0.5"/>
<line x1="77.40" y1="347.70" x2="77.40" y2="349.00" stroke="#666" stroke-width="0.5"/>
<line x1="55.20" y1="234.83" x2="56.50" y2="234.83" stroke="#666" stroke-width="0.5"/>
<line x1="82.16" y1="347.70" x2="82.16" y2="349.00" stroke="#666" stroke-width="0.5"/>
<line x1="55.20" y1="238.69" x2="56.50" y2="238.69" stroke="#666" stroke-width="0.5"/>
<line x1="86.04" y1="347.70" x2="86.04" y2="349.00" stroke="#666" stroke-width="0.5"/>
<line x1="55.20" y1="241.96" x2="56.50" y2="241.96" stroke="#666" stroke-width="0.5"/>
<line x1="89.33" y1="347.70" x2="89.33" y2="349.00" stroke="#666" stroke-width="0.5"/>
<line x1="55.20" y1="244.79" x2="56.50" y2="244.79" stroke="#666" stroke-width="0.5"/>
<line x1="92.17" y1="347.70" x2="92.17" y2="349.00" stroke="#666" stroke-width="0.5"/>
<line x1="55.20" y1="247.29" x2="56.50" y2="247.29" stroke="#666" stroke-width="0.5"/>
<line x1="94.68" y1="347.70" x2="94.68" y2="349.00" stroke="#666" stroke-width="0.5"/>
<line x1="54.30" y1="249.52" x2="56.50" y2="249.52" stroke="#666" stroke-width="0.5"/>
<line x1="96.93" y1="347.70" x2="96.93" y2="349.90" stroke="#666" stroke-width="0.5"/>
<line x1="55.20" y1="264.22" x2="56.50" y2="264.22" stroke="#666" stroke-width="0.5"/>
<line x1="111.70" y1="347.70" x2="111.70" y2="349.00" stroke="#666" stroke-width="0.5"/>
<line x1="55.20" y1="272.82" x2="56.50" y2="272.82" stroke="#666" stroke-width="0.5"/>
<line x1="120.34" y1="347.70" x2="120.34" y2="349.00" stroke="#666" stroke-width="0.5"/>
<line x1="55.20" y1="278.92" x2="56.50" y2="278.92" stroke="#666" stroke-width="0.5"/>
<line x1="126.47" y1="347.70" x2="126.47" y2="349.00" stroke="#666" stroke-width="0.5"/>
<line x1="55.20" y1="283.65" x2="56.50" y2="283.65" stroke="#666" stroke-width="0.5"/>
<line x1="131.22" y1="347.70" x2="131.22" y2="349.00" stroke="#666" stroke-width="0.5"/>
<line x1="55.20" y1="287.51" x2="56.50" y2="287.51" stroke="#666" stroke-width="0.5"/>
<line x1="135.11" y1="347.70" x2="135.11" y2="349.00" stroke="#666" stroke-width="0.5"/>
<line x1="55.20" y1="290.78" x2="56.50" y2="290.78" stroke="#666" stroke-width="0.5"/>
<line x1="138.39" y1="347.70" x2="138.39" y2="349.00" stroke="#666" stroke-width="0.5"/>
<line x1="55.20" y1="293.61" x2="56.50" y2="293.61" stroke="#666" stroke-width="0.5"/>
<line x1="141.24" y1="347.70" x2="141.24" y2="349.00" stroke="#666" stroke-width="0.5"/>
<line x1="55.20" y1="296.11" x2="56.50" y2="296.11" stroke="#666" stroke-width="0.5"/>
<line x1="143.75" y1="347.70" x2="143.75" y2="349.00" stroke="#666" stroke-width="0.5"/>
<line x1="54.30" y1="298.35" x2="56.50" y2="298.35" stroke="#666" stroke-width="0.5"/>
<line x1="146.00" y1="347.70" x2="146.00" y2="349.90" stroke="#666" stroke-width="0.5"/>
<line x1="55.20" y1="313.04" x2="56.50" y2="313.04" stroke="#666" stroke-width="0.5"/>
<line x1="160.77" y1="347.70" x2="160.77" y2="349.00" stroke="#666" stroke-width="0.5"/>
<line x1="55.20" y1="321.64" x2="56.50" y2="321.64" stroke="#666" stroke-width="0.5"/>
<line x1="169.41" y1="347.70" x2="169.41" y2="349.00" stroke="#666" stroke-width="0.5"/>
<line x1="55.20" y1="327.74" x2="56.50" y2="327.74" stroke="#666" stroke-width="0.5"/>
<line x1="175.54" y1="347.70" x2="175.54" y2="349.00" stroke="#666" stroke-width="0.5"/>
<line x1="55.20" y1="332.47" x2="56.50" y2="332.47" stroke="#666" stroke-width="0.5"/>
<line x1="180.29" y1="347.70" x2="180.29" y2="349.00" stroke="#666" stroke-width="0.5"/>
<line x1="55.20" y1="336.34" x2="56.50" y2="336.34" stroke="#666" stroke-width="0.5"/>
<line x1="184.18" y1="347.70" x2="184.18" y2="349.00" stroke="#666" stroke-width="0.5"/>
<line x1="55.20" y1="339.60" x2="56.50" y2="339.60" stroke="#666" stroke-width="0.5"/>
<line x1="187.46" y1="347.70" x2="187.46" y2="349.00" stroke="#666" stroke-width="0.5"/>
<line x1="55.20" y1="342.43" x2="56.50" y2="342.43" stroke="#666" stroke-width="0.5"/>
<line x1="190.31" y1="347.70" x2="190.31" y2="349.00" stroke="#666" stroke-width="0.5"/>
<line x1="55.20" y1="344.93" x2="56.50" y2="344.93" stroke="#666" stroke-width="0.5"/>
<line x1="192.82" y1="347.70" x2="192.82" y2="349.00" stroke="#666" stroke-width="0.5"/>
<line x1="54.30" y1="347.17" x2="56.50" y2="347.17" stroke="#666" stroke-width="0.5"/>
<line x1="195.06" y1="347.70" x2="195.06" y2="349.90" stroke="#666" stroke-width="0.5"/>
<rect x="207.30" y="209.30" width="138.30" height="138.40" fill="#e6f4f5"/>
<rect x="218.12" y="220.13" width="7.83" height="7.83" fill="#dbf0f4"/>
<rect x="225.25" y="220.13" width="6.02" height="7.83" fill="#badbe8"/>
<rect x="234.83" y="220.13" width="3.54" height="7.83" fill="#bedde9"/>
<rect x="246.41" y="220.13" width="2.82" height="7.83" fill="#c3e1eb"/>
<rect x="259.35" y="220.13" width="1.88" height="7.83" fill="#cae6ee"/>
<rect x="273.11" y="220.13" width="1.32" height="7.83" fill="#c8e5ee"/>
<rect x="287.32" y="220.13" width="0.32" height="7.83" fill="#c5e3ed"/>
<rect x="301.76" y="220.13" width="0.16" height="7.83" fill="#cfe9f0"/>
<rect x="316.32" y="220.13" width="0.08" height="7.83" fill="#bcdce9"/>
<rect x="330.94" y="220.13" width="0.04" height="7.83" fill="#d8eff3"/>
<rect x="218.12" y="227.27" width="7.83" height="5.33" fill="#d9eff3"/>
<rect x="225.25" y="227.27" width="6.02" height="5.33" fill="#d6eef3"/>
<rect x="234.83" y="227.27" width="3.54" height="5.33" fill="#e3f3f5"/>
<rect x="246.41" y="227.27" width="2.82" height="5.33" fill="#cae6ee"/>
<rect x="259.35" y="227.27" width="1.88" height="5.33" fill="#cae6ee"/>
<rect x="273.11" y="227.27" width="1.32" height="5.33" fill="#c3e2ec"/>
<rect x="287.32" y="227.27" width="0.32" height="5.33" fill="#d0eaf1"/>
<rect x="301.76" y="227.27" width="0.16" height="5.33" fill="#cfe9f0"/>
<rect x="316.32" y="227.27" width="0.08" height="5.33" fill="#cfeaf0"/>
<rect x="330.94" y="227.27" width="0.04" height="5.33" fill="#d6eef3"/>
<rect x="218.12" y="236.85" width="7.83" height="4.24" fill="#d6eef3"/>
<rect x="225.25" y="236.85" width="6.02" height="4.24" fill="#dcf0f4"/>
<rect x="234.83" y="236.85" width="3.54" height="4.24" fill="#d1ebf1"/>
<rect x="246.41" y="236.85" width="2.82" height="4.24" fill="#badbe8"/>
<rect x="259.35" y="236.85" width="1.88" height="4.24" fill="#badbe8"/>
<rect x="273.11" y="236.85" width="1.32" height="4.24" fill="#bbdce8"/>
<rect x="287.32" y="236.85" width="0.32" height="4.24" fill="#c5e3ed"/>
<rect x="301.76" y="236.85" width="0.16" height="4.24" fill="#bddde9"/>
<rect x="316.32" y="236.85" width="0.08" height="4.24" fill="#bcdce9"/>
<rect x="330.94" y="236.85" width="0.04" height="3.54" fill="#cfe9f0"/>
<rect x="218.12" y="248.44" width="7.83" height="2.82" fill="#d2ebf1"/>
<rect x="225.25" y="248.44" width="5.32" height="2.82" fill="#d2ebf1"/>
<rect x="234.83" y="248.44" width="4.24" height="2.82" fill="#c7e4ed"/>
<rect x="246.41" y="248.44" width="2.12" height="2.82" fill="#cfeaf0"/>
<rect x="259.35" y="248.44" width="1.18" height="2.82" fill="#c9e6ee"/>
<rect x="273.11" y="248.44" width="0.62" height="2.82" fill="#d3ecf2"/>
<rect x="287.32" y="248.44" width="0.32" height="2.12" fill="#d5eef3"/>
<rect x="301.76" y="248.44" width="0.16" height="2.12" fill="#e5f4f5"/>
<rect x="316.32" y="248.44" width="0.08" height="2.12" fill="#e2f2f4"/>
<rect x="330.94" y="248.44" width="0.04" height="2.12" fill="#d2ebf2"/>
<rect x="218.12" y="261.39" width="7.83" height="1.88" fill="#cae6ee"/>
<rect x="225.25" y="261.39" width="5.32" height="1.88" fill="#cae6ee"/>
<rect x="234.83" y="261.39" width="4.24" height="1.88" fill="#cbe7ef"/>
<rect x="246.41" y="261.39" width="2.12" height="1.88" fill="#d6eef3"/>
<rect x="259.35" y="261.39" width="1.18" height="1.88" fill="#d2ecf2"/>
<rect x="273.11" y="261.39" width="0.62" height="1.88" fill="#d4edf2"/>
<rect x="287.32" y="261.39" width="0.32" height="1.18" fill="#d5edf2"/>
<rect x="301.76" y="261.39" width="0.16" height="1.18" fill="#cee9f0"/>
<rect x="316.32" y="261.39" width="0.08" height="1.18" fill="#cee9f0"/>
<rect x="330.94" y="261.39" width="0.04" height="1.18" fill="#d6eef3"/>
<rect x="218.12" y="275.16" width="7.83" height="0.62" fill="#d2ebf1"/>
<rect x="225.25" y="275.16" width="5.32" height="0.62" fill="#d2ebf1"/>
<rect x="234.83" y="275.16" width="4.24" height="0.62" fill="#dbf0f4"/>
<rect x="246.41" y="275.16" width="2.12" height="0.62" fill="#d2ebf1"/>
<rect x="259.35" y="275.16" width="1.18" height="0.62" fill="#d8eff3"/>
<rect x="273.11" y="275.16" width="0.62" height="0.62" fill="#cce7ef"/>
<rect x="287.32" y="275.16" width="0.32" height="0.62" fill="#ddf1f4"/>
<rect x="301.76" y="275.16" width="0.16" height="0.62" fill="#daeff3"/>
<rect x="316.32" y="275.16" width="0.08" height="0.62" fill="#d2ecf2"/>
<rect x="330.94" y="275.16" width="0.04" height="0.62" fill="#daf0f4"/>
<rect x="218.12" y="289.37" width="7.83" height="0.32" fill="#d4edf2"/>
<rect x="225.25" y="289.37" width="5.32" height="0.32" fill="#d6eef3"/>
<rect x="234.83" y="289.37" width="4.24" height="0.32" fill="#d4edf2"/>
<rect x="246.41" y="289.37" width="2.12" height="0.32" fill="#dbf0f4"/>
<rect x="259.35" y="289.37" width="1.18" height="0.32" fill="#d4ecf2"/>
<rect x="273.11" y="289.37" width="0.62" height="0.32" fill="#d5eef3"/>
<rect x="287.32" y="289.37" width="0.32" height="0.32" fill="#ddf1f4"/>
<rect x="301.76" y="289.37" width="0.16" height="0.32" fill="#d3ecf2"/>
<rect x="316.32" y="289.37" width="0.08" height="0.32" fill="#e4f3f5"/>
<rect x="330.94" y="289.37" width="0.04" height="0.32" fill="#d9eff3"/>
<rect x="218.12" y="303.83" width="7.83" height="0.16" fill="#e2f2f4"/>
<rect x="225.25" y="303.83" width="5.32" height="0.16" fill="#d5eef3"/>
<rect x="234.83" y="303.83" width="3.54" height="0.16" fill="#e5f4f5"/>
<rect x="246.41" y="303.83" width="2.12" height="0.16" fill="#dff2f4"/>
<rect x="259.35" y="303.83" width="1.18" height="0.16" fill="#def1f4"/>
<rect x="273.11" y="303.83" width="0.62" height="0.16" fill="#d7eef3"/>
<rect x="287.32" y="303.83" width="0.32" height="0.16" fill="#e5f4f5"/>
<rect x="301.76" y="303.83" width="0.16" height="0.16" fill="#dbf0f4"/>
<rect x="316.32" y="303.83" width="0.08" height="0.16" fill="#e1f2f4"/>
<rect x="330.94" y="303.83" width="0.04" height="0.16" fill="#dff1f4"/>
<rect x="218.12" y="318.40" width="7.83" height="0.08" fill="#dbf0f4"/>
<rect x="225.25" y="318.40" width="5.32" height="0.08" fill="#cee9f0"/>
<rect x="234.83" y="318.40" width="3.54" height="0.08" fill="#dbf0f4"/>
<rect x="246.41" y="318.40" width="2.12" height="0.08" fill="#cee9f0"/>
<rect x="259.35" y="318.40" width="1.18" height="0.08" fill="#e2f3f5"/>
<rect x="273.11" y="318.40" width="0.62" height="0.08" fill="#cfeaf0"/>
<rect x="287.32" y="318.40" width="0.32" height="0.08" fill="#ddf1f4"/>
<rect x="301.76" y="318.40" width="0.16" height="0.08" fill="#e1f2f4"/>
<rect x="316.32" y="318.40" width="0.08" height="0.08" fill="#d4edf2"/>
<rect x="330.94" y="318.40" width="0.04" height="0.08" fill="#d0eaf1"/>
<rect x="218.12" y="333.03" width="7.83" height="0.04" fill="#e6f4f5"/>
<rect x="225.25" y="333.03" width="5.32" height="0.04" fill="#e0f2f4"/>
<rect x="234.83" y="333.03" width="3.54" height="0.04" fill="#d3ecf2"/>
<rect x="246.41" y="333.03" width="2.12" height="0.04" fill="#def1f4"/>
<rect x="259.35" y="333.03" width="1.18" height="0.04" fill="#e0f2f4"/>
<rect x="273.11" y="333.03" width="0.62" height="0.04" fill="#e6f4f5"/>
<rect x="287.32" y="333.03" width="0.32" height="0.04" fill="#e5f4f5"/>
<rect x="301.76" y="333.03" width="0.16" height="0.04" fill="#d7eef3"/>
<rect x="316.32" y="333.03" width="0.08" height="0.04" fill="#cee8f0"/>
<rect x="330.94" y="333.03" width="0.04" height="0.04" fill="#cde8f0"/>
<rect x="248.53" y="220.13" width="1.93" height="7.83" fill="#cae6ee"/>
<rect x="252.22" y="220.13" width="2.33" height="7.83" fill="#cee8f0"/>
<rect x="253.85" y="220.13" width="1.51" height="7.83" fill="#cae6ee"/>
<rect x="260.53" y="220.13" width="1.12" height="7.83" fill="#c5e3ec"/>
<rect x="263.71" y="220.13" width="0.96" height="7.83" fill="#d0eaf1"/>
<rect x="273.73" y="220.13" width="0.61" height="7.83" fill="#c9e6ee"/>
<rect x="248.53" y="227.27" width="1.93" height="5.33" fill="#d2ebf1"/>
<rect x="252.22" y="227.27" width="2.33" height="5.33" fill="#cee9f0"/>
<rect x="253.85" y="227.27" width="1.51" height="5.33" fill="#cae6ee"/>
<rect x="260.53" y="227.27" width="1.12" height="5.33" fill="#bcdce9"/>
<rect x="263.71" y="227.27" width="0.96" height="5.33" fill="#c8e5ee"/>
<rect x="273.73" y="227.27" width="0.61" height="5.33" fill="#c3e1ec"/>
<rect x="248.53" y="236.85" width="1.93" height="4.24" fill="#c4e2ec"/>
<rect x="252.22" y="236.85" width="2.33" height="4.24" fill="#d3ecf2"/>
<rect x="253.85" y="236.85" width="1.51" height="4.24" fill="#bedeea"/>
<rect x="260.53" y="236.85" width="1.12" height="4.24" fill="#d0eaf1"/>
<rect x="263.71" y="236.85" width="0.96" height="4.24" fill="#cae6ef"/>
<rect x="273.73" y="236.85" width="0.61" height="4.24" fill="#c7e4ed"/>
<rect x="246.41" y="240.39" width="2.82" height="3.03" fill="#cae6ee"/>
<rect x="248.53" y="240.39" width="1.93" height="3.03" fill="#cbe7ef"/>
<rect x="252.22" y="240.39" width="2.33" height="3.03" fill="#c6e4ed"/>
<rect x="253.85" y="240.39" width="1.51" height="3.03" fill="#bddde9"/>
<rect x="259.35" y="240.39" width="1.88" height="3.03" fill="#c1e0eb"/>
<rect x="260.53" y="240.39" width="1.12" height="3.03" fill="#c7e4ed"/>
<rect x="263.71" y="240.39" width="0.96" height="3.03" fill="#cde8ef"/>
<rect x="273.11" y="240.39" width="1.32" height="3.03" fill="#cce8ef"/>
<rect x="273.73" y="240.39" width="0.61" height="3.03" fill="#c2e1eb"/>
<rect x="287.32" y="240.39" width="0.32" height="3.03" fill="#c7e4ed"/>
<rect x="301.76" y="240.39" width="0.16" height="3.03" fill="#d6eef3"/>
<rect x="316.32" y="240.39" width="0.08" height="3.03" fill="#c3e1ec"/>
<rect x="238.37" y="248.44" width="3.03" height="2.82" fill="#c6e4ed"/>
<rect x="218.12" y="250.56" width="7.83" height="1.93" fill="#cae6ee"/>
<rect x="225.25" y="250.56" width="5.32" height="1.93" fill="#cae6ee"/>
<rect x="234.83" y="250.56" width="4.24" height="1.93" fill="#d5edf2"/>
<rect x="238.37" y="250.56" width="3.03" height="1.93" fill="#c6e3ed"/>
<rect x="246.41" y="250.56" width="2.12" height="1.93" fill="#cce7ef"/>
<rect x="259.35" y="250.56" width="1.18" height="1.93" fill="#cfe9f0"/>
<rect x="273.11" y="250.56" width="0.62" height="1.93" fill="#cde8f0"/>
<rect x="238.37" y="261.39" width="3.03" height="1.88" fill="#d3ecf2"/>
<rect x="218.12" y="262.57" width="7.83" height="1.12" fill="#d2ebf1"/>
<rect x="225.25" y="262.57" width="5.32" height="1.12" fill="#d8eff3"/>
<rect x="234.83" y="262.57" width="4.24" height="1.12" fill="#daeff3"/>
<rect x="238.37" y="262.57" width="3.03" height="1.12" fill="#d5edf2"/>
<rect x="246.41" y="262.57" width="2.12" height="1.12" fill="#cce7ef"/>
<rect x="259.35" y="262.57" width="1.18" height="1.12" fill="#cae6ee"/>
<rect x="273.11" y="262.57" width="0.62" height="1.12" fill="#cce8ef"/>
<rect x="238.37" y="275.16" width="3.03" height="0.62" fill="#d0eaf1"/>
<rect x="238.37" y="289.37" width="3.03" height="0.32" fill="#c6e3ed"/>
<rect x="230.58" y="220.13" width="4.25" height="7.83" fill="#badbe8"/>
<rect x="230.58" y="227.27" width="4.25" height="5.33" fill="#b7d9e7"/>
<rect x="230.58" y="236.85" width="4.25" height="3.54" fill="#aacfe2"/>
<rect x="218.12" y="240.39" width="7.83" height="3.03" fill="#b7d9e7"/>
<rect x="225.25" y="240.39" width="5.32" height="3.03" fill="#b7d9e7"/>
<rect x="234.83" y="240.39" width="3.54" height="3.03" fill="#aacfe2"/>
<rect x="207.30" y="209.30" width="138.30" height="138.40" fill="none" stroke="#8e8e8e" stroke-width="0.8"/>
<line x1="206.00" y1="215.40" x2="207.30" y2="215.40" stroke="#666" stroke-width="0.5"/>
<line x1="213.40" y1="347.70" x2="213.40" y2="349.00" stroke="#666" stroke-width="0.5"/>
<line x1="206.00" y1="224.00" x2="207.30" y2="224.00" stroke="#666" stroke-width="0.5"/>
<line x1="221.99" y1="347.70" x2="221.99" y2="349.00" stroke="#666" stroke-width="0.5"/>
<line x1="206.00" y1="230.10" x2="207.30" y2="230.10" stroke="#666" stroke-width="0.5"/>
<line x1="228.08" y1="347.70" x2="228.08" y2="349.00" stroke="#666" stroke-width="0.5"/>
<line x1="206.00" y1="234.83" x2="207.30" y2="234.83" stroke="#666" stroke-width="0.5"/>
<line x1="232.81" y1="347.70" x2="232.81" y2="349.00" stroke="#666" stroke-width="0.5"/>
<line x1="206.00" y1="238.69" x2="207.30" y2="238.69" stroke="#666" stroke-width="0.5"/>
<line x1="236.67" y1="347.70" x2="236.67" y2="349.00" stroke="#666" stroke-width="0.5"/>
<line x1="206.00" y1="241.96" x2="207.30" y2="241.96" stroke="#666" stroke-width="0.5"/>
<line x1="239.94" y1="347.70" x2="239.94" y2="349.00" stroke="#666" stroke-width="0.5"/>
<line x1="206.00" y1="244.79" x2="207.30" y2="244.79" stroke="#666" stroke-width="0.5"/>
<line x1="242.77" y1="347.70" x2="242.77" y2="349.00" stroke="#666" stroke-width="0.5"/>
<line x1="206.00" y1="247.29" x2="207.30" y2="247.29" stroke="#666" stroke-width="0.5"/>
<line x1="245.26" y1="347.70" x2="245.26" y2="349.00" stroke="#666" stroke-width="0.5"/>
<line x1="205.10" y1="249.52" x2="207.30" y2="249.52" stroke="#666" stroke-width="0.5"/>
<line x1="247.50" y1="347.70" x2="247.50" y2="349.90" stroke="#666" stroke-width="0.5"/>
<line x1="206.00" y1="264.22" x2="207.30" y2="264.22" stroke="#666" stroke-width="0.5"/>
<line x1="262.18" y1="347.70" x2="262.18" y2="349.00" stroke="#666" stroke-width="0.5"/>
<line x1="206.00" y1="272.82" x2="207.30" y2="272.82" stroke="#666" stroke-width="0.5"/>
<line x1="270.77" y1="347.70" x2="270.77" y2="349.00" stroke="#666" stroke-width="0.5"/>
<line x1="206.00" y1="278.92" x2="207.30" y2="278.92" stroke="#666" stroke-width="0.5"/>
<line x1="276.87" y1="347.70" x2="276.87" y2="349.00" stroke="#666" stroke-width="0.5"/>
<line x1="206.00" y1="283.65" x2="207.30" y2="283.65" stroke="#666" stroke-width="0.5"/>
<line x1="281.59" y1="347.70" x2="281.59" y2="349.00" stroke="#666" stroke-width="0.5"/>
<line x1="206.00" y1="287.51" x2="207.30" y2="287.51" stroke="#666" stroke-width="0.5"/>
<line x1="285.46" y1="347.70" x2="285.46" y2="349.00" stroke="#666" stroke-width="0.5"/>
<line x1="206.00" y1="290.78" x2="207.30" y2="290.78" stroke="#666" stroke-width="0.5"/>
<line x1="288.72" y1="347.70" x2="288.72" y2="349.00" stroke="#666" stroke-width="0.5"/>
<line x1="206.00" y1="293.61" x2="207.30" y2="293.61" stroke="#666" stroke-width="0.5"/>
<line x1="291.55" y1="347.70" x2="291.55" y2="349.00" stroke="#666" stroke-width="0.5"/>
<line x1="206.00" y1="296.11" x2="207.30" y2="296.11" stroke="#666" stroke-width="0.5"/>
<line x1="294.05" y1="347.70" x2="294.05" y2="349.00" stroke="#666" stroke-width="0.5"/>
<line x1="205.10" y1="298.35" x2="207.30" y2="298.35" stroke="#666" stroke-width="0.5"/>
<line x1="296.28" y1="347.70" x2="296.28" y2="349.90" stroke="#666" stroke-width="0.5"/>
<line x1="206.00" y1="313.04" x2="207.30" y2="313.04" stroke="#666" stroke-width="0.5"/>
<line x1="310.97" y1="347.70" x2="310.97" y2="349.00" stroke="#666" stroke-width="0.5"/>
<line x1="206.00" y1="321.64" x2="207.30" y2="321.64" stroke="#666" stroke-width="0.5"/>
<line x1="319.56" y1="347.70" x2="319.56" y2="349.00" stroke="#666" stroke-width="0.5"/>
<line x1="206.00" y1="327.74" x2="207.30" y2="327.74" stroke="#666" stroke-width="0.5"/>
<line x1="325.65" y1="347.70" x2="325.65" y2="349.00" stroke="#666" stroke-width="0.5"/>
<line x1="206.00" y1="332.47" x2="207.30" y2="332.47" stroke="#666" stroke-width="0.5"/>
<line x1="330.38" y1="347.70" x2="330.38" y2="349.00" stroke="#666" stroke-width="0.5"/>
<line x1="206.00" y1="336.34" x2="207.30" y2="336.34" stroke="#666" stroke-width="0.5"/>
<line x1="334.24" y1="347.70" x2="334.24" y2="349.00" stroke="#666" stroke-width="0.5"/>
<line x1="206.00" y1="339.60" x2="207.30" y2="339.60" stroke="#666" stroke-width="0.5"/>
<line x1="337.51" y1="347.70" x2="337.51" y2="349.00" stroke="#666" stroke-width="0.5"/>
<line x1="206.00" y1="342.43" x2="207.30" y2="342.43" stroke="#666" stroke-width="0.5"/>
<line x1="340.34" y1="347.70" x2="340.34" y2="349.00" stroke="#666" stroke-width="0.5"/>
<line x1="206.00" y1="344.93" x2="207.30" y2="344.93" stroke="#666" stroke-width="0.5"/>
<line x1="342.83" y1="347.70" x2="342.83" y2="349.00" stroke="#666" stroke-width="0.5"/>
<line x1="205.10" y1="347.17" x2="207.30" y2="347.17" stroke="#666" stroke-width="0.5"/>
<line x1="345.07" y1="347.70" x2="345.07" y2="349.90" stroke="#666" stroke-width="0.5"/>
<defs><linearGradient id="cb3" x1="0" x2="1" y1="0" y2="0"><stop offset="0.000" stop-color="#f3d6a4"/><stop offset="0.025" stop-color="#f3d8a9"/><stop offset="0.050" stop-color="#f3daad"/><stop offset="0.075" stop-color="#f3dcb2"/><stop offset="0.100" stop-color="#f3deb6"/><stop offset="0.125" stop-color="#f4e0bb"/><stop offset="0.150" stop-color="#f4e2bf"/><stop offset="0.175" stop-color="#f4e4c4"/><stop offset="0.200" stop-color="#f4e6c8"/><stop offset="0.225" stop-color="#f4e8cd"/><stop offset="0.250" stop-color="#f3ead0"/><stop offset="0.275" stop-color="#f2ebd4"/><stop offset="0.300" stop-color="#f1ecd7"/><stop offset="0.325" stop-color="#f0eedb"/><stop offset="0.350" stop-color="#efefde"/><stop offset="0.375" stop-color="#eef1e2"/><stop offset="0.400" stop-color="#edf2e5"/><stop offset="0.425" stop-color="#ecf3e9"/><stop offset="0.450" stop-color="#eaf3ed"/><stop offset="0.475" stop-color="#e8f4f1"/><stop offset="0.500" stop-color="#e6f4f5"/><stop offset="0.525" stop-color="#def1f4"/><stop offset="0.550" stop-color="#d6eef3"/><stop offset="0.575" stop-color="#cde8f0"/><stop offset="0.600" stop-color="#c4e2ec"/><stop offset="0.625" stop-color="#badbe8"/><stop offset="0.650" stop-color="#b0d4e4"/><stop offset="0.675" stop-color="#a6cce0"/><stop offset="0.700" stop-color="#9cc5dc"/><stop offset="0.725" stop-color="#92bed8"/><stop offset="0.750" stop-color="#88b7d4"/><stop offset="0.775" stop-color="#7fb0d0"/><stop offset="0.800" stop-color="#76a8cb"/><stop offset="0.825" stop-color="#6ca1c7"/><stop offset="0.850" stop-color="#6399c2"/><stop offset="0.875" stop-color="#5a92be"/><stop offset="0.900" stop-color="#528bb8"/><stop offset="0.925" stop-color="#4b84b2"/><stop offset="0.950" stop-color="#437cac"/><stop offset="0.975" stop-color="#3c75a6"/><stop offset="1.000" stop-color="#346ea0"/></linearGradient></defs>
<rect x="68.80" y="195.40" width="113.80" height="7.40" fill="url(#cb3)" stroke="#707070" stroke-width="0.7"/>
<line x1="78.68" y1="193.80" x2="78.68" y2="195.40" stroke="#555" stroke-width="0.6"/>
<text x="78.68" y="190.30" font-size="6.6" fill="#3a3a3a" text-anchor="middle" >−0.1</text>
<line x1="125.70" y1="193.80" x2="125.70" y2="195.40" stroke="#555" stroke-width="0.6"/>
<text x="125.70" y="190.30" font-size="6.6" fill="#3a3a3a" text-anchor="middle" >0</text>
<line x1="172.72" y1="193.80" x2="172.72" y2="195.40" stroke="#555" stroke-width="0.6"/>
<text x="172.72" y="190.30" font-size="6.6" fill="#3a3a3a" text-anchor="middle" >0.1</text>
<text x="112.01" y="177.10" font-size="8.4" fill="#3a3a3a" textLength="27.82" lengthAdjust="spacingAndGlyphs" >Real(<tspan font-style="italic">ρ</tspan>)</text>
<defs><linearGradient id="cb4" x1="0" x2="1" y1="0" y2="0"><stop offset="0.000" stop-color="#f3d6a4"/><stop offset="0.025" stop-color="#f3d8a9"/><stop offset="0.050" stop-color="#f3daad"/><stop offset="0.075" stop-color="#f3dcb2"/><stop offset="0.100" stop-color="#f3deb6"/><stop offset="0.125" stop-color="#f4e0bb"/><stop offset="0.150" stop-color="#f4e2bf"/><stop offset="0.175" stop-color="#f4e4c4"/><stop offset="0.200" stop-color="#f4e6c8"/><stop offset="0.225" stop-color="#f4e8cd"/><stop offset="0.250" stop-color="#f3ead0"/><stop offset="0.275" stop-color="#f2ebd4"/><stop offset="0.300" stop-color="#f1ecd7"/><stop offset="0.325" stop-color="#f0eedb"/><stop offset="0.350" stop-color="#efefde"/><stop offset="0.375" stop-color="#eef1e2"/><stop offset="0.400" stop-color="#edf2e5"/><stop offset="0.425" stop-color="#ecf3e9"/><stop offset="0.450" stop-color="#eaf3ed"/><stop offset="0.475" stop-color="#e8f4f1"/><stop offset="0.500" stop-color="#e6f4f5"/><stop offset="0.525" stop-color="#def1f4"/><stop offset="0.550" stop-color="#d6eef3"/><stop offset="0.575" stop-color="#cde8f0"/><stop offset="0.600" stop-color="#c4e2ec"/><stop offset="0.625" stop-color="#badbe8"/><stop offset="0.650" stop-color="#b0d4e4"/><stop offset="0.675" stop-color="#a6cce0"/><stop offset="0.700" stop-color="#9cc5dc"/><stop offset="0.725" stop-color="#92bed8"/><stop offset="0.750" stop-color="#88b7d4"/><stop offset="0.775" stop-color="#7fb0d0"/><stop offset="0.800" stop-color="#76a8cb"/><stop offset="0.825" stop-color="#6ca1c7"/><stop offset="0.850" stop-color="#6399c2"/><stop offset="0.875" stop-color="#5a92be"/><stop offset="0.900" stop-color="#528bb8"/><stop offset="0.925" stop-color="#4b84b2"/><stop offset="0.950" stop-color="#437cac"/><stop offset="0.975" stop-color="#3c75a6"/><stop offset="1.000" stop-color="#346ea0"/></linearGradient></defs>
<rect x="219.10" y="195.30" width="114.00" height="7.30" fill="url(#cb4)" stroke="#707070" stroke-width="0.7"/>
<line x1="228.99" y1="193.70" x2="228.99" y2="195.30" stroke="#555" stroke-width="0.6"/>
<text x="228.99" y="190.30" font-size="6.6" fill="#3a3a3a" text-anchor="middle" >−0.1</text>
<line x1="276.10" y1="193.70" x2="276.10" y2="195.30" stroke="#555" stroke-width="0.6"/>
<text x="276.10" y="190.30" font-size="6.6" fill="#3a3a3a" text-anchor="middle" >0</text>
<line x1="323.21" y1="193.70" x2="323.21" y2="195.30" stroke="#555" stroke-width="0.6"/>
<text x="323.21" y="190.30" font-size="6.6" fill="#3a3a3a" text-anchor="middle" >0.1</text>
<text x="260.56" y="177.10" font-size="8.4" fill="#3a3a3a" textLength="31.40" lengthAdjust="spacingAndGlyphs" >Imag(<tspan font-style="italic">ρ</tspan>)</text>
<line x1="0.60" y1="219.62" x2="0.60" y2="226.55" stroke="#333" stroke-width="0.60"/>
<polyline points="48.90,221.27 50.90,223.09 48.90,224.91" fill="none" stroke="#333" stroke-width="0.63" stroke-linejoin="miter"/>
<text x="2.29" y="225.50" font-size="7.0" fill="#333"  stroke="#333" stroke-width="0.22">0</text>
<text x="6.96" y="225.50" font-size="7.0" fill="#333"  stroke="#333" stroke-width="0.22">0</text>
<text x="11.63" y="225.50" font-size="7.0" fill="#333"  stroke="#333" stroke-width="0.22">0</text>
<text x="16.30" y="225.50" font-size="7.0" fill="#333"  stroke="#333" stroke-width="0.22">0</text>
<text x="20.97" y="225.50" font-size="7.0" fill="#333"  stroke="#333" stroke-width="0.22">0</text>
<text x="25.64" y="225.50" font-size="7.0" fill="#333"  stroke="#333" stroke-width="0.22">0</text>
<text x="30.31" y="225.50" font-size="7.0" fill="#333"  stroke="#333" stroke-width="0.22">0</text>
<text x="34.98" y="225.50" font-size="7.0" fill="#333"  stroke="#333" stroke-width="0.22">0</text>
<text x="39.65" y="225.50" font-size="7.0" fill="#333"  stroke="#333" stroke-width="0.22">0</text>
<text transform="translate(46.27,225.50) scale(0.6,1)" x="-2.04" y="0" font-size="7.0" fill="#333" stroke="#333" stroke-width="0.22">1</text>
<g transform="translate(66.49,355.70) rotate(90)">
<line x1="0.30" y1="-5.88" x2="0.30" y2="1.05" stroke="#333" stroke-width="0.60"/>
<polyline points="48.60,-4.24 50.60,-2.42 48.60,-0.59" fill="none" stroke="#333" stroke-width="0.63" stroke-linejoin="miter"/>
<text x="1.99" y="0.00" font-size="7.0" fill="#333"  stroke="#333" stroke-width="0.22">0</text>
<text x="6.66" y="0.00" font-size="7.0" fill="#333"  stroke="#333" stroke-width="0.22">0</text>
<text x="11.33" y="0.00" font-size="7.0" fill="#333"  stroke="#333" stroke-width="0.22">0</text>
<text x="16.00" y="0.00" font-size="7.0" fill="#333"  stroke="#333" stroke-width="0.22">0</text>
<text x="20.67" y="0.00" font-size="7.0" fill="#333"  stroke="#333" stroke-width="0.22">0</text>
<text x="25.34" y="0.00" font-size="7.0" fill="#333"  stroke="#333" stroke-width="0.22">0</text>
<text x="30.01" y="0.00" font-size="7.0" fill="#333"  stroke="#333" stroke-width="0.22">0</text>
<text x="34.68" y="0.00" font-size="7.0" fill="#333"  stroke="#333" stroke-width="0.22">0</text>
<text x="39.35" y="0.00" font-size="7.0" fill="#333"  stroke="#333" stroke-width="0.22">0</text>
<text transform="translate(45.97,0.00) scale(0.6,1)" x="-2.04" y="0" font-size="7.0" fill="#333" stroke="#333" stroke-width="0.22">1</text>
</g>
<g transform="translate(217.29,355.70) rotate(90)">
<line x1="0.30" y1="-5.88" x2="0.30" y2="1.05" stroke="#333" stroke-width="0.60"/>
<polyline points="48.60,-4.24 50.60,-2.42 48.60,-0.59" fill="none" stroke="#333" stroke-width="0.63" stroke-linejoin="miter"/>
<text x="1.99" y="0.00" font-size="7.0" fill="#333"  stroke="#333" stroke-width="0.22">0</text>
<text x="6.66" y="0.00" font-size="7.0" fill="#333"  stroke="#333" stroke-width="0.22">0</text>
<text x="11.33" y="0.00" font-size="7.0" fill="#333"  stroke="#333" stroke-width="0.22">0</text>
<text x="16.00" y="0.00" font-size="7.0" fill="#333"  stroke="#333" stroke-width="0.22">0</text>
<text x="20.67" y="0.00" font-size="7.0" fill="#333"  stroke="#333" stroke-width="0.22">0</text>
<text x="25.34" y="0.00" font-size="7.0" fill="#333"  stroke="#333" stroke-width="0.22">0</text>
<text x="30.01" y="0.00" font-size="7.0" fill="#333"  stroke="#333" stroke-width="0.22">0</text>
<text x="34.68" y="0.00" font-size="7.0" fill="#333"  stroke="#333" stroke-width="0.22">0</text>
<text x="39.35" y="0.00" font-size="7.0" fill="#333"  stroke="#333" stroke-width="0.22">0</text>
<text transform="translate(45.97,0.00) scale(0.6,1)" x="-2.04" y="0" font-size="7.0" fill="#333" stroke="#333" stroke-width="0.22">1</text>
</g>
<line x1="0.60" y1="226.32" x2="0.60" y2="233.25" stroke="#333" stroke-width="0.60"/>
<polyline points="48.90,227.97 50.90,229.78 48.90,231.60" fill="none" stroke="#333" stroke-width="0.63" stroke-linejoin="miter"/>
<text x="2.29" y="232.20" font-size="7.0" fill="#333"  stroke="#333" stroke-width="0.22">0</text>
<text x="6.96" y="232.20" font-size="7.0" fill="#333"  stroke="#333" stroke-width="0.22">0</text>
<text x="11.63" y="232.20" font-size="7.0" fill="#333"  stroke="#333" stroke-width="0.22">0</text>
<text x="16.30" y="232.20" font-size="7.0" fill="#333"  stroke="#333" stroke-width="0.22">0</text>
<text x="20.97" y="232.20" font-size="7.0" fill="#333"  stroke="#333" stroke-width="0.22">0</text>
<text x="25.64" y="232.20" font-size="7.0" fill="#333"  stroke="#333" stroke-width="0.22">0</text>
<text x="30.31" y="232.20" font-size="7.0" fill="#333"  stroke="#333" stroke-width="0.22">0</text>
<text x="34.98" y="232.20" font-size="7.0" fill="#333"  stroke="#333" stroke-width="0.22">0</text>
<text transform="translate(41.60,232.20) scale(0.6,1)" x="-2.04" y="0" font-size="7.0" fill="#333" stroke="#333" stroke-width="0.22">1</text>
<text x="44.32" y="232.20" font-size="7.0" fill="#333"  stroke="#333" stroke-width="0.22">0</text>
<g transform="translate(73.99,355.70) rotate(90)">
<line x1="0.30" y1="-5.88" x2="0.30" y2="1.05" stroke="#333" stroke-width="0.60"/>
<polyline points="48.60,-4.24 50.60,-2.42 48.60,-0.59" fill="none" stroke="#333" stroke-width="0.63" stroke-linejoin="miter"/>
<text x="1.99" y="0.00" font-size="7.0" fill="#333"  stroke="#333" stroke-width="0.22">0</text>
<text x="6.66" y="0.00" font-size="7.0" fill="#333"  stroke="#333" stroke-width="0.22">0</text>
<text x="11.33" y="0.00" font-size="7.0" fill="#333"  stroke="#333" stroke-width="0.22">0</text>
<text x="16.00" y="0.00" font-size="7.0" fill="#333"  stroke="#333" stroke-width="0.22">0</text>
<text x="20.67" y="0.00" font-size="7.0" fill="#333"  stroke="#333" stroke-width="0.22">0</text>
<text x="25.34" y="0.00" font-size="7.0" fill="#333"  stroke="#333" stroke-width="0.22">0</text>
<text x="30.01" y="0.00" font-size="7.0" fill="#333"  stroke="#333" stroke-width="0.22">0</text>
<text x="34.68" y="0.00" font-size="7.0" fill="#333"  stroke="#333" stroke-width="0.22">0</text>
<text transform="translate(41.30,0.00) scale(0.6,1)" x="-2.04" y="0" font-size="7.0" fill="#333" stroke="#333" stroke-width="0.22">1</text>
<text x="44.02" y="0.00" font-size="7.0" fill="#333"  stroke="#333" stroke-width="0.22">0</text>
</g>
<g transform="translate(224.79,355.70) rotate(90)">
<line x1="0.30" y1="-5.88" x2="0.30" y2="1.05" stroke="#333" stroke-width="0.60"/>
<polyline points="48.60,-4.24 50.60,-2.42 48.60,-0.59" fill="none" stroke="#333" stroke-width="0.63" stroke-linejoin="miter"/>
<text x="1.99" y="0.00" font-size="7.0" fill="#333"  stroke="#333" stroke-width="0.22">0</text>
<text x="6.66" y="0.00" font-size="7.0" fill="#333"  stroke="#333" stroke-width="0.22">0</text>
<text x="11.33" y="0.00" font-size="7.0" fill="#333"  stroke="#333" stroke-width="0.22">0</text>
<text x="16.00" y="0.00" font-size="7.0" fill="#333"  stroke="#333" stroke-width="0.22">0</text>
<text x="20.67" y="0.00" font-size="7.0" fill="#333"  stroke="#333" stroke-width="0.22">0</text>
<text x="25.34" y="0.00" font-size="7.0" fill="#333"  stroke="#333" stroke-width="0.22">0</text>
<text x="30.01" y="0.00" font-size="7.0" fill="#333"  stroke="#333" stroke-width="0.22">0</text>
<text x="34.68" y="0.00" font-size="7.0" fill="#333"  stroke="#333" stroke-width="0.22">0</text>
<text transform="translate(41.30,0.00) scale(0.6,1)" x="-2.04" y="0" font-size="7.0" fill="#333" stroke="#333" stroke-width="0.22">1</text>
<text x="44.02" y="0.00" font-size="7.0" fill="#333"  stroke="#333" stroke-width="0.22">0</text>
</g>
<line x1="0.60" y1="235.02" x2="0.60" y2="241.95" stroke="#333" stroke-width="0.60"/>
<polyline points="48.90,236.67 50.90,238.49 48.90,240.31" fill="none" stroke="#333" stroke-width="0.63" stroke-linejoin="miter"/>
<text x="2.29" y="240.90" font-size="7.0" fill="#333"  stroke="#333" stroke-width="0.22">0</text>
<text x="6.96" y="240.90" font-size="7.0" fill="#333"  stroke="#333" stroke-width="0.22">0</text>
<text x="11.63" y="240.90" font-size="7.0" fill="#333"  stroke="#333" stroke-width="0.22">0</text>
<text x="16.30" y="240.90" font-size="7.0" fill="#333"  stroke="#333" stroke-width="0.22">0</text>
<text x="20.97" y="240.90" font-size="7.0" fill="#333"  stroke="#333" stroke-width="0.22">0</text>
<text x="25.64" y="240.90" font-size="7.0" fill="#333"  stroke="#333" stroke-width="0.22">0</text>
<text x="30.31" y="240.90" font-size="7.0" fill="#333"  stroke="#333" stroke-width="0.22">0</text>
<text transform="translate(36.93,240.90) scale(0.6,1)" x="-2.04" y="0" font-size="7.0" fill="#333" stroke="#333" stroke-width="0.22">1</text>
<text x="39.65" y="240.90" font-size="7.0" fill="#333"  stroke="#333" stroke-width="0.22">0</text>
<text x="44.32" y="240.90" font-size="7.0" fill="#333"  stroke="#333" stroke-width="0.22">0</text>
<g transform="translate(81.49,355.70) rotate(90)">
<line x1="0.30" y1="-5.88" x2="0.30" y2="1.05" stroke="#333" stroke-width="0.60"/>
<polyline points="48.60,-4.24 50.60,-2.42 48.60,-0.59" fill="none" stroke="#333" stroke-width="0.63" stroke-linejoin="miter"/>
<text x="1.99" y="0.00" font-size="7.0" fill="#333"  stroke="#333" stroke-width="0.22">0</text>
<text x="6.66" y="0.00" font-size="7.0" fill="#333"  stroke="#333" stroke-width="0.22">0</text>
<text x="11.33" y="0.00" font-size="7.0" fill="#333"  stroke="#333" stroke-width="0.22">0</text>
<text x="16.00" y="0.00" font-size="7.0" fill="#333"  stroke="#333" stroke-width="0.22">0</text>
<text x="20.67" y="0.00" font-size="7.0" fill="#333"  stroke="#333" stroke-width="0.22">0</text>
<text x="25.34" y="0.00" font-size="7.0" fill="#333"  stroke="#333" stroke-width="0.22">0</text>
<text x="30.01" y="0.00" font-size="7.0" fill="#333"  stroke="#333" stroke-width="0.22">0</text>
<text transform="translate(36.63,0.00) scale(0.6,1)" x="-2.04" y="0" font-size="7.0" fill="#333" stroke="#333" stroke-width="0.22">1</text>
<text x="39.35" y="0.00" font-size="7.0" fill="#333"  stroke="#333" stroke-width="0.22">0</text>
<text x="44.02" y="0.00" font-size="7.0" fill="#333"  stroke="#333" stroke-width="0.22">0</text>
</g>
<g transform="translate(232.29,355.70) rotate(90)">
<line x1="0.30" y1="-5.88" x2="0.30" y2="1.05" stroke="#333" stroke-width="0.60"/>
<polyline points="48.60,-4.24 50.60,-2.42 48.60,-0.59" fill="none" stroke="#333" stroke-width="0.63" stroke-linejoin="miter"/>
<text x="1.99" y="0.00" font-size="7.0" fill="#333"  stroke="#333" stroke-width="0.22">0</text>
<text x="6.66" y="0.00" font-size="7.0" fill="#333"  stroke="#333" stroke-width="0.22">0</text>
<text x="11.33" y="0.00" font-size="7.0" fill="#333"  stroke="#333" stroke-width="0.22">0</text>
<text x="16.00" y="0.00" font-size="7.0" fill="#333"  stroke="#333" stroke-width="0.22">0</text>
<text x="20.67" y="0.00" font-size="7.0" fill="#333"  stroke="#333" stroke-width="0.22">0</text>
<text x="25.34" y="0.00" font-size="7.0" fill="#333"  stroke="#333" stroke-width="0.22">0</text>
<text x="30.01" y="0.00" font-size="7.0" fill="#333"  stroke="#333" stroke-width="0.22">0</text>
<text transform="translate(36.63,0.00) scale(0.6,1)" x="-2.04" y="0" font-size="7.0" fill="#333" stroke="#333" stroke-width="0.22">1</text>
<text x="39.35" y="0.00" font-size="7.0" fill="#333"  stroke="#333" stroke-width="0.22">0</text>
<text x="44.02" y="0.00" font-size="7.0" fill="#333"  stroke="#333" stroke-width="0.22">0</text>
</g>
<line x1="0.60" y1="245.72" x2="0.60" y2="252.65" stroke="#333" stroke-width="0.60"/>
<polyline points="48.90,247.37 50.90,249.19 48.90,251.00" fill="none" stroke="#333" stroke-width="0.63" stroke-linejoin="miter"/>
<text x="2.29" y="251.60" font-size="7.0" fill="#333"  stroke="#333" stroke-width="0.22">0</text>
<text x="6.96" y="251.60" font-size="7.0" fill="#333"  stroke="#333" stroke-width="0.22">0</text>
<text x="11.63" y="251.60" font-size="7.0" fill="#333"  stroke="#333" stroke-width="0.22">0</text>
<text x="16.30" y="251.60" font-size="7.0" fill="#333"  stroke="#333" stroke-width="0.22">0</text>
<text x="20.97" y="251.60" font-size="7.0" fill="#333"  stroke="#333" stroke-width="0.22">0</text>
<text x="25.64" y="251.60" font-size="7.0" fill="#333"  stroke="#333" stroke-width="0.22">0</text>
<text transform="translate(32.26,251.60) scale(0.6,1)" x="-2.04" y="0" font-size="7.0" fill="#333" stroke="#333" stroke-width="0.22">1</text>
<text x="34.98" y="251.60" font-size="7.0" fill="#333"  stroke="#333" stroke-width="0.22">0</text>
<text x="39.65" y="251.60" font-size="7.0" fill="#333"  stroke="#333" stroke-width="0.22">0</text>
<text x="44.32" y="251.60" font-size="7.0" fill="#333"  stroke="#333" stroke-width="0.22">0</text>
<g transform="translate(92.79,355.70) rotate(90)">
<line x1="0.30" y1="-5.88" x2="0.30" y2="1.05" stroke="#333" stroke-width="0.60"/>
<polyline points="48.60,-4.24 50.60,-2.42 48.60,-0.59" fill="none" stroke="#333" stroke-width="0.63" stroke-linejoin="miter"/>
<text x="1.99" y="0.00" font-size="7.0" fill="#333"  stroke="#333" stroke-width="0.22">0</text>
<text x="6.66" y="0.00" font-size="7.0" fill="#333"  stroke="#333" stroke-width="0.22">0</text>
<text x="11.33" y="0.00" font-size="7.0" fill="#333"  stroke="#333" stroke-width="0.22">0</text>
<text x="16.00" y="0.00" font-size="7.0" fill="#333"  stroke="#333" stroke-width="0.22">0</text>
<text x="20.67" y="0.00" font-size="7.0" fill="#333"  stroke="#333" stroke-width="0.22">0</text>
<text x="25.34" y="0.00" font-size="7.0" fill="#333"  stroke="#333" stroke-width="0.22">0</text>
<text transform="translate(31.96,0.00) scale(0.6,1)" x="-2.04" y="0" font-size="7.0" fill="#333" stroke="#333" stroke-width="0.22">1</text>
<text x="34.68" y="0.00" font-size="7.0" fill="#333"  stroke="#333" stroke-width="0.22">0</text>
<text x="39.35" y="0.00" font-size="7.0" fill="#333"  stroke="#333" stroke-width="0.22">0</text>
<text x="44.02" y="0.00" font-size="7.0" fill="#333"  stroke="#333" stroke-width="0.22">0</text>
</g>
<g transform="translate(243.59,355.70) rotate(90)">
<line x1="0.30" y1="-5.88" x2="0.30" y2="1.05" stroke="#333" stroke-width="0.60"/>
<polyline points="48.60,-4.24 50.60,-2.42 48.60,-0.59" fill="none" stroke="#333" stroke-width="0.63" stroke-linejoin="miter"/>
<text x="1.99" y="0.00" font-size="7.0" fill="#333"  stroke="#333" stroke-width="0.22">0</text>
<text x="6.66" y="0.00" font-size="7.0" fill="#333"  stroke="#333" stroke-width="0.22">0</text>
<text x="11.33" y="0.00" font-size="7.0" fill="#333"  stroke="#333" stroke-width="0.22">0</text>
<text x="16.00" y="0.00" font-size="7.0" fill="#333"  stroke="#333" stroke-width="0.22">0</text>
<text x="20.67" y="0.00" font-size="7.0" fill="#333"  stroke="#333" stroke-width="0.22">0</text>
<text x="25.34" y="0.00" font-size="7.0" fill="#333"  stroke="#333" stroke-width="0.22">0</text>
<text transform="translate(31.96,0.00) scale(0.6,1)" x="-2.04" y="0" font-size="7.0" fill="#333" stroke="#333" stroke-width="0.22">1</text>
<text x="34.68" y="0.00" font-size="7.0" fill="#333"  stroke="#333" stroke-width="0.22">0</text>
<text x="39.35" y="0.00" font-size="7.0" fill="#333"  stroke="#333" stroke-width="0.22">0</text>
<text x="44.02" y="0.00" font-size="7.0" fill="#333"  stroke="#333" stroke-width="0.22">0</text>
</g>
<line x1="0.60" y1="258.62" x2="0.60" y2="265.55" stroke="#333" stroke-width="0.60"/>
<polyline points="48.90,260.26 50.90,262.08 48.90,263.90" fill="none" stroke="#333" stroke-width="0.63" stroke-linejoin="miter"/>
<text x="2.29" y="264.50" font-size="7.0" fill="#333"  stroke="#333" stroke-width="0.22">0</text>
<text x="6.96" y="264.50" font-size="7.0" fill="#333"  stroke="#333" stroke-width="0.22">0</text>
<text x="11.63" y="264.50" font-size="7.0" fill="#333"  stroke="#333" stroke-width="0.22">0</text>
<text x="16.30" y="264.50" font-size="7.0" fill="#333"  stroke="#333" stroke-width="0.22">0</text>
<text x="20.97" y="264.50" font-size="7.0" fill="#333"  stroke="#333" stroke-width="0.22">0</text>
<text transform="translate(27.59,264.50) scale(0.6,1)" x="-2.04" y="0" font-size="7.0" fill="#333" stroke="#333" stroke-width="0.22">1</text>
<text x="30.31" y="264.50" font-size="7.0" fill="#333"  stroke="#333" stroke-width="0.22">0</text>
<text x="34.98" y="264.50" font-size="7.0" fill="#333"  stroke="#333" stroke-width="0.22">0</text>
<text x="39.65" y="264.50" font-size="7.0" fill="#333"  stroke="#333" stroke-width="0.22">0</text>
<text x="44.32" y="264.50" font-size="7.0" fill="#333"  stroke="#333" stroke-width="0.22">0</text>
<g transform="translate(106.49,355.70) rotate(90)">
<line x1="0.30" y1="-5.88" x2="0.30" y2="1.05" stroke="#333" stroke-width="0.60"/>
<polyline points="48.60,-4.24 50.60,-2.42 48.60,-0.59" fill="none" stroke="#333" stroke-width="0.63" stroke-linejoin="miter"/>
<text x="1.99" y="0.00" font-size="7.0" fill="#333"  stroke="#333" stroke-width="0.22">0</text>
<text x="6.66" y="0.00" font-size="7.0" fill="#333"  stroke="#333" stroke-width="0.22">0</text>
<text x="11.33" y="0.00" font-size="7.0" fill="#333"  stroke="#333" stroke-width="0.22">0</text>
<text x="16.00" y="0.00" font-size="7.0" fill="#333"  stroke="#333" stroke-width="0.22">0</text>
<text x="20.67" y="0.00" font-size="7.0" fill="#333"  stroke="#333" stroke-width="0.22">0</text>
<text transform="translate(27.29,0.00) scale(0.6,1)" x="-2.04" y="0" font-size="7.0" fill="#333" stroke="#333" stroke-width="0.22">1</text>
<text x="30.01" y="0.00" font-size="7.0" fill="#333"  stroke="#333" stroke-width="0.22">0</text>
<text x="34.68" y="0.00" font-size="7.0" fill="#333"  stroke="#333" stroke-width="0.22">0</text>
<text x="39.35" y="0.00" font-size="7.0" fill="#333"  stroke="#333" stroke-width="0.22">0</text>
<text x="44.02" y="0.00" font-size="7.0" fill="#333"  stroke="#333" stroke-width="0.22">0</text>
</g>
<g transform="translate(257.29,355.70) rotate(90)">
<line x1="0.30" y1="-5.88" x2="0.30" y2="1.05" stroke="#333" stroke-width="0.60"/>
<polyline points="48.60,-4.24 50.60,-2.42 48.60,-0.59" fill="none" stroke="#333" stroke-width="0.63" stroke-linejoin="miter"/>
<text x="1.99" y="0.00" font-size="7.0" fill="#333"  stroke="#333" stroke-width="0.22">0</text>
<text x="6.66" y="0.00" font-size="7.0" fill="#333"  stroke="#333" stroke-width="0.22">0</text>
<text x="11.33" y="0.00" font-size="7.0" fill="#333"  stroke="#333" stroke-width="0.22">0</text>
<text x="16.00" y="0.00" font-size="7.0" fill="#333"  stroke="#333" stroke-width="0.22">0</text>
<text x="20.67" y="0.00" font-size="7.0" fill="#333"  stroke="#333" stroke-width="0.22">0</text>
<text transform="translate(27.29,0.00) scale(0.6,1)" x="-2.04" y="0" font-size="7.0" fill="#333" stroke="#333" stroke-width="0.22">1</text>
<text x="30.01" y="0.00" font-size="7.0" fill="#333"  stroke="#333" stroke-width="0.22">0</text>
<text x="34.68" y="0.00" font-size="7.0" fill="#333"  stroke="#333" stroke-width="0.22">0</text>
<text x="39.35" y="0.00" font-size="7.0" fill="#333"  stroke="#333" stroke-width="0.22">0</text>
<text x="44.02" y="0.00" font-size="7.0" fill="#333"  stroke="#333" stroke-width="0.22">0</text>
</g>
<line x1="0.60" y1="272.92" x2="0.60" y2="279.85" stroke="#333" stroke-width="0.60"/>
<polyline points="48.90,274.56 50.90,276.38 48.90,278.20" fill="none" stroke="#333" stroke-width="0.63" stroke-linejoin="miter"/>
<text x="2.29" y="278.80" font-size="7.0" fill="#333"  stroke="#333" stroke-width="0.22">0</text>
<text x="6.96" y="278.80" font-size="7.0" fill="#333"  stroke="#333" stroke-width="0.22">0</text>
<text x="11.63" y="278.80" font-size="7.0" fill="#333"  stroke="#333" stroke-width="0.22">0</text>
<text x="16.30" y="278.80" font-size="7.0" fill="#333"  stroke="#333" stroke-width="0.22">0</text>
<text transform="translate(22.91,278.80) scale(0.6,1)" x="-2.04" y="0" font-size="7.0" fill="#333" stroke="#333" stroke-width="0.22">1</text>
<text x="25.64" y="278.80" font-size="7.0" fill="#333"  stroke="#333" stroke-width="0.22">0</text>
<text x="30.31" y="278.80" font-size="7.0" fill="#333"  stroke="#333" stroke-width="0.22">0</text>
<text x="34.98" y="278.80" font-size="7.0" fill="#333"  stroke="#333" stroke-width="0.22">0</text>
<text x="39.65" y="278.80" font-size="7.0" fill="#333"  stroke="#333" stroke-width="0.22">0</text>
<text x="44.32" y="278.80" font-size="7.0" fill="#333"  stroke="#333" stroke-width="0.22">0</text>
<g transform="translate(119.49,355.70) rotate(90)">
<line x1="0.30" y1="-5.88" x2="0.30" y2="1.05" stroke="#333" stroke-width="0.60"/>
<polyline points="48.60,-4.24 50.60,-2.42 48.60,-0.59" fill="none" stroke="#333" stroke-width="0.63" stroke-linejoin="miter"/>
<text x="1.99" y="0.00" font-size="7.0" fill="#333"  stroke="#333" stroke-width="0.22">0</text>
<text x="6.66" y="0.00" font-size="7.0" fill="#333"  stroke="#333" stroke-width="0.22">0</text>
<text x="11.33" y="0.00" font-size="7.0" fill="#333"  stroke="#333" stroke-width="0.22">0</text>
<text x="16.00" y="0.00" font-size="7.0" fill="#333"  stroke="#333" stroke-width="0.22">0</text>
<text transform="translate(22.62,0.00) scale(0.6,1)" x="-2.04" y="0" font-size="7.0" fill="#333" stroke="#333" stroke-width="0.22">1</text>
<text x="25.34" y="0.00" font-size="7.0" fill="#333"  stroke="#333" stroke-width="0.22">0</text>
<text x="30.01" y="0.00" font-size="7.0" fill="#333"  stroke="#333" stroke-width="0.22">0</text>
<text x="34.68" y="0.00" font-size="7.0" fill="#333"  stroke="#333" stroke-width="0.22">0</text>
<text x="39.35" y="0.00" font-size="7.0" fill="#333"  stroke="#333" stroke-width="0.22">0</text>
<text x="44.02" y="0.00" font-size="7.0" fill="#333"  stroke="#333" stroke-width="0.22">0</text>
</g>
<g transform="translate(270.29,355.70) rotate(90)">
<line x1="0.30" y1="-5.88" x2="0.30" y2="1.05" stroke="#333" stroke-width="0.60"/>
<polyline points="48.60,-4.24 50.60,-2.42 48.60,-0.59" fill="none" stroke="#333" stroke-width="0.63" stroke-linejoin="miter"/>
<text x="1.99" y="0.00" font-size="7.0" fill="#333"  stroke="#333" stroke-width="0.22">0</text>
<text x="6.66" y="0.00" font-size="7.0" fill="#333"  stroke="#333" stroke-width="0.22">0</text>
<text x="11.33" y="0.00" font-size="7.0" fill="#333"  stroke="#333" stroke-width="0.22">0</text>
<text x="16.00" y="0.00" font-size="7.0" fill="#333"  stroke="#333" stroke-width="0.22">0</text>
<text transform="translate(22.62,0.00) scale(0.6,1)" x="-2.04" y="0" font-size="7.0" fill="#333" stroke="#333" stroke-width="0.22">1</text>
<text x="25.34" y="0.00" font-size="7.0" fill="#333"  stroke="#333" stroke-width="0.22">0</text>
<text x="30.01" y="0.00" font-size="7.0" fill="#333"  stroke="#333" stroke-width="0.22">0</text>
<text x="34.68" y="0.00" font-size="7.0" fill="#333"  stroke="#333" stroke-width="0.22">0</text>
<text x="39.35" y="0.00" font-size="7.0" fill="#333"  stroke="#333" stroke-width="0.22">0</text>
<text x="44.02" y="0.00" font-size="7.0" fill="#333"  stroke="#333" stroke-width="0.22">0</text>
</g>
<line x1="0.60" y1="286.02" x2="0.60" y2="292.95" stroke="#333" stroke-width="0.60"/>
<polyline points="48.90,287.66 50.90,289.48 48.90,291.30" fill="none" stroke="#333" stroke-width="0.63" stroke-linejoin="miter"/>
<text x="2.29" y="291.90" font-size="7.0" fill="#333"  stroke="#333" stroke-width="0.22">0</text>
<text x="6.96" y="291.90" font-size="7.0" fill="#333"  stroke="#333" stroke-width="0.22">0</text>
<text x="11.63" y="291.90" font-size="7.0" fill="#333"  stroke="#333" stroke-width="0.22">0</text>
<text transform="translate(18.25,291.90) scale(0.6,1)" x="-2.04" y="0" font-size="7.0" fill="#333" stroke="#333" stroke-width="0.22">1</text>
<text x="20.97" y="291.90" font-size="7.0" fill="#333"  stroke="#333" stroke-width="0.22">0</text>
<text x="25.64" y="291.90" font-size="7.0" fill="#333"  stroke="#333" stroke-width="0.22">0</text>
<text x="30.31" y="291.90" font-size="7.0" fill="#333"  stroke="#333" stroke-width="0.22">0</text>
<text x="34.98" y="291.90" font-size="7.0" fill="#333"  stroke="#333" stroke-width="0.22">0</text>
<text x="39.65" y="291.90" font-size="7.0" fill="#333"  stroke="#333" stroke-width="0.22">0</text>
<text x="44.32" y="291.90" font-size="7.0" fill="#333"  stroke="#333" stroke-width="0.22">0</text>
<g transform="translate(134.49,355.70) rotate(90)">
<line x1="0.30" y1="-5.88" x2="0.30" y2="1.05" stroke="#333" stroke-width="0.60"/>
<polyline points="48.60,-4.24 50.60,-2.42 48.60,-0.59" fill="none" stroke="#333" stroke-width="0.63" stroke-linejoin="miter"/>
<text x="1.99" y="0.00" font-size="7.0" fill="#333"  stroke="#333" stroke-width="0.22">0</text>
<text x="6.66" y="0.00" font-size="7.0" fill="#333"  stroke="#333" stroke-width="0.22">0</text>
<text x="11.33" y="0.00" font-size="7.0" fill="#333"  stroke="#333" stroke-width="0.22">0</text>
<text transform="translate(17.95,0.00) scale(0.6,1)" x="-2.04" y="0" font-size="7.0" fill="#333" stroke="#333" stroke-width="0.22">1</text>
<text x="20.67" y="0.00" font-size="7.0" fill="#333"  stroke="#333" stroke-width="0.22">0</text>
<text x="25.34" y="0.00" font-size="7.0" fill="#333"  stroke="#333" stroke-width="0.22">0</text>
<text x="30.01" y="0.00" font-size="7.0" fill="#333"  stroke="#333" stroke-width="0.22">0</text>
<text x="34.68" y="0.00" font-size="7.0" fill="#333"  stroke="#333" stroke-width="0.22">0</text>
<text x="39.35" y="0.00" font-size="7.0" fill="#333"  stroke="#333" stroke-width="0.22">0</text>
<text x="44.02" y="0.00" font-size="7.0" fill="#333"  stroke="#333" stroke-width="0.22">0</text>
</g>
<g transform="translate(285.29,355.70) rotate(90)">
<line x1="0.30" y1="-5.88" x2="0.30" y2="1.05" stroke="#333" stroke-width="0.60"/>
<polyline points="48.60,-4.24 50.60,-2.42 48.60,-0.59" fill="none" stroke="#333" stroke-width="0.63" stroke-linejoin="miter"/>
<text x="1.99" y="0.00" font-size="7.0" fill="#333"  stroke="#333" stroke-width="0.22">0</text>
<text x="6.66" y="0.00" font-size="7.0" fill="#333"  stroke="#333" stroke-width="0.22">0</text>
<text x="11.33" y="0.00" font-size="7.0" fill="#333"  stroke="#333" stroke-width="0.22">0</text>
<text transform="translate(17.95,0.00) scale(0.6,1)" x="-2.04" y="0" font-size="7.0" fill="#333" stroke="#333" stroke-width="0.22">1</text>
<text x="20.67" y="0.00" font-size="7.0" fill="#333"  stroke="#333" stroke-width="0.22">0</text>
<text x="25.34" y="0.00" font-size="7.0" fill="#333"  stroke="#333" stroke-width="0.22">0</text>
<text x="30.01" y="0.00" font-size="7.0" fill="#333"  stroke="#333" stroke-width="0.22">0</text>
<text x="34.68" y="0.00" font-size="7.0" fill="#333"  stroke="#333" stroke-width="0.22">0</text>
<text x="39.35" y="0.00" font-size="7.0" fill="#333"  stroke="#333" stroke-width="0.22">0</text>
<text x="44.02" y="0.00" font-size="7.0" fill="#333"  stroke="#333" stroke-width="0.22">0</text>
</g>
<line x1="0.60" y1="301.12" x2="0.60" y2="308.05" stroke="#333" stroke-width="0.60"/>
<polyline points="48.90,302.76 50.90,304.58 48.90,306.40" fill="none" stroke="#333" stroke-width="0.63" stroke-linejoin="miter"/>
<text x="2.29" y="307.00" font-size="7.0" fill="#333"  stroke="#333" stroke-width="0.22">0</text>
<text x="6.96" y="307.00" font-size="7.0" fill="#333"  stroke="#333" stroke-width="0.22">0</text>
<text transform="translate(13.57,307.00) scale(0.6,1)" x="-2.04" y="0" font-size="7.0" fill="#333" stroke="#333" stroke-width="0.22">1</text>
<text x="16.30" y="307.00" font-size="7.0" fill="#333"  stroke="#333" stroke-width="0.22">0</text>
<text x="20.97" y="307.00" font-size="7.0" fill="#333"  stroke="#333" stroke-width="0.22">0</text>
<text x="25.64" y="307.00" font-size="7.0" fill="#333"  stroke="#333" stroke-width="0.22">0</text>
<text x="30.31" y="307.00" font-size="7.0" fill="#333"  stroke="#333" stroke-width="0.22">0</text>
<text x="34.98" y="307.00" font-size="7.0" fill="#333"  stroke="#333" stroke-width="0.22">0</text>
<text x="39.65" y="307.00" font-size="7.0" fill="#333"  stroke="#333" stroke-width="0.22">0</text>
<text x="44.32" y="307.00" font-size="7.0" fill="#333"  stroke="#333" stroke-width="0.22">0</text>
<g transform="translate(147.99,355.70) rotate(90)">
<line x1="0.30" y1="-5.88" x2="0.30" y2="1.05" stroke="#333" stroke-width="0.60"/>
<polyline points="48.60,-4.24 50.60,-2.42 48.60,-0.59" fill="none" stroke="#333" stroke-width="0.63" stroke-linejoin="miter"/>
<text x="1.99" y="0.00" font-size="7.0" fill="#333"  stroke="#333" stroke-width="0.22">0</text>
<text x="6.66" y="0.00" font-size="7.0" fill="#333"  stroke="#333" stroke-width="0.22">0</text>
<text transform="translate(13.27,0.00) scale(0.6,1)" x="-2.04" y="0" font-size="7.0" fill="#333" stroke="#333" stroke-width="0.22">1</text>
<text x="16.00" y="0.00" font-size="7.0" fill="#333"  stroke="#333" stroke-width="0.22">0</text>
<text x="20.67" y="0.00" font-size="7.0" fill="#333"  stroke="#333" stroke-width="0.22">0</text>
<text x="25.34" y="0.00" font-size="7.0" fill="#333"  stroke="#333" stroke-width="0.22">0</text>
<text x="30.01" y="0.00" font-size="7.0" fill="#333"  stroke="#333" stroke-width="0.22">0</text>
<text x="34.68" y="0.00" font-size="7.0" fill="#333"  stroke="#333" stroke-width="0.22">0</text>
<text x="39.35" y="0.00" font-size="7.0" fill="#333"  stroke="#333" stroke-width="0.22">0</text>
<text x="44.02" y="0.00" font-size="7.0" fill="#333"  stroke="#333" stroke-width="0.22">0</text>
</g>
<g transform="translate(298.79,355.70) rotate(90)">
<line x1="0.30" y1="-5.88" x2="0.30" y2="1.05" stroke="#333" stroke-width="0.60"/>
<polyline points="48.60,-4.24 50.60,-2.42 48.60,-0.59" fill="none" stroke="#333" stroke-width="0.63" stroke-linejoin="miter"/>
<text x="1.99" y="0.00" font-size="7.0" fill="#333"  stroke="#333" stroke-width="0.22">0</text>
<text x="6.66" y="0.00" font-size="7.0" fill="#333"  stroke="#333" stroke-width="0.22">0</text>
<text transform="translate(13.27,0.00) scale(0.6,1)" x="-2.04" y="0" font-size="7.0" fill="#333" stroke="#333" stroke-width="0.22">1</text>
<text x="16.00" y="0.00" font-size="7.0" fill="#333"  stroke="#333" stroke-width="0.22">0</text>
<text x="20.67" y="0.00" font-size="7.0" fill="#333"  stroke="#333" stroke-width="0.22">0</text>
<text x="25.34" y="0.00" font-size="7.0" fill="#333"  stroke="#333" stroke-width="0.22">0</text>
<text x="30.01" y="0.00" font-size="7.0" fill="#333"  stroke="#333" stroke-width="0.22">0</text>
<text x="34.68" y="0.00" font-size="7.0" fill="#333"  stroke="#333" stroke-width="0.22">0</text>
<text x="39.35" y="0.00" font-size="7.0" fill="#333"  stroke="#333" stroke-width="0.22">0</text>
<text x="44.02" y="0.00" font-size="7.0" fill="#333"  stroke="#333" stroke-width="0.22">0</text>
</g>
<line x1="0.60" y1="315.62" x2="0.60" y2="322.55" stroke="#333" stroke-width="0.60"/>
<polyline points="48.90,317.26 50.90,319.08 48.90,320.90" fill="none" stroke="#333" stroke-width="0.63" stroke-linejoin="miter"/>
<text x="2.29" y="321.50" font-size="7.0" fill="#333"  stroke="#333" stroke-width="0.22">0</text>
<text transform="translate(8.91,321.50) scale(0.6,1)" x="-2.04" y="0" font-size="7.0" fill="#333" stroke="#333" stroke-width="0.22">1</text>
<text x="11.63" y="321.50" font-size="7.0" fill="#333"  stroke="#333" stroke-width="0.22">0</text>
<text x="16.30" y="321.50" font-size="7.0" fill="#333"  stroke="#333" stroke-width="0.22">0</text>
<text x="20.97" y="321.50" font-size="7.0" fill="#333"  stroke="#333" stroke-width="0.22">0</text>
<text x="25.64" y="321.50" font-size="7.0" fill="#333"  stroke="#333" stroke-width="0.22">0</text>
<text x="30.31" y="321.50" font-size="7.0" fill="#333"  stroke="#333" stroke-width="0.22">0</text>
<text x="34.98" y="321.50" font-size="7.0" fill="#333"  stroke="#333" stroke-width="0.22">0</text>
<text x="39.65" y="321.50" font-size="7.0" fill="#333"  stroke="#333" stroke-width="0.22">0</text>
<text x="44.32" y="321.50" font-size="7.0" fill="#333"  stroke="#333" stroke-width="0.22">0</text>
<g transform="translate(162.49,355.70) rotate(90)">
<line x1="0.30" y1="-5.88" x2="0.30" y2="1.05" stroke="#333" stroke-width="0.60"/>
<polyline points="48.60,-4.24 50.60,-2.42 48.60,-0.59" fill="none" stroke="#333" stroke-width="0.63" stroke-linejoin="miter"/>
<text x="1.99" y="0.00" font-size="7.0" fill="#333"  stroke="#333" stroke-width="0.22">0</text>
<text transform="translate(8.61,0.00) scale(0.6,1)" x="-2.04" y="0" font-size="7.0" fill="#333" stroke="#333" stroke-width="0.22">1</text>
<text x="11.33" y="0.00" font-size="7.0" fill="#333"  stroke="#333" stroke-width="0.22">0</text>
<text x="16.00" y="0.00" font-size="7.0" fill="#333"  stroke="#333" stroke-width="0.22">0</text>
<text x="20.67" y="0.00" font-size="7.0" fill="#333"  stroke="#333" stroke-width="0.22">0</text>
<text x="25.34" y="0.00" font-size="7.0" fill="#333"  stroke="#333" stroke-width="0.22">0</text>
<text x="30.01" y="0.00" font-size="7.0" fill="#333"  stroke="#333" stroke-width="0.22">0</text>
<text x="34.68" y="0.00" font-size="7.0" fill="#333"  stroke="#333" stroke-width="0.22">0</text>
<text x="39.35" y="0.00" font-size="7.0" fill="#333"  stroke="#333" stroke-width="0.22">0</text>
<text x="44.02" y="0.00" font-size="7.0" fill="#333"  stroke="#333" stroke-width="0.22">0</text>
</g>
<g transform="translate(313.29,355.70) rotate(90)">
<line x1="0.30" y1="-5.88" x2="0.30" y2="1.05" stroke="#333" stroke-width="0.60"/>
<polyline points="48.60,-4.24 50.60,-2.42 48.60,-0.59" fill="none" stroke="#333" stroke-width="0.63" stroke-linejoin="miter"/>
<text x="1.99" y="0.00" font-size="7.0" fill="#333"  stroke="#333" stroke-width="0.22">0</text>
<text transform="translate(8.61,0.00) scale(0.6,1)" x="-2.04" y="0" font-size="7.0" fill="#333" stroke="#333" stroke-width="0.22">1</text>
<text x="11.33" y="0.00" font-size="7.0" fill="#333"  stroke="#333" stroke-width="0.22">0</text>
<text x="16.00" y="0.00" font-size="7.0" fill="#333"  stroke="#333" stroke-width="0.22">0</text>
<text x="20.67" y="0.00" font-size="7.0" fill="#333"  stroke="#333" stroke-width="0.22">0</text>
<text x="25.34" y="0.00" font-size="7.0" fill="#333"  stroke="#333" stroke-width="0.22">0</text>
<text x="30.01" y="0.00" font-size="7.0" fill="#333"  stroke="#333" stroke-width="0.22">0</text>
<text x="34.68" y="0.00" font-size="7.0" fill="#333"  stroke="#333" stroke-width="0.22">0</text>
<text x="39.35" y="0.00" font-size="7.0" fill="#333"  stroke="#333" stroke-width="0.22">0</text>
<text x="44.02" y="0.00" font-size="7.0" fill="#333"  stroke="#333" stroke-width="0.22">0</text>
</g>
<line x1="0.60" y1="329.42" x2="0.60" y2="336.35" stroke="#333" stroke-width="0.60"/>
<polyline points="48.90,331.06 50.90,332.88 48.90,334.70" fill="none" stroke="#333" stroke-width="0.63" stroke-linejoin="miter"/>
<text transform="translate(4.23,335.30) scale(0.6,1)" x="-2.04" y="0" font-size="7.0" fill="#333" stroke="#333" stroke-width="0.22">1</text>
<text x="6.96" y="335.30" font-size="7.0" fill="#333"  stroke="#333" stroke-width="0.22">0</text>
<text x="11.63" y="335.30" font-size="7.0" fill="#333"  stroke="#333" stroke-width="0.22">0</text>
<text x="16.30" y="335.30" font-size="7.0" fill="#333"  stroke="#333" stroke-width="0.22">0</text>
<text x="20.97" y="335.30" font-size="7.0" fill="#333"  stroke="#333" stroke-width="0.22">0</text>
<text x="25.64" y="335.30" font-size="7.0" fill="#333"  stroke="#333" stroke-width="0.22">0</text>
<text x="30.31" y="335.30" font-size="7.0" fill="#333"  stroke="#333" stroke-width="0.22">0</text>
<text x="34.98" y="335.30" font-size="7.0" fill="#333"  stroke="#333" stroke-width="0.22">0</text>
<text x="39.65" y="335.30" font-size="7.0" fill="#333"  stroke="#333" stroke-width="0.22">0</text>
<text x="44.32" y="335.30" font-size="7.0" fill="#333"  stroke="#333" stroke-width="0.22">0</text>
<g transform="translate(177.19,355.70) rotate(90)">
<line x1="0.30" y1="-5.88" x2="0.30" y2="1.05" stroke="#333" stroke-width="0.60"/>
<polyline points="48.60,-4.24 50.60,-2.42 48.60,-0.59" fill="none" stroke="#333" stroke-width="0.63" stroke-linejoin="miter"/>
<text transform="translate(3.94,0.00) scale(0.6,1)" x="-2.04" y="0" font-size="7.0" fill="#333" stroke="#333" stroke-width="0.22">1</text>
<text x="6.66" y="0.00" font-size="7.0" fill="#333"  stroke="#333" stroke-width="0.22">0</text>
<text x="11.33" y="0.00" font-size="7.0" fill="#333"  stroke="#333" stroke-width="0.22">0</text>
<text x="16.00" y="0.00" font-size="7.0" fill="#333"  stroke="#333" stroke-width="0.22">0</text>
<text x="20.67" y="0.00" font-size="7.0" fill="#333"  stroke="#333" stroke-width="0.22">0</text>
<text x="25.34" y="0.00" font-size="7.0" fill="#333"  stroke="#333" stroke-width="0.22">0</text>
<text x="30.01" y="0.00" font-size="7.0" fill="#333"  stroke="#333" stroke-width="0.22">0</text>
<text x="34.68" y="0.00" font-size="7.0" fill="#333"  stroke="#333" stroke-width="0.22">0</text>
<text x="39.35" y="0.00" font-size="7.0" fill="#333"  stroke="#333" stroke-width="0.22">0</text>
<text x="44.02" y="0.00" font-size="7.0" fill="#333"  stroke="#333" stroke-width="0.22">0</text>
</g>
<g transform="translate(327.99,355.70) rotate(90)">
<line x1="0.30" y1="-5.88" x2="0.30" y2="1.05" stroke="#333" stroke-width="0.60"/>
<polyline points="48.60,-4.24 50.60,-2.42 48.60,-0.59" fill="none" stroke="#333" stroke-width="0.63" stroke-linejoin="miter"/>
<text transform="translate(3.94,0.00) scale(0.6,1)" x="-2.04" y="0" font-size="7.0" fill="#333" stroke="#333" stroke-width="0.22">1</text>
<text x="6.66" y="0.00" font-size="7.0" fill="#333"  stroke="#333" stroke-width="0.22">0</text>
<text x="11.33" y="0.00" font-size="7.0" fill="#333"  stroke="#333" stroke-width="0.22">0</text>
<text x="16.00" y="0.00" font-size="7.0" fill="#333"  stroke="#333" stroke-width="0.22">0</text>
<text x="20.67" y="0.00" font-size="7.0" fill="#333"  stroke="#333" stroke-width="0.22">0</text>
<text x="25.34" y="0.00" font-size="7.0" fill="#333"  stroke="#333" stroke-width="0.22">0</text>
<text x="30.01" y="0.00" font-size="7.0" fill="#333"  stroke="#333" stroke-width="0.22">0</text>
<text x="34.68" y="0.00" font-size="7.0" fill="#333"  stroke="#333" stroke-width="0.22">0</text>
<text x="39.35" y="0.00" font-size="7.0" fill="#333"  stroke="#333" stroke-width="0.22">0</text>
<text x="44.02" y="0.00" font-size="7.0" fill="#333"  stroke="#333" stroke-width="0.22">0</text>
</g>
</svg>
</body></html>
